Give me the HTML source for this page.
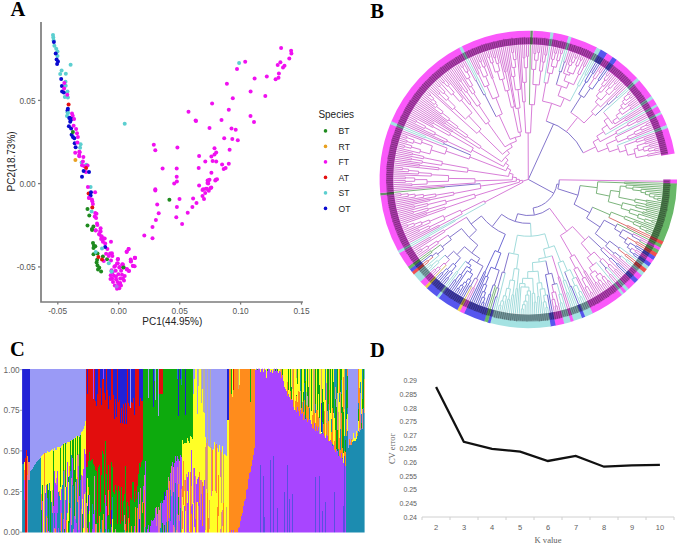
<!DOCTYPE html>
<html><head><meta charset="utf-8"><style>
html,body{margin:0;padding:0;background:#fff;width:685px;height:556px;overflow:hidden}
svg{display:block}
</style></head><body>
<svg width="685" height="556" viewBox="0 0 685 556">
<rect width="685" height="556" fill="#fff"/>
<g font-family="Liberation Sans, sans-serif">
<text x="10.5" y="15.8" font-family="Liberation Serif, serif" font-weight="bold" font-size="20.5">A</text>
<path d="M41 21.9V302H302.9" fill="none" stroke="#7c7c7c" stroke-width="1.7"/>
<line x1="57.8" y1="302" x2="57.8" y2="304.6" stroke="#7c7c7c" stroke-width="1.3"/>
<line x1="118.7" y1="302" x2="118.7" y2="304.6" stroke="#7c7c7c" stroke-width="1.3"/>
<line x1="179.7" y1="302" x2="179.7" y2="304.6" stroke="#7c7c7c" stroke-width="1.3"/>
<line x1="240.6" y1="302" x2="240.6" y2="304.6" stroke="#7c7c7c" stroke-width="1.3"/>
<line x1="301.5" y1="302" x2="301.5" y2="304.6" stroke="#7c7c7c" stroke-width="1.3"/>
<line x1="38" y1="100.4" x2="41" y2="100.4" stroke="#7c7c7c" stroke-width="1.3"/>
<line x1="38" y1="183.6" x2="41" y2="183.6" stroke="#7c7c7c" stroke-width="1.3"/>
<line x1="38" y1="266.9" x2="41" y2="266.9" stroke="#7c7c7c" stroke-width="1.3"/>
<text x="57.6" y="313.8" font-size="8.3" fill="#555" text-anchor="middle">-0.05</text>
<text x="118.7" y="313.8" font-size="8.3" fill="#555" text-anchor="middle">0.00</text>
<text x="179.7" y="313.8" font-size="8.3" fill="#555" text-anchor="middle">0.05</text>
<text x="240.6" y="313.8" font-size="8.3" fill="#555" text-anchor="middle">0.10</text>
<text x="301.5" y="313.8" font-size="8.3" fill="#555" text-anchor="middle">0.15</text>
<text x="35.6" y="103.80000000000001" font-size="8.3" fill="#555" text-anchor="end">0.05</text>
<text x="35.6" y="187.0" font-size="8.3" fill="#555" text-anchor="end">0.00</text>
<text x="35.6" y="270.29999999999995" font-size="8.3" fill="#555" text-anchor="end">-0.05</text>
<text x="172.3" y="325.4" font-size="10" fill="#222" text-anchor="middle">PC1(44.95%)</text>
<text transform="translate(14.6 161.4) rotate(-90)" font-size="10" fill="#222" text-anchor="middle">PC2(18.73%)</text>
<text x="318.4" y="117.7" font-size="10" fill="#222">Species</text>
<circle cx="325.5" cy="130.9" r="1.8" fill="#1f8b1f"/>
<text x="338.6" y="134.0" font-size="8.6" fill="#222">BT</text>
<circle cx="325.5" cy="146.4" r="1.8" fill="#e8a020"/>
<text x="338.6" y="149.5" font-size="8.6" fill="#222">RT</text>
<circle cx="325.5" cy="161.9" r="1.8" fill="#f010f0"/>
<text x="338.6" y="165.0" font-size="8.6" fill="#222">FT</text>
<circle cx="325.5" cy="177.4" r="1.8" fill="#e41010"/>
<text x="338.6" y="180.5" font-size="8.6" fill="#222">AT</text>
<circle cx="325.5" cy="192.9" r="1.8" fill="#5ccfd0"/>
<text x="338.6" y="196.0" font-size="8.6" fill="#222">ST</text>
<circle cx="325.5" cy="208.4" r="1.8" fill="#0a0ad0"/>
<text x="338.6" y="211.5" font-size="8.6" fill="#222">OT</text>
</g>
<g>
<circle cx="53.0" cy="34.9" r="2.0" fill="#5ccfd0"/>
<circle cx="53.3" cy="37.6" r="2.0" fill="#5ccfd0"/>
<circle cx="53.6" cy="40.5" r="2.0" fill="#5ccfd0"/>
<circle cx="54.4" cy="45.7" r="2.0" fill="#5ccfd0"/>
<circle cx="56.2" cy="48.8" r="2.0" fill="#5ccfd0"/>
<circle cx="57.5" cy="51.5" r="2.0" fill="#5ccfd0"/>
<circle cx="57.5" cy="56.0" r="2.0" fill="#5ccfd0"/>
<circle cx="53.9" cy="42.1" r="2.0" fill="#0a0ad0"/>
<circle cx="55.7" cy="53.6" r="2.0" fill="#0a0ad0"/>
<circle cx="56.6" cy="59.6" r="2.0" fill="#0a0ad0"/>
<circle cx="58.0" cy="61.4" r="2.0" fill="#0a0ad0"/>
<circle cx="57.1" cy="64.1" r="2.0" fill="#0a0ad0"/>
<circle cx="70.6" cy="64.8" r="2.0" fill="#5ccfd0"/>
<circle cx="61.6" cy="70.4" r="2.0" fill="#5ccfd0"/>
<circle cx="60.2" cy="74.0" r="2.0" fill="#5ccfd0"/>
<circle cx="65.8" cy="73.7" r="2.0" fill="#5ccfd0"/>
<circle cx="61.2" cy="79.0" r="2.0" fill="#0a0ad0"/>
<circle cx="61.9" cy="86.0" r="2.0" fill="#0a0ad0"/>
<circle cx="62.1" cy="91.6" r="2.0" fill="#0a0ad0"/>
<circle cx="63.9" cy="92.5" r="2.0" fill="#0a0ad0"/>
<circle cx="67.9" cy="108.7" r="2.0" fill="#0a0ad0"/>
<circle cx="69.7" cy="117.7" r="2.0" fill="#0a0ad0"/>
<circle cx="65.5" cy="81.7" r="2.0" fill="#5ccfd0"/>
<circle cx="65.7" cy="85.7" r="2.0" fill="#5ccfd0"/>
<circle cx="67.5" cy="91.4" r="2.0" fill="#5ccfd0"/>
<circle cx="64.8" cy="97.0" r="2.0" fill="#5ccfd0"/>
<circle cx="67.9" cy="97.4" r="2.0" fill="#5ccfd0"/>
<circle cx="67.5" cy="112.3" r="2.0" fill="#5ccfd0"/>
<circle cx="67.0" cy="115.9" r="2.0" fill="#5ccfd0"/>
<circle cx="64.3" cy="83.0" r="2.0" fill="#f010f0"/>
<circle cx="64.1" cy="88.4" r="2.0" fill="#f010f0"/>
<circle cx="67.3" cy="94.7" r="2.0" fill="#f010f0"/>
<circle cx="72.0" cy="113.4" r="2.0" fill="#f010f0"/>
<circle cx="72.7" cy="115.7" r="2.0" fill="#f010f0"/>
<circle cx="68.6" cy="104.6" r="2.0" fill="#e41010"/>
<circle cx="67.5" cy="110.4" r="2.0" fill="#0a0ad0"/>
<circle cx="69.3" cy="118.1" r="2.0" fill="#0a0ad0"/>
<circle cx="70.7" cy="119.9" r="2.0" fill="#0a0ad0"/>
<circle cx="70.2" cy="121.7" r="2.0" fill="#0a0ad0"/>
<circle cx="71.6" cy="119.0" r="2.0" fill="#0a0ad0"/>
<circle cx="68.9" cy="126.2" r="2.0" fill="#0a0ad0"/>
<circle cx="71.1" cy="128.4" r="2.0" fill="#0a0ad0"/>
<circle cx="71.6" cy="134.7" r="2.0" fill="#0a0ad0"/>
<circle cx="72.9" cy="137.0" r="2.0" fill="#0a0ad0"/>
<circle cx="74.3" cy="138.3" r="2.0" fill="#0a0ad0"/>
<circle cx="74.7" cy="143.3" r="2.0" fill="#0a0ad0"/>
<circle cx="75.6" cy="147.3" r="2.0" fill="#0a0ad0"/>
<circle cx="68.0" cy="113.1" r="2.0" fill="#5ccfd0"/>
<circle cx="80.6" cy="144.2" r="2.0" fill="#5ccfd0"/>
<circle cx="80.1" cy="147.8" r="2.0" fill="#5ccfd0"/>
<circle cx="74.1" cy="119.0" r="2.0" fill="#f010f0"/>
<circle cx="73.6" cy="125.7" r="2.0" fill="#f010f0"/>
<circle cx="76.1" cy="128.9" r="2.0" fill="#f010f0"/>
<circle cx="77.0" cy="133.2" r="2.0" fill="#f010f0"/>
<circle cx="77.9" cy="137.0" r="2.0" fill="#f010f0"/>
<circle cx="77.4" cy="142.4" r="2.0" fill="#f010f0"/>
<circle cx="75.2" cy="152.7" r="2.0" fill="#f010f0"/>
<circle cx="79.7" cy="152.3" r="2.0" fill="#f010f0"/>
<circle cx="79.2" cy="155.0" r="2.0" fill="#f010f0"/>
<circle cx="83.4" cy="156.9" r="2.0" fill="#f010f0"/>
<circle cx="79.3" cy="151.8" r="2.0" fill="#f010f0"/>
<circle cx="79.3" cy="156.3" r="2.0" fill="#f010f0"/>
<circle cx="72.9" cy="132.0" r="2.0" fill="#1f8b1f"/>
<circle cx="75.4" cy="160.0" r="2.0" fill="#e8a020"/>
<circle cx="81.6" cy="162.6" r="2.0" fill="#5ccfd0"/>
<circle cx="86.2" cy="164.8" r="2.0" fill="#5ccfd0"/>
<circle cx="90.6" cy="186.9" r="2.0" fill="#5ccfd0"/>
<circle cx="82.9" cy="161.5" r="2.0" fill="#f010f0"/>
<circle cx="82.0" cy="165.3" r="2.0" fill="#f010f0"/>
<circle cx="84.3" cy="166.2" r="2.0" fill="#f010f0"/>
<circle cx="87.6" cy="165.6" r="2.0" fill="#f010f0"/>
<circle cx="85.9" cy="172.0" r="2.0" fill="#f010f0"/>
<circle cx="87.9" cy="186.9" r="2.0" fill="#f010f0"/>
<circle cx="95.1" cy="192.3" r="2.0" fill="#f010f0"/>
<circle cx="89.2" cy="197.7" r="2.0" fill="#f010f0"/>
<circle cx="91.9" cy="199.5" r="2.0" fill="#f010f0"/>
<circle cx="86.1" cy="168.0" r="2.0" fill="#e41010"/>
<circle cx="88.6" cy="193.6" r="2.0" fill="#e41010"/>
<circle cx="83.6" cy="171.1" r="2.0" fill="#0a0ad0"/>
<circle cx="89.0" cy="172.0" r="2.0" fill="#0a0ad0"/>
<circle cx="82.0" cy="176.8" r="2.0" fill="#0a0ad0"/>
<circle cx="91.0" cy="192.3" r="2.0" fill="#0a0ad0"/>
<circle cx="90.6" cy="195.4" r="2.0" fill="#0a0ad0"/>
<circle cx="88.9" cy="198.1" r="2.0" fill="#f010f0"/>
<circle cx="92.3" cy="201.2" r="2.0" fill="#f010f0"/>
<circle cx="92.9" cy="203.9" r="2.0" fill="#f010f0"/>
<circle cx="95.2" cy="212.9" r="2.0" fill="#f010f0"/>
<circle cx="96.5" cy="213.8" r="2.0" fill="#f010f0"/>
<circle cx="94.7" cy="216.5" r="2.0" fill="#f010f0"/>
<circle cx="96.1" cy="217.9" r="2.0" fill="#f010f0"/>
<circle cx="97.0" cy="223.5" r="2.0" fill="#f010f0"/>
<circle cx="97.4" cy="225.1" r="2.0" fill="#f010f0"/>
<circle cx="95.6" cy="230.3" r="2.0" fill="#f010f0"/>
<circle cx="100.6" cy="228.2" r="2.0" fill="#f010f0"/>
<circle cx="100.6" cy="231.4" r="2.0" fill="#f010f0"/>
<circle cx="99.2" cy="234.1" r="2.0" fill="#f010f0"/>
<circle cx="101.5" cy="236.8" r="2.0" fill="#f010f0"/>
<circle cx="103.7" cy="238.6" r="2.0" fill="#f010f0"/>
<circle cx="92.3" cy="207.5" r="2.0" fill="#e41010"/>
<circle cx="87.5" cy="209.1" r="2.0" fill="#1f8b1f"/>
<circle cx="89.3" cy="215.4" r="2.0" fill="#1f8b1f"/>
<circle cx="87.5" cy="225.5" r="2.0" fill="#1f8b1f"/>
<circle cx="93.4" cy="226.4" r="2.0" fill="#1f8b1f"/>
<circle cx="92.0" cy="228.9" r="2.0" fill="#1f8b1f"/>
<circle cx="91.6" cy="211.6" r="2.0" fill="#5ccfd0"/>
<circle cx="92.1" cy="230.0" r="2.0" fill="#1f8b1f"/>
<circle cx="93.0" cy="243.0" r="2.0" fill="#1f8b1f"/>
<circle cx="93.9" cy="245.7" r="2.0" fill="#1f8b1f"/>
<circle cx="95.3" cy="246.2" r="2.0" fill="#1f8b1f"/>
<circle cx="93.5" cy="248.0" r="2.0" fill="#1f8b1f"/>
<circle cx="93.5" cy="254.3" r="2.0" fill="#1f8b1f"/>
<circle cx="97.5" cy="253.4" r="2.0" fill="#1f8b1f"/>
<circle cx="102.9" cy="256.5" r="2.0" fill="#1f8b1f"/>
<circle cx="107.0" cy="259.2" r="2.0" fill="#1f8b1f"/>
<circle cx="97.1" cy="259.7" r="2.0" fill="#1f8b1f"/>
<circle cx="96.6" cy="262.4" r="2.0" fill="#1f8b1f"/>
<circle cx="97.5" cy="265.5" r="2.0" fill="#1f8b1f"/>
<circle cx="99.3" cy="267.8" r="2.0" fill="#1f8b1f"/>
<circle cx="98.0" cy="269.6" r="2.0" fill="#1f8b1f"/>
<circle cx="101.1" cy="271.4" r="2.0" fill="#1f8b1f"/>
<circle cx="123.6" cy="267.3" r="2.0" fill="#1f8b1f"/>
<circle cx="95.7" cy="230.4" r="2.0" fill="#f010f0"/>
<circle cx="100.2" cy="230.9" r="2.0" fill="#f010f0"/>
<circle cx="99.3" cy="234.5" r="2.0" fill="#f010f0"/>
<circle cx="101.6" cy="236.3" r="2.0" fill="#f010f0"/>
<circle cx="101.1" cy="239.0" r="2.0" fill="#f010f0"/>
<circle cx="104.7" cy="238.5" r="2.0" fill="#f010f0"/>
<circle cx="102.9" cy="241.7" r="2.0" fill="#f010f0"/>
<circle cx="105.2" cy="243.5" r="2.0" fill="#f010f0"/>
<circle cx="111.0" cy="241.7" r="2.0" fill="#f010f0"/>
<circle cx="107.4" cy="248.9" r="2.0" fill="#f010f0"/>
<circle cx="106.1" cy="253.8" r="2.0" fill="#f010f0"/>
<circle cx="110.1" cy="253.4" r="2.0" fill="#f010f0"/>
<circle cx="111.9" cy="253.2" r="2.0" fill="#f010f0"/>
<circle cx="108.8" cy="256.1" r="2.0" fill="#f010f0"/>
<circle cx="112.4" cy="256.1" r="2.0" fill="#f010f0"/>
<circle cx="128.6" cy="248.9" r="2.0" fill="#f010f0"/>
<circle cx="126.8" cy="251.6" r="2.0" fill="#f010f0"/>
<circle cx="103.8" cy="261.0" r="2.0" fill="#f010f0"/>
<circle cx="111.0" cy="260.6" r="2.0" fill="#f010f0"/>
<circle cx="117.8" cy="259.2" r="2.0" fill="#f010f0"/>
<circle cx="134.9" cy="257.9" r="2.0" fill="#f010f0"/>
<circle cx="130.8" cy="261.5" r="2.0" fill="#f010f0"/>
<circle cx="133.1" cy="266.0" r="2.0" fill="#f010f0"/>
<circle cx="117.8" cy="263.3" r="2.0" fill="#f010f0"/>
<circle cx="115.1" cy="266.0" r="2.0" fill="#f010f0"/>
<circle cx="119.6" cy="266.9" r="2.0" fill="#f010f0"/>
<circle cx="122.3" cy="264.2" r="2.0" fill="#f010f0"/>
<circle cx="126.8" cy="269.6" r="2.0" fill="#f010f0"/>
<circle cx="129.0" cy="270.9" r="2.0" fill="#f010f0"/>
<circle cx="105.2" cy="246.9" r="2.0" fill="#0a0ad0"/>
<circle cx="102.0" cy="248.4" r="2.0" fill="#5ccfd0"/>
<circle cx="95.7" cy="252.0" r="2.0" fill="#5ccfd0"/>
<circle cx="108.8" cy="263.3" r="2.0" fill="#5ccfd0"/>
<circle cx="98.4" cy="257.0" r="2.0" fill="#e41010"/>
<circle cx="102.0" cy="259.5" r="2.0" fill="#e41010"/>
<circle cx="118.0" cy="259.0" r="2.0" fill="#f010f0"/>
<circle cx="117.0" cy="263.5" r="2.0" fill="#f010f0"/>
<circle cx="114.3" cy="266.7" r="2.0" fill="#f010f0"/>
<circle cx="119.3" cy="267.6" r="2.0" fill="#f010f0"/>
<circle cx="111.6" cy="270.3" r="2.0" fill="#f010f0"/>
<circle cx="115.7" cy="270.7" r="2.0" fill="#f010f0"/>
<circle cx="121.1" cy="270.7" r="2.0" fill="#f010f0"/>
<circle cx="110.7" cy="275.2" r="2.0" fill="#f010f0"/>
<circle cx="113.9" cy="275.7" r="2.0" fill="#f010f0"/>
<circle cx="118.4" cy="274.3" r="2.0" fill="#f010f0"/>
<circle cx="122.0" cy="274.8" r="2.0" fill="#f010f0"/>
<circle cx="124.7" cy="276.1" r="2.0" fill="#f010f0"/>
<circle cx="112.1" cy="278.8" r="2.0" fill="#f010f0"/>
<circle cx="116.1" cy="279.3" r="2.0" fill="#f010f0"/>
<circle cx="120.2" cy="278.4" r="2.0" fill="#f010f0"/>
<circle cx="122.9" cy="278.8" r="2.0" fill="#f010f0"/>
<circle cx="113.0" cy="282.0" r="2.0" fill="#f010f0"/>
<circle cx="117.5" cy="282.0" r="2.0" fill="#f010f0"/>
<circle cx="120.2" cy="282.9" r="2.0" fill="#f010f0"/>
<circle cx="114.8" cy="285.6" r="2.0" fill="#f010f0"/>
<circle cx="118.4" cy="285.1" r="2.0" fill="#f010f0"/>
<circle cx="117.0" cy="288.7" r="2.0" fill="#f010f0"/>
<circle cx="119.3" cy="288.3" r="2.0" fill="#f010f0"/>
<circle cx="112.5" cy="272.5" r="2.0" fill="#f010f0"/>
<circle cx="110.5" cy="279.0" r="2.0" fill="#f010f0"/>
<circle cx="124.0" cy="280.5" r="2.0" fill="#f010f0"/>
<circle cx="116.0" cy="276.5" r="2.0" fill="#f010f0"/>
<circle cx="121.0" cy="285.5" r="2.0" fill="#f010f0"/>
<circle cx="122.9" cy="264.4" r="2.0" fill="#f010f0"/>
<circle cx="126.9" cy="268.9" r="2.0" fill="#f010f0"/>
<circle cx="128.7" cy="270.7" r="2.0" fill="#f010f0"/>
<circle cx="131.0" cy="261.3" r="2.0" fill="#f010f0"/>
<circle cx="135.0" cy="257.7" r="2.0" fill="#f010f0"/>
<circle cx="132.8" cy="265.8" r="2.0" fill="#f010f0"/>
<circle cx="134.6" cy="266.2" r="2.0" fill="#f010f0"/>
<circle cx="123.3" cy="267.6" r="2.0" fill="#1f8b1f"/>
<circle cx="111.6" cy="271.6" r="2.0" fill="#5ccfd0"/>
<circle cx="111.5" cy="271.4" r="2.0" fill="#5ccfd0"/>
<circle cx="116.6" cy="286.5" r="2.0" fill="#b070e8"/>
<circle cx="155.3" cy="190.6" r="2.0" fill="#f010f0"/>
<circle cx="179.5" cy="199.1" r="2.0" fill="#f010f0"/>
<circle cx="193.1" cy="198.4" r="2.0" fill="#f010f0"/>
<circle cx="196.5" cy="203.0" r="2.0" fill="#f010f0"/>
<circle cx="157.2" cy="204.5" r="2.0" fill="#f010f0"/>
<circle cx="176.9" cy="207.0" r="2.0" fill="#f010f0"/>
<circle cx="192.4" cy="207.0" r="2.0" fill="#f010f0"/>
<circle cx="158.7" cy="213.3" r="2.0" fill="#f010f0"/>
<circle cx="187.7" cy="212.7" r="2.0" fill="#f010f0"/>
<circle cx="176.3" cy="217.2" r="2.0" fill="#f010f0"/>
<circle cx="155.9" cy="220.0" r="2.0" fill="#f010f0"/>
<circle cx="182.1" cy="224.0" r="2.0" fill="#f010f0"/>
<circle cx="152.5" cy="226.9" r="2.0" fill="#f010f0"/>
<circle cx="144.3" cy="235.6" r="2.0" fill="#f010f0"/>
<circle cx="152.5" cy="238.3" r="2.0" fill="#f010f0"/>
<circle cx="128.6" cy="249.0" r="2.0" fill="#f010f0"/>
<circle cx="126.6" cy="252.0" r="2.0" fill="#f010f0"/>
<circle cx="134.9" cy="257.8" r="2.0" fill="#f010f0"/>
<circle cx="130.7" cy="259.5" r="2.0" fill="#f010f0"/>
<circle cx="169.4" cy="199.7" r="2.0" fill="#1f8b1f"/>
<circle cx="124.7" cy="123.8" r="2.0" fill="#5ccfd0"/>
<circle cx="195.6" cy="120.6" r="2.0" fill="#f010f0"/>
<circle cx="153.8" cy="144.8" r="2.0" fill="#f010f0"/>
<circle cx="155.3" cy="150.2" r="2.0" fill="#f010f0"/>
<circle cx="177.4" cy="147.5" r="2.0" fill="#f010f0"/>
<circle cx="199.1" cy="155.9" r="2.0" fill="#f010f0"/>
<circle cx="162.6" cy="168.5" r="2.0" fill="#f010f0"/>
<circle cx="176.7" cy="168.5" r="2.0" fill="#f010f0"/>
<circle cx="198.7" cy="167.9" r="2.0" fill="#f010f0"/>
<circle cx="176.7" cy="176.7" r="2.0" fill="#f010f0"/>
<circle cx="176.9" cy="181.5" r="2.0" fill="#f010f0"/>
<circle cx="174.2" cy="183.6" r="2.0" fill="#f010f0"/>
<circle cx="199.1" cy="185.5" r="2.0" fill="#f010f0"/>
<circle cx="155.3" cy="189.3" r="2.0" fill="#f010f0"/>
<circle cx="221.5" cy="120.0" r="2.0" fill="#f010f0"/>
<circle cx="254.0" cy="121.9" r="2.0" fill="#f010f0"/>
<circle cx="209.5" cy="127.9" r="2.0" fill="#f010f0"/>
<circle cx="231.5" cy="128.6" r="2.0" fill="#f010f0"/>
<circle cx="235.7" cy="129.8" r="2.0" fill="#f010f0"/>
<circle cx="224.2" cy="138.3" r="2.0" fill="#f010f0"/>
<circle cx="232.3" cy="138.9" r="2.0" fill="#f010f0"/>
<circle cx="237.8" cy="140.2" r="2.0" fill="#f010f0"/>
<circle cx="214.5" cy="148.3" r="2.0" fill="#f010f0"/>
<circle cx="229.6" cy="149.7" r="2.0" fill="#f010f0"/>
<circle cx="216.2" cy="152.5" r="2.0" fill="#f010f0"/>
<circle cx="211.4" cy="156.5" r="2.0" fill="#f010f0"/>
<circle cx="214.5" cy="154.6" r="2.0" fill="#f010f0"/>
<circle cx="205.3" cy="161.6" r="2.0" fill="#f010f0"/>
<circle cx="212.6" cy="161.0" r="2.0" fill="#f010f0"/>
<circle cx="216.2" cy="161.6" r="2.0" fill="#f010f0"/>
<circle cx="222.1" cy="164.5" r="2.0" fill="#f010f0"/>
<circle cx="228.8" cy="163.8" r="2.0" fill="#f010f0"/>
<circle cx="223.7" cy="169.1" r="2.0" fill="#f010f0"/>
<circle cx="225.6" cy="167.9" r="2.0" fill="#f010f0"/>
<circle cx="211.4" cy="172.7" r="2.0" fill="#f010f0"/>
<circle cx="207.6" cy="180.5" r="2.0" fill="#f010f0"/>
<circle cx="209.5" cy="179.8" r="2.0" fill="#f010f0"/>
<circle cx="208.2" cy="183.6" r="2.0" fill="#f010f0"/>
<circle cx="215.8" cy="179.8" r="2.0" fill="#f010f0"/>
<circle cx="217.0" cy="179.2" r="2.0" fill="#f010f0"/>
<circle cx="203.2" cy="189.3" r="2.0" fill="#f010f0"/>
<circle cx="207.0" cy="188.7" r="2.0" fill="#f010f0"/>
<circle cx="210.7" cy="188.0" r="2.0" fill="#f010f0"/>
<circle cx="208.4" cy="180.6" r="2.0" fill="#f010f0"/>
<circle cx="207.5" cy="183.1" r="2.0" fill="#f010f0"/>
<circle cx="215.3" cy="180.6" r="2.0" fill="#f010f0"/>
<circle cx="202.5" cy="190.1" r="2.0" fill="#f010f0"/>
<circle cx="205.9" cy="188.8" r="2.0" fill="#f010f0"/>
<circle cx="208.8" cy="190.7" r="2.0" fill="#f010f0"/>
<circle cx="211.3" cy="187.6" r="2.0" fill="#f010f0"/>
<circle cx="205.2" cy="192.9" r="2.0" fill="#f010f0"/>
<circle cx="202.5" cy="196.1" r="2.0" fill="#f010f0"/>
<circle cx="204.0" cy="199.1" r="2.0" fill="#f010f0"/>
<circle cx="281.1" cy="47.9" r="2.0" fill="#f010f0"/>
<circle cx="291.1" cy="50.7" r="2.0" fill="#f010f0"/>
<circle cx="291.4" cy="53.5" r="2.0" fill="#f010f0"/>
<circle cx="289.3" cy="58.6" r="2.0" fill="#f010f0"/>
<circle cx="245.2" cy="61.7" r="2.0" fill="#f010f0"/>
<circle cx="237.0" cy="69.0" r="2.0" fill="#f010f0"/>
<circle cx="280.4" cy="62.3" r="2.0" fill="#f010f0"/>
<circle cx="277.7" cy="64.9" r="2.0" fill="#f010f0"/>
<circle cx="284.5" cy="65.8" r="2.0" fill="#f010f0"/>
<circle cx="283.0" cy="67.5" r="2.0" fill="#f010f0"/>
<circle cx="278.9" cy="73.6" r="2.0" fill="#f010f0"/>
<circle cx="254.6" cy="78.4" r="2.0" fill="#f010f0"/>
<circle cx="266.8" cy="76.5" r="2.0" fill="#f010f0"/>
<circle cx="278.5" cy="77.8" r="2.0" fill="#f010f0"/>
<circle cx="275.6" cy="79.3" r="2.0" fill="#f010f0"/>
<circle cx="226.9" cy="83.8" r="2.0" fill="#f010f0"/>
<circle cx="250.6" cy="91.4" r="2.0" fill="#f010f0"/>
<circle cx="265.3" cy="96.1" r="2.0" fill="#f010f0"/>
<circle cx="232.8" cy="98.2" r="2.0" fill="#f010f0"/>
<circle cx="228.8" cy="109.8" r="2.0" fill="#f010f0"/>
<circle cx="239.1" cy="62.9" r="2.0" fill="#5ccfd0"/>
<circle cx="212.1" cy="103.6" r="2.0" fill="#f010f0"/>
<circle cx="188.5" cy="111.7" r="2.0" fill="#f010f0"/>
<circle cx="250.5" cy="115.9" r="2.0" fill="#f010f0"/>
<circle cx="196.0" cy="121.0" r="2.0" fill="#f010f0"/>
</g>
<text x="370.2" y="18" font-family="Liberation Serif, serif" font-weight="bold" font-size="20.5">B</text>
<g fill="none" stroke-width="1.0">
<path stroke="#8476cc" d="M528.30 179.40L553.81 193.19M556.92 184.05A29.00 29.00 0 0 1 533.14 207.99M556.92 184.05L558.90 184.38M559.30 179.83A31.00 31.00 0 0 1 557.84 188.81M557.84 188.81L578.01 195.23M580.10 185.60A52.17 52.17 0 0 1 574.14 204.30M574.14 204.30L589.77 212.79M592.49 207.20A69.95 69.95 0 0 1 586.57 218.11M586.57 218.11L600.03 227.06M604.18 220.13A86.12 86.12 0 0 1 595.25 233.57M604.18 220.13L615.99 226.47M617.32 223.90A99.52 99.52 0 0 1 614.59 228.99M614.59 228.99L621.04 232.70M622.73 229.64A106.96 106.96 0 0 1 619.25 235.69M622.73 229.64L632.62 234.90M633.21 233.77A118.16 118.16 0 0 1 632.01 236.04M632.01 236.04L640.10 240.45M640.54 239.64A127.38 127.38 0 0 1 639.65 241.26M619.25 235.69L626.02 239.89M627.52 237.39A114.93 114.93 0 0 1 624.45 242.35M624.45 242.35L628.73 245.14M630.14 242.94A120.04 120.04 0 0 1 627.28 247.31M627.28 247.31L630.82 249.75M631.83 248.25A124.34 124.34 0 0 1 629.79 251.23M595.25 233.57L607.63 243.58M609.63 241.04A102.04 102.04 0 0 1 605.56 246.07M609.63 241.04L618.95 248.10M619.69 247.11A113.74 113.74 0 0 1 618.20 249.08M605.56 246.07L614.04 253.39M614.98 252.30A113.26 113.26 0 0 1 613.10 254.48M614.98 252.30L620.39 256.86M621.23 255.85A120.34 120.34 0 0 1 619.54 257.85M533.14 207.99L534.31 214.90M549.69 208.35A36.00 36.00 0 0 1 517.63 213.78M588.66 236.26L601.87 248.70M602.99 247.49A101.07 101.07 0 0 1 600.73 249.89M600.73 249.89L609.91 258.82M610.77 257.93A113.88 113.88 0 0 1 609.04 259.70M599.77 261.02L606.02 268.16M606.99 267.31A117.98 117.98 0 0 1 605.05 269.00M517.63 213.78L515.25 221.42M530.52 223.34A44.00 44.00 0 0 1 501.58 214.36M564.68 271.89L570.40 286.44M571.18 286.13A115.02 115.02 0 0 1 569.62 286.74M545.83 260.82L548.66 273.99M551.78 273.26A96.75 96.75 0 0 1 545.52 274.61M551.78 273.26L554.50 284.14M557.06 283.47A107.97 107.97 0 0 1 551.93 284.75M508.94 252.75L503.74 272.48M505.26 272.87A96.27 96.27 0 0 1 502.22 272.07M502.22 272.07L497.74 288.01M498.92 288.34A112.83 112.83 0 0 1 496.56 287.68M498.92 288.34L496.59 296.99M497.44 297.22A121.79 121.79 0 0 1 495.73 296.76M501.58 214.36L492.20 226.64M505.32 234.24A59.46 59.46 0 0 1 481.42 215.97M499.16 270.19L494.33 285.25M495.48 285.61A111.17 111.17 0 0 1 493.18 284.87M481.42 215.97L471.12 224.01M476.52 230.17A72.52 72.52 0 0 1 466.46 217.27M476.52 230.17L469.10 237.44M477.79 245.15A82.91 82.91 0 0 1 461.56 228.59M477.79 245.15L471.81 252.94M479.74 258.40A92.73 92.73 0 0 1 464.49 246.69M479.74 258.40L477.03 262.80M483.01 266.19A97.90 97.90 0 0 1 471.31 259.00M483.01 266.19L476.46 278.74M477.90 279.48A112.06 112.06 0 0 1 475.02 277.98M475.02 277.98L470.61 286.14M471.39 286.56A121.33 121.33 0 0 1 469.84 285.72M464.49 246.69L457.02 254.57M460.53 257.76A103.60 103.60 0 0 1 453.65 251.23M453.65 251.23L447.24 257.40M449.47 259.65A112.49 112.49 0 0 1 445.08 255.09M461.56 228.59L449.66 237.36M451.41 239.65A97.69 97.69 0 0 1 447.99 235.02M451.41 239.65L442.20 246.87M443.88 248.95A109.38 109.38 0 0 1 440.57 244.74M443.88 248.95L437.57 254.15M438.80 255.62A117.56 117.56 0 0 1 436.36 252.66M436.36 252.66L432.07 256.08M432.91 257.12A123.05 123.05 0 0 1 431.24 255.03M480.16 183.70L444.42 186.89M444.48 187.49A84.21 84.21 0 0 1 444.37 186.28M470.64 154.99L443.87 143.66M443.49 144.58A91.68 91.68 0 0 1 444.27 142.74M496.15 116.74L484.75 94.52M483.83 95.00A95.40 95.40 0 0 1 485.67 94.05M483.83 95.00L476.12 80.37M475.40 80.75A111.94 111.94 0 0 1 476.84 80.00M528.30 179.40L553.60 123.89M546.21 121.09A61.00 61.00 0 0 1 583.23 152.87M556.31 84.62L560.15 71.64M558.98 71.30A112.37 112.37 0 0 1 561.32 71.99M561.32 71.99L564.39 62.02M563.53 61.76A122.81 122.81 0 0 1 565.24 62.28M570.81 112.45L581.34 95.85M578.67 94.21A98.96 98.96 0 0 1 583.97 97.58M583.97 97.58L590.49 87.99M588.65 86.77A110.56 110.56 0 0 1 592.30 89.25M595.28 115.58L607.69 103.75M606.86 102.89A109.66 109.66 0 0 1 608.51 104.62M608.51 104.62L616.72 96.96M616.12 96.32A120.89 120.89 0 0 1 617.32 97.60"/>
<path stroke="#d87ed8" d="M559.30 179.83L663.09 181.28M633.21 233.77L647.99 241.42M640.54 239.64L647.07 243.15M631.83 248.25L635.54 250.72M636.05 249.94A128.78 128.78 0 0 1 635.02 251.49M636.05 249.94L641.08 253.23M635.02 251.49L640.00 254.86M619.54 257.85L630.51 267.28M613.10 254.48L629.23 268.76M549.69 208.35L566.72 231.39M572.53 226.55A64.65 64.65 0 0 1 560.39 235.52M572.53 226.55L585.03 239.88M588.66 236.26A82.92 82.92 0 0 1 581.18 243.27M602.99 247.49L627.92 270.21M609.04 259.70L623.88 274.46M581.18 243.27L590.81 254.90M594.20 251.96A98.02 98.02 0 0 1 587.29 257.68M594.20 251.96L601.24 259.71M602.68 258.37A108.49 108.49 0 0 1 599.77 261.02M602.68 258.37L608.99 265.07M609.92 264.19A117.69 117.69 0 0 1 608.06 265.94M609.92 264.19L615.16 269.63M615.81 269.00A125.24 125.24 0 0 1 614.50 270.26M615.81 269.00L622.49 275.83M614.50 270.26L621.08 277.19M608.06 265.94L619.65 278.53M605.05 269.00L610.09 274.87M610.78 274.28A125.71 125.71 0 0 1 609.39 275.46M610.78 274.28L616.74 281.13M609.39 275.46L615.25 282.41M587.29 257.68L592.90 265.12M596.34 262.42A107.34 107.34 0 0 1 589.35 267.69M589.35 267.69L592.63 272.44M595.14 270.65A113.11 113.11 0 0 1 590.08 274.15M595.14 270.65L598.00 274.55M600.05 273.01A117.95 117.95 0 0 1 595.91 276.05M600.05 273.01L603.07 276.95M604.13 276.13A122.91 122.91 0 0 1 602.00 277.76M604.13 276.13L608.12 281.23M608.86 280.65A129.39 129.39 0 0 1 607.38 281.81M608.86 280.65L612.23 284.88M607.38 281.81L610.69 286.09M602.00 277.76L609.13 287.27M595.91 276.05L599.08 280.58M600.18 279.80A123.48 123.48 0 0 1 597.98 281.34M600.18 279.80L603.16 283.97M603.92 283.43A128.61 128.61 0 0 1 602.40 284.51M603.92 283.43L607.56 288.44M602.40 284.51L605.97 289.57M597.98 281.34L604.36 290.69M590.08 274.15L595.81 282.94M596.56 282.45A123.60 123.60 0 0 1 595.06 283.42M596.56 282.45L602.74 291.78M595.06 283.42L601.11 292.85M560.39 235.52L572.09 256.00M574.33 254.67A88.23 88.23 0 0 1 569.81 257.25M574.33 254.67L584.43 271.20M585.10 270.79A107.60 107.60 0 0 1 583.77 271.61M585.10 270.79L599.45 293.89M583.77 271.61L597.78 294.91M569.81 257.25L575.68 268.26M577.53 267.26A100.71 100.71 0 0 1 573.82 269.23M577.53 267.26L583.59 278.08M585.19 277.16A113.11 113.11 0 0 1 581.97 278.96M585.19 277.16L596.10 295.91M581.97 278.96L586.30 287.00M587.47 286.36A122.24 122.24 0 0 1 585.13 287.62M587.47 286.36L590.92 292.60M591.74 292.14A129.37 129.37 0 0 1 590.10 293.05M591.74 292.14L594.40 296.88M590.10 293.05L592.69 297.83M585.13 287.62L590.97 298.75M573.82 269.23L589.23 299.64M576.10 277.22L587.48 300.51M552.12 255.79L558.77 277.13M559.48 276.90A102.37 102.37 0 0 1 558.06 277.34M559.48 276.90L569.35 307.80M558.06 277.34L567.49 308.38M551.93 284.75L553.61 292.24M555.45 291.81A115.64 115.64 0 0 1 551.76 292.64M555.45 291.81L559.94 310.43M551.76 292.64L553.19 299.53M554.50 299.25A122.68 122.68 0 0 1 551.88 299.79M554.50 299.25L555.98 306.05M556.90 305.85A129.64 129.64 0 0 1 555.07 306.25M556.90 305.85L558.04 310.88M555.07 306.25L556.13 311.30M551.88 299.79L554.21 311.69M477.90 279.48L473.59 288.05M474.38 288.45A121.65 121.65 0 0 1 472.80 287.65M474.38 288.45L468.55 300.23M472.80 287.65L466.80 299.35M449.47 259.65L445.11 264.08M446.19 265.13A118.70 118.70 0 0 1 444.05 263.01M444.05 263.01L439.22 267.80M440.19 268.77A125.50 125.50 0 0 1 438.26 266.83M440.19 268.77L433.66 275.39M438.26 266.83L435.29 269.71M435.95 270.39A129.64 129.64 0 0 1 434.64 269.04M435.95 270.39L432.28 274.01M434.64 269.04L430.91 272.60M447.99 235.02L437.73 242.13M438.53 243.27A110.17 110.17 0 0 1 436.94 240.97M438.53 243.27L418.47 257.55M436.94 240.97L428.02 246.99M428.76 248.07A120.93 120.93 0 0 1 427.29 245.89M428.76 248.07L417.34 255.95M427.29 245.89L421.61 249.63M422.12 250.40A127.73 127.73 0 0 1 421.10 248.85M422.12 250.40L416.24 254.33M421.10 248.85L415.17 252.70M466.46 217.27L444.30 230.84M444.87 231.75A98.50 98.50 0 0 1 443.75 229.93M444.87 231.75L414.12 251.05M443.75 229.93L430.35 237.94M430.77 238.64A114.11 114.11 0 0 1 429.92 237.22M430.77 238.64L413.09 249.39M429.92 237.22L412.09 247.71M528.30 179.40L522.59 181.25M522.98 182.18A6.00 6.00 0 0 1 522.37 180.28M522.98 182.18L484.88 202.07M485.54 203.30A48.99 48.99 0 0 1 484.25 200.83M484.25 200.83L461.31 211.99M462.24 213.84A74.50 74.50 0 0 1 460.43 210.11M462.24 213.84L438.93 226.00M439.27 226.65A100.79 100.79 0 0 1 438.59 225.35M439.27 226.65L409.23 242.59M438.59 225.35L408.32 240.85M460.43 210.11L444.11 217.49M445.01 219.43A92.41 92.41 0 0 1 443.25 215.53M445.01 219.43L429.44 226.91M429.97 227.98A109.68 109.68 0 0 1 428.93 225.83M429.97 227.98L407.44 239.11M428.93 225.83L419.09 230.43M419.46 231.22A120.54 120.54 0 0 1 418.72 229.64M419.46 231.22L406.59 237.35M418.72 229.64L405.76 235.58M443.25 215.53L429.68 221.30M430.26 222.64A107.15 107.15 0 0 1 429.12 219.95M430.26 222.64L404.96 233.79M429.12 219.95L421.61 223.03M422.17 224.38A115.26 115.26 0 0 1 421.07 221.67M422.17 224.38L404.19 232.00M421.07 221.67L414.19 224.38M414.68 225.62A122.66 122.66 0 0 1 413.71 223.14M414.68 225.62L403.44 230.19M413.71 223.14L407.62 225.46M407.96 226.33A129.17 129.17 0 0 1 407.29 224.58M407.96 226.33L402.71 228.38M407.29 224.58L402.02 226.55M522.37 180.28L519.40 180.72M519.70 182.05A9.00 9.00 0 0 1 519.30 179.36M519.70 182.05L474.96 195.86M475.52 197.59A55.82 55.82 0 0 1 474.45 194.11M475.52 197.59L445.21 208.04M445.53 208.94A87.88 87.88 0 0 1 444.91 207.14M445.53 208.94L401.34 224.71M444.91 207.14L426.63 213.21M426.88 213.95A107.15 107.15 0 0 1 426.38 212.48M426.88 213.95L400.70 222.87M426.38 212.48L400.08 221.01M474.45 194.11L445.92 201.90M446.43 203.69A85.39 85.39 0 0 1 445.45 200.11M446.43 203.69L427.96 209.17M428.29 210.26A104.66 104.66 0 0 1 427.64 208.08M428.29 210.26L399.49 219.15M427.64 208.08L413.43 212.13M413.68 212.96A119.44 119.44 0 0 1 413.20 211.29M413.68 212.96L398.93 217.28M413.20 211.29L398.39 215.40M445.45 200.11L427.69 204.55M427.97 205.64A103.71 103.71 0 0 1 427.42 203.45M427.97 205.64L397.89 213.51M427.42 203.45L414.46 206.54M414.66 207.37A117.04 117.04 0 0 1 414.26 205.72M414.66 207.37L397.41 211.61M414.26 205.72L396.95 209.71M519.30 179.36L516.30 179.34M516.41 181.05A12.00 12.00 0 0 1 516.43 177.64M516.41 181.05L480.43 186.05M480.81 188.39A48.33 48.33 0 0 1 480.16 183.70M480.81 188.39L453.69 193.53M453.96 194.86A75.94 75.94 0 0 1 453.45 192.19M453.96 194.86L429.80 199.88M429.96 200.60A100.60 100.60 0 0 1 429.66 199.17M429.96 200.60L396.53 207.80M429.66 199.17L396.13 205.89M453.45 192.19L435.81 195.20M436.04 196.50A93.83 93.83 0 0 1 435.60 193.90M436.04 196.50L395.76 203.97M435.60 193.90L423.48 195.80M423.71 197.22A106.10 106.10 0 0 1 423.27 194.37M423.71 197.22L395.42 202.04M423.27 194.37L415.07 195.54M415.28 196.98A114.38 114.38 0 0 1 414.87 194.10M415.28 196.98L395.10 200.11M414.87 194.10L408.22 194.96M408.40 196.27A121.08 121.08 0 0 1 408.06 193.66M408.40 196.27L394.81 198.18M408.06 193.66L401.01 194.49M401.12 195.42A128.18 128.18 0 0 1 400.91 193.57M401.12 195.42L394.56 196.24M400.91 193.57L394.33 194.30M444.37 186.28L393.95 190.41M516.43 177.64L512.47 177.05M512.31 179.84A16.00 16.00 0 0 1 513.12 174.33M512.31 179.84L474.98 180.87M475.08 182.98A53.34 53.34 0 0 1 474.96 178.76M475.08 182.98L393.80 188.46M474.96 178.76L448.48 178.44M448.50 181.30A79.82 79.82 0 0 1 448.57 175.58M448.50 181.30L427.04 181.80M427.12 184.01A101.29 101.29 0 0 1 427.01 179.60M427.12 184.01L411.98 184.70M412.02 185.54A116.44 116.44 0 0 1 411.94 183.85M412.02 185.54L393.69 186.51M411.94 183.85L393.60 184.55M427.01 179.60L414.69 179.63M414.70 181.27A113.61 113.61 0 0 1 414.70 177.98M414.70 181.27L405.41 181.43M405.43 182.32A122.91 122.91 0 0 1 405.40 180.54M405.43 182.32L393.54 182.60M405.40 180.54L393.51 180.65M414.70 177.98L405.44 177.86M405.43 178.75A122.87 122.87 0 0 1 405.46 176.97M405.43 178.75L393.50 178.69M405.46 176.97L393.53 176.74M448.57 175.58L431.33 174.75M431.27 176.07A97.08 97.08 0 0 1 431.40 173.44M431.27 176.07L393.58 174.78M431.40 173.44L418.51 172.64M418.44 174.04A109.99 109.99 0 0 1 418.61 171.25M418.44 174.04L393.66 172.83M418.61 171.25L408.53 170.50M408.44 171.81A120.10 120.10 0 0 1 408.64 169.20M408.44 171.81L393.77 170.88M408.64 169.20L402.61 168.69M402.53 169.60A126.15 126.15 0 0 1 402.69 167.77M402.53 169.60L393.91 168.93M402.69 167.77L394.07 166.98M513.12 174.33L509.33 173.07M508.53 176.41A20.00 20.00 0 0 1 510.69 169.92M508.53 176.41L467.73 170.23M467.47 172.21A61.26 61.26 0 0 1 468.07 168.26M467.47 172.21L438.82 168.82M438.71 169.80A90.10 90.10 0 0 1 438.94 167.85M438.71 169.80L394.27 165.03M438.94 167.85L419.53 165.34M419.43 166.13A109.68 109.68 0 0 1 419.63 164.55M419.43 166.13L394.49 163.09M419.63 164.55L394.74 161.15M468.07 168.26L442.01 163.44M441.68 165.32A87.76 87.76 0 0 1 442.38 161.56M441.68 165.32L422.28 162.16M422.10 163.32A107.41 107.41 0 0 1 422.47 161.01M422.10 163.32L395.02 159.21M422.47 161.01L411.39 159.08M411.25 159.93A118.66 118.66 0 0 1 411.54 158.24M411.25 159.93L395.33 157.28M411.54 158.24L395.66 155.36M442.38 161.56L423.52 157.65M423.29 158.79A107.02 107.02 0 0 1 423.76 156.51M423.29 158.79L396.02 153.44M423.76 156.51L412.42 154.02M412.24 154.87A118.63 118.63 0 0 1 412.60 153.18M412.24 154.87L396.41 151.52M412.60 153.18L396.83 149.61M510.69 169.92L507.17 168.02M505.89 170.81A24.00 24.00 0 0 1 508.80 165.42M505.89 170.81L469.83 157.00M469.09 159.04A62.61 62.61 0 0 1 470.64 154.99M469.09 159.04L445.99 151.10M445.00 154.14A87.04 87.04 0 0 1 447.08 148.10M445.00 154.14L431.08 149.92M429.96 153.91A101.59 101.59 0 0 1 432.36 145.98M429.96 153.91L420.09 151.35M419.65 153.12A111.79 111.79 0 0 1 420.56 149.59M419.65 153.12L397.28 147.71M420.56 149.59L411.41 147.05M411.06 148.33A121.29 121.29 0 0 1 411.77 145.78M411.06 148.33L404.47 146.58M404.23 147.48A128.11 128.11 0 0 1 404.71 145.68M404.23 147.48L397.75 145.81M404.71 145.68L398.25 143.92M411.77 145.78L398.78 142.04M432.36 145.98L421.59 142.22M420.93 144.16A113.00 113.00 0 0 1 422.28 140.29M420.93 144.16L413.55 141.74M413.02 143.41A120.77 120.77 0 0 1 414.11 140.08M413.02 143.41L406.92 141.51M406.65 142.39A127.15 127.15 0 0 1 407.20 140.63M406.65 142.39L399.34 140.16M407.20 140.63L399.92 138.30M414.11 140.08L406.73 137.54M406.43 138.42A128.57 128.57 0 0 1 407.04 136.66M406.43 138.42L400.53 136.44M407.04 136.66L401.17 134.59M422.28 140.29L401.83 132.75M447.08 148.10L402.52 130.92M444.27 142.74L404.75 125.50M508.80 165.42L505.54 163.08M503.46 166.47A28.00 28.00 0 0 1 508.09 160.02M503.46 166.47L472.12 150.16M470.98 152.45A63.33 63.33 0 0 1 473.34 147.92M470.98 152.45L446.85 141.11M446.34 142.22A90.00 90.00 0 0 1 447.38 140.00M446.34 142.22L405.54 123.71M447.38 140.00L434.85 133.90M434.28 135.09A103.94 103.94 0 0 1 435.43 132.72M434.28 135.09L406.36 121.94M435.43 132.72L424.99 127.47M424.43 128.60A115.63 115.63 0 0 1 425.56 126.35M424.43 128.60L407.21 120.17M425.56 126.35L416.33 121.58M415.91 122.39A126.02 126.02 0 0 1 416.75 120.77M415.91 122.39L408.08 118.42M416.75 120.77L408.98 116.69M473.34 147.92L449.88 134.48M449.24 135.62A90.37 90.37 0 0 1 450.54 133.35M449.24 135.62L433.15 126.72M432.77 127.41A108.76 108.76 0 0 1 433.54 126.03M432.77 127.41L409.90 114.96M433.54 126.03L410.85 113.25M450.54 133.35L433.28 123.13M432.87 123.82A110.44 110.44 0 0 1 433.69 122.44M432.87 123.82L411.82 111.56M433.69 122.44L412.81 109.87M508.09 160.02L505.20 157.26M501.66 161.67A32.00 32.00 0 0 1 509.46 153.53M501.66 161.67L480.26 147.43M479.52 148.57A57.70 57.70 0 0 1 481.03 146.31M479.52 148.57L452.41 131.43M452.07 131.98A89.78 89.78 0 0 1 452.76 130.88M452.07 131.98L413.83 108.21M452.76 130.88L414.88 106.55M481.03 146.31L466.99 136.48M466.23 137.60A74.84 74.84 0 0 1 467.78 135.38M466.23 137.60L445.04 123.33M444.64 123.93A100.38 100.38 0 0 1 445.45 122.73M444.64 123.93L415.95 104.92M445.45 122.73L417.04 103.29M467.78 135.38L457.20 127.69M456.47 128.72A87.91 87.91 0 0 1 457.95 126.67M456.47 128.72L418.16 101.69M457.95 126.67L448.82 119.83M447.98 120.97A99.33 99.33 0 0 1 449.68 118.70M447.98 120.97L419.29 100.10M449.68 118.70L442.15 112.88M441.23 114.10A108.84 108.84 0 0 1 443.09 111.68M441.23 114.10L420.46 98.53M443.09 111.68L436.51 106.45M435.53 107.70A117.25 117.25 0 0 1 437.51 105.21M435.53 107.70L421.64 96.97M437.51 105.21L435.26 103.37M434.30 104.56A120.15 120.15 0 0 1 436.23 102.19M434.30 104.56L422.85 95.43M436.23 102.19L432.95 99.44M432.09 100.48A124.44 124.44 0 0 1 433.83 98.41M432.09 100.48L424.08 93.91M433.83 98.41L429.88 95.03M429.27 95.74A129.63 129.63 0 0 1 430.50 94.32M429.27 95.74L425.33 92.41M430.50 94.32L426.60 90.92M509.46 153.53L507.11 150.30M502.54 154.25A36.00 36.00 0 0 1 512.26 147.17M502.54 154.25L478.97 131.23M476.94 133.39A68.95 68.95 0 0 1 481.09 129.15M476.94 133.39L427.89 89.46M481.09 129.15L468.64 115.90M465.38 119.12A87.13 87.13 0 0 1 472.06 112.85M465.38 119.12L454.04 108.25M452.70 109.67A102.85 102.85 0 0 1 455.41 106.85M452.70 109.67L429.21 88.01M455.41 106.85L447.66 99.14M446.37 100.47A113.77 113.77 0 0 1 448.98 97.84M446.37 100.47L439.40 93.75M438.78 94.40A123.45 123.45 0 0 1 440.02 93.11M438.78 94.40L430.54 86.58M440.02 93.11L431.90 85.18M448.98 97.84L444.11 92.83M443.18 93.75A120.76 120.76 0 0 1 445.06 91.92M443.18 93.75L433.28 83.79M445.06 91.92L439.62 86.20M438.95 86.85A128.65 128.65 0 0 1 440.30 85.56M438.95 86.85L434.67 82.42M440.30 85.56L436.09 81.07M472.06 112.85L461.28 100.10M459.64 101.51A103.83 103.83 0 0 1 462.95 98.72M459.64 101.51L452.83 93.78M451.45 95.03A114.13 114.13 0 0 1 454.24 92.56M451.45 95.03L437.53 79.74M454.24 92.56L448.25 85.55M447.24 86.42A123.35 123.35 0 0 1 449.28 84.68M447.24 86.42L443.82 82.50M443.12 83.11A128.56 128.56 0 0 1 444.52 81.89M443.12 83.11L438.98 78.44M444.52 81.89L440.45 77.15M449.28 84.68L441.95 75.89M462.95 98.72L443.46 74.65M512.26 147.17L510.48 143.59M505.00 146.89A40.00 40.00 0 0 1 516.42 141.21M505.00 146.89L487.71 122.76M485.83 124.15A69.68 69.68 0 0 1 489.64 121.42M485.83 124.15L470.12 103.73M469.31 104.36A95.45 95.45 0 0 1 470.95 103.10M469.31 104.36L444.99 73.43M470.95 103.10L461.31 90.27M460.67 90.76A111.49 111.49 0 0 1 461.96 89.79M460.67 90.76L446.53 72.23M461.96 89.79L448.09 71.06M489.64 121.42L478.75 105.09M477.00 106.29A89.31 89.31 0 0 1 480.53 103.94M477.00 106.29L466.75 91.69M465.80 92.37A107.15 107.15 0 0 1 467.71 91.03M465.80 92.37L449.67 69.91M467.71 91.03L460.76 80.89M460.05 81.38A119.44 119.44 0 0 1 461.48 80.40M460.05 81.38L451.27 68.78M461.48 80.40L452.88 67.67M480.53 103.94L473.74 93.20M472.45 94.02A102.02 102.02 0 0 1 475.03 92.39M472.45 94.02L454.51 66.59M475.03 92.39L471.26 86.23M469.83 87.12A109.24 109.24 0 0 1 472.70 85.36M469.83 87.12L456.15 65.53M472.70 85.36L468.42 78.11M466.77 79.10A117.67 117.67 0 0 1 470.08 77.15M466.77 79.10L457.81 64.50M470.08 77.15L467.04 71.81M465.87 72.48A123.81 123.81 0 0 1 468.21 71.15M465.87 72.48L462.71 67.07M461.90 67.54A130.08 130.08 0 0 1 463.53 66.59M461.90 67.54L459.49 63.49M463.53 66.59L461.18 62.50M468.21 71.15L462.88 61.54M516.42 141.21L515.23 137.39M510.11 139.34A44.00 44.00 0 0 1 520.56 136.09M510.11 139.34L499.18 115.27M496.15 116.74A70.43 70.43 0 0 1 502.28 113.95M475.40 80.75L464.60 60.60M502.28 113.95L495.81 97.68M492.68 98.99A87.94 87.94 0 0 1 498.98 96.49M492.68 98.99L486.89 85.91M484.61 86.95A102.25 102.25 0 0 1 489.19 84.93M484.61 86.95L478.40 73.80M477.63 74.16A116.80 116.80 0 0 1 479.16 73.44M477.63 74.16L469.82 57.94M479.16 73.44L471.59 57.11M489.19 84.93L485.60 76.27M483.56 77.14A111.62 111.62 0 0 1 487.67 75.43M483.56 77.14L479.64 68.19M478.84 68.55A121.39 121.39 0 0 1 480.45 67.84M478.84 68.55L473.37 56.30M480.45 67.84L475.16 55.52M487.67 75.43L484.26 66.72M483.04 67.20A120.98 120.98 0 0 1 485.49 66.24M483.04 67.20L480.79 61.62M479.94 61.97A127.00 127.00 0 0 1 481.64 61.28M479.94 61.97L476.96 54.76M481.64 61.28L478.78 54.03M485.49 66.24L480.60 53.32M498.98 96.49L492.53 78.25M491.80 78.52A107.29 107.29 0 0 1 493.26 78.00M491.80 78.52L482.43 52.64M493.26 78.00L484.28 51.99M520.56 136.09L519.85 132.15M518.30 132.45A48.00 48.00 0 0 1 521.42 131.90M518.30 132.45L512.89 107.02M511.28 107.38A74.00 74.00 0 0 1 514.50 106.70M511.28 107.38L507.31 90.56M505.30 91.06A91.29 91.29 0 0 1 509.32 90.11M505.30 91.06L502.24 79.31M499.89 79.95A103.43 103.43 0 0 1 504.60 78.72M499.89 79.95L497.46 71.46M495.12 72.15A112.26 112.26 0 0 1 499.82 70.81M495.12 72.15L492.19 62.70M490.93 63.10A122.16 122.16 0 0 1 493.47 62.31M490.93 63.10L489.11 57.43M488.22 57.72A128.11 128.11 0 0 1 489.99 57.15M488.22 57.72L486.13 51.37M489.99 57.15L487.99 50.77M493.47 62.31L489.86 50.20M499.82 70.81L497.87 63.38M496.61 63.72A119.94 119.94 0 0 1 499.13 63.06M496.61 63.72L494.93 57.61M494.05 57.85A126.28 126.28 0 0 1 495.82 57.37M494.05 57.85L491.74 49.65M495.82 57.37L493.62 49.14M499.13 63.06L495.52 48.65M504.60 78.72L497.42 48.19M509.32 90.11L505.44 71.81M504.66 71.98A109.99 109.99 0 0 1 506.22 71.65M504.66 71.98L499.32 47.75M506.22 71.65L501.24 47.34M514.50 106.70L503.15 46.97M521.42 131.90L517.98 108.19M515.90 108.52A71.95 71.95 0 0 1 520.07 107.92M515.90 108.52L505.08 46.62M520.07 107.92L517.95 89.57M515.39 89.90A90.42 90.42 0 0 1 520.52 89.31M515.39 89.90L513.46 76.50M511.88 76.74A103.96 103.96 0 0 1 515.05 76.29M511.88 76.74L507.01 46.29M515.05 76.29L513.91 67.44M512.09 67.69A112.88 112.88 0 0 1 515.74 67.22M512.09 67.69L508.94 46.00M515.74 67.22L514.88 59.57M513.58 59.72A120.58 120.58 0 0 1 516.19 59.43M513.58 59.72L512.69 52.47M511.77 52.59A127.88 127.88 0 0 1 513.61 52.36M511.77 52.59L510.88 45.73M513.61 52.36L512.82 45.49M516.19 59.43L514.76 45.28M520.52 89.31L516.71 45.10M528.30 179.40L528.14 132.87M525.73 132.94A46.53 46.53 0 0 1 530.56 132.93M525.73 132.94L524.01 101.87M522.74 101.95A77.65 77.65 0 0 1 525.27 101.81M522.74 101.95L518.66 44.95M525.27 101.81L524.52 82.34M522.76 82.43A97.13 97.13 0 0 1 526.28 82.29M522.76 82.43L520.61 44.82M526.28 82.29L525.97 67.74M524.35 67.78A111.69 111.69 0 0 1 527.59 67.72M524.35 67.78L524.00 57.89M523.12 57.93A121.58 121.58 0 0 1 524.88 57.86M523.12 57.93L522.56 44.72M524.88 57.86L524.51 44.65M527.59 67.72L527.52 56.36M526.63 56.37A123.05 123.05 0 0 1 528.41 56.35M526.63 56.37L526.47 44.61M528.41 56.35L528.42 44.60M530.56 132.93L531.93 104.64M529.45 104.56A74.85 74.85 0 0 1 534.40 104.80M534.40 104.80L536.04 84.70M532.86 84.49A95.02 95.02 0 0 1 539.22 85.01M532.86 84.49L533.59 69.38M531.60 69.30A110.14 110.14 0 0 1 535.58 69.50M531.60 69.30L532.33 44.66M535.58 69.50L536.20 60.21M534.47 60.11A119.45 119.45 0 0 1 537.93 60.34M534.47 60.11L534.81 53.58M533.90 53.54A125.99 125.99 0 0 1 535.72 53.63M533.90 53.54L534.29 44.73M535.72 53.63L536.24 44.83M537.93 60.34L538.56 52.50M537.64 52.42A127.32 127.32 0 0 1 539.48 52.57M537.64 52.42L538.19 44.96M539.48 52.57L540.14 45.12M539.22 85.01L540.83 71.06M539.45 70.91A109.06 109.06 0 0 1 542.20 71.23M539.45 70.91L542.09 45.31M542.20 71.23L543.39 62.03M542.11 61.87A118.34 118.34 0 0 1 544.66 62.20M542.11 61.87L544.03 45.52M544.66 62.20L545.66 55.04M544.76 54.91A125.57 125.57 0 0 1 546.56 55.16M544.76 54.91L545.97 45.76M546.56 55.16L547.91 46.03M546.21 121.09L551.66 103.33M542.51 101.10A79.58 79.58 0 0 1 560.49 106.62M542.51 101.10L545.82 82.87M543.97 82.55A98.11 98.11 0 0 1 547.65 83.22M547.65 83.22L549.67 73.17M547.16 72.70A108.36 108.36 0 0 1 552.17 73.71M547.16 72.70L551.77 46.66M552.17 73.71L553.74 66.76M551.28 66.23A115.48 115.48 0 0 1 556.18 67.34M551.28 66.23L552.67 59.38M551.37 59.12A122.47 122.47 0 0 1 553.98 59.65M551.37 59.12L553.69 47.01M553.98 59.65L555.35 53.24M554.44 53.04A129.03 129.03 0 0 1 556.27 53.44M554.44 53.04L555.61 47.39M556.27 53.44L557.52 47.80M556.18 67.34L557.87 60.56M556.57 60.24A122.46 122.46 0 0 1 559.16 60.89M556.57 60.24L559.42 48.24M559.16 60.89L561.08 53.50M560.17 53.26A130.10 130.10 0 0 1 562.00 53.74M560.17 53.26L561.32 48.71M562.00 53.74L563.21 49.20M560.49 106.62L564.23 98.16M558.12 95.72A88.83 88.83 0 0 1 570.14 101.04M558.12 95.72L561.48 86.30M556.31 84.62A98.83 98.83 0 0 1 566.54 88.26M565.24 62.28L568.84 50.84M566.54 88.26L568.91 82.62M564.06 80.72A104.96 104.96 0 0 1 573.66 84.75M564.06 80.72L566.41 74.24M563.49 73.22A111.86 111.86 0 0 1 569.30 75.33M563.49 73.22L570.70 51.44M569.30 75.33L570.26 72.91M567.25 71.77A114.46 114.46 0 0 1 573.23 74.13M567.25 71.77L569.64 65.16M568.19 64.64A121.49 121.49 0 0 1 571.09 65.69M568.19 64.64L572.56 52.07M571.09 65.69L572.37 62.27M571.10 61.80A125.15 125.15 0 0 1 573.65 62.75M571.10 61.80L574.40 52.73M573.65 62.75L575.53 57.91M574.65 57.57A130.35 130.35 0 0 1 576.41 58.25M574.65 57.57L576.23 53.41M576.41 58.25L578.05 54.12M573.23 74.13L576.85 65.64M575.61 65.12A123.69 123.69 0 0 1 578.09 66.18M575.61 65.12L579.86 54.85M578.09 66.18L580.83 59.95M579.96 59.57A130.49 130.49 0 0 1 581.69 60.34M579.96 59.57L581.67 55.61M581.69 60.34L583.46 56.40M573.66 84.75L578.78 74.08M577.63 73.54A116.79 116.79 0 0 1 579.92 74.63M577.63 73.54L585.23 57.21M579.92 74.63L584.06 66.24M583.23 65.84A126.15 126.15 0 0 1 584.88 66.64M583.23 65.84L587.00 58.05M584.88 66.64L588.75 58.92M566.29 131.68L577.69 117.36M570.81 112.45A79.30 79.30 0 0 1 584.02 122.97M588.65 86.77L594.20 78.26M593.09 77.55A120.71 120.71 0 0 1 595.29 78.98M593.09 77.55L600.65 65.66M595.29 78.98L599.69 72.40M598.91 71.88A128.63 128.63 0 0 1 600.46 72.92M598.91 71.88L602.30 66.72M600.46 72.92L603.92 67.81M584.02 122.97L593.30 113.56M591.27 111.61A92.52 92.52 0 0 1 595.28 115.58M591.27 111.61L597.97 104.40M595.26 101.97A102.37 102.37 0 0 1 600.59 106.92M595.26 101.97L598.67 98.02M596.24 95.98A107.59 107.59 0 0 1 601.04 100.13M596.24 95.98L599.88 91.51M598.68 90.55A113.35 113.35 0 0 1 601.07 92.49M598.68 90.55L602.70 85.48M601.50 84.54A119.82 119.82 0 0 1 603.88 86.43M601.50 84.54L605.03 79.97M603.94 79.14A125.59 125.59 0 0 1 606.10 80.81M603.94 79.14L606.80 75.35M606.05 74.78A130.35 130.35 0 0 1 607.56 75.92M606.05 74.78L608.70 71.20M607.56 75.92L610.27 72.38M606.10 80.81L611.81 73.58M603.88 86.43L613.33 74.80M601.07 92.49L614.84 76.05M601.04 100.13L607.37 93.23M605.64 91.67A116.95 116.95 0 0 1 609.07 94.82M605.64 91.67L609.28 87.53M608.28 86.66A122.47 122.47 0 0 1 610.28 88.42M608.28 86.66L616.33 77.32M610.28 88.42L614.83 83.37M614.13 82.74A129.26 129.26 0 0 1 615.52 84.00M614.13 82.74L617.80 78.60M615.52 84.00L619.26 79.91M609.07 94.82L614.58 89.05M613.93 88.43A124.93 124.93 0 0 1 615.24 89.68M613.93 88.43L620.69 81.24M615.24 89.68L622.10 82.59M600.59 106.92L623.50 83.96M606.86 102.89L624.87 85.35M616.12 96.32L626.23 86.76M583.23 152.87L595.71 146.85M593.12 141.94A74.86 74.86 0 0 1 597.94 151.93M593.12 141.94L598.44 138.86M596.75 136.08A81.01 81.01 0 0 1 600.01 141.71M596.75 136.08L603.72 131.68M601.82 128.80A89.25 89.25 0 0 1 605.50 134.62M601.82 128.80L607.17 125.12M604.04 120.83A95.75 95.75 0 0 1 610.06 129.57M604.04 120.83L608.06 117.72M603.53 112.26A100.83 100.83 0 0 1 612.20 123.48M612.20 123.48L613.87 122.37M612.78 120.77A102.83 102.83 0 0 1 614.92 123.99M612.78 120.77L617.61 117.42M616.15 115.37A108.71 108.71 0 0 1 619.02 119.50M616.15 115.37L620.45 112.24M618.78 110.00A114.03 114.03 0 0 1 622.07 114.51M618.78 110.00L622.07 107.48M620.61 105.62A118.17 118.17 0 0 1 623.48 109.36M620.61 105.62L623.67 103.18M622.27 101.46A122.09 122.09 0 0 1 625.04 104.92M622.27 101.46L624.97 99.23M623.80 97.83A125.59 125.59 0 0 1 626.12 100.64M623.80 97.83L628.22 94.06M627.59 93.34A131.40 131.40 0 0 1 628.83 94.79M627.59 93.34L630.16 91.11M628.83 94.79L631.43 92.60M626.12 100.64L629.83 97.65M629.23 96.92A130.35 130.35 0 0 1 630.42 98.39M629.23 96.92L632.68 94.10M630.42 98.39L633.91 95.63M625.04 104.92L635.11 97.17M623.48 109.36L629.04 105.27M628.50 104.54A125.07 125.07 0 0 1 629.58 106.01M628.50 104.54L636.29 98.72M629.58 106.01L637.45 100.30M622.07 114.51L630.50 108.68M629.98 107.94A124.28 124.28 0 0 1 631.01 109.42M629.98 107.94L638.59 101.89M631.01 109.42L639.70 103.50M614.92 123.99L641.85 106.76M610.06 129.57L625.49 120.17M625.06 119.46A113.82 113.82 0 0 1 625.92 120.87M625.06 119.46L642.90 108.42M625.92 120.87L643.91 110.08M600.01 141.71L616.52 133.03M615.75 131.60A99.67 99.67 0 0 1 617.27 134.48M615.75 131.60L628.01 124.90M627.41 123.82A113.63 113.63 0 0 1 628.60 125.99M627.41 123.82L645.87 113.47M628.60 125.99L637.01 121.51M636.58 120.73A123.16 123.16 0 0 1 637.42 122.30M636.58 120.73L646.82 115.18M637.42 122.30L647.74 116.90M597.94 151.93L607.98 147.97M606.39 144.19A85.66 85.66 0 0 1 609.40 151.82M606.39 144.19L616.58 139.60M615.37 137.01A96.84 96.84 0 0 1 617.71 142.21M615.37 137.01L649.50 120.40M617.71 142.21L627.92 137.97M627.34 136.62A107.89 107.89 0 0 1 628.47 139.33M627.34 136.62L634.71 133.44M634.12 132.09A115.92 115.92 0 0 1 635.29 134.79M634.12 132.09L641.06 128.99M640.50 127.76A123.52 123.52 0 0 1 641.60 130.22M640.50 127.76L646.48 125.01M646.09 124.16A130.10 130.10 0 0 1 646.87 125.87M646.09 124.16L650.34 122.16M646.87 125.87L651.16 123.94M641.60 130.22L651.95 125.72M635.29 134.79L652.72 127.52M628.47 139.33L653.46 129.33M609.40 151.82L618.56 148.70M617.32 145.28A95.34 95.34 0 0 1 619.67 152.17M619.67 152.17L626.34 150.18M624.72 145.22A102.30 102.30 0 0 1 627.70 155.21M624.72 145.22L636.40 141.08M635.98 139.91A114.69 114.69 0 0 1 636.81 142.26M635.98 139.91L654.86 132.98M636.81 142.26L644.48 139.64M644.19 138.79A122.79 122.79 0 0 1 644.76 140.48M644.19 138.79L655.52 134.82M644.76 140.48L656.15 136.67M627.70 155.21L635.10 153.41M633.99 149.22A109.91 109.91 0 0 1 636.04 157.65M633.99 149.22L637.80 148.14M637.06 145.67A113.87 113.87 0 0 1 638.48 150.63M637.06 145.67L645.22 143.13M644.95 142.29A122.41 122.41 0 0 1 645.48 143.98M644.95 142.29L656.76 138.53M645.48 143.98L657.33 140.40M638.48 150.63L643.58 149.30M643.07 147.42A119.14 119.14 0 0 1 644.05 151.18M643.07 147.42L649.55 145.61M649.30 144.74A125.87 125.87 0 0 1 649.79 146.49M649.30 144.74L657.89 142.28M649.79 146.49L658.41 144.16M644.05 151.18L648.64 150.06M648.31 148.76A123.86 123.86 0 0 1 648.95 151.37M648.31 148.76L658.91 146.05M648.95 151.37L654.65 150.05M654.43 149.13A129.71 129.71 0 0 1 654.86 150.97M654.43 149.13L659.38 147.95M654.86 150.97L659.82 149.85M636.04 157.65L647.65 155.30M647.48 154.44A121.76 121.76 0 0 1 647.82 156.17M647.48 154.44L660.24 151.76M647.82 156.17L660.62 153.68"/>
<path stroke="#7cb47c" d="M580.10 185.60L597.26 187.66M597.71 181.88A69.45 69.45 0 0 1 596.33 193.38M597.71 181.88L624.47 182.84M624.49 182.14A96.23 96.23 0 0 1 624.44 183.53M624.49 182.14L663.05 183.24M624.44 183.53L662.98 185.19M596.33 193.38L609.62 196.11M610.58 190.46A83.02 83.02 0 0 1 608.27 201.69M610.58 190.46L619.72 191.68M620.31 186.02A92.25 92.25 0 0 1 618.79 197.30M620.31 186.02L626.11 186.44M626.20 185.03A98.06 98.06 0 0 1 626.00 187.85M626.20 185.03L662.88 187.14M626.00 187.85L632.90 188.44M633.01 186.95A104.99 104.99 0 0 1 632.76 189.94M633.01 186.95L662.75 189.09M632.76 189.94L641.07 190.78M641.22 189.19A113.35 113.35 0 0 1 640.90 192.36M641.22 189.19L662.60 191.04M640.90 192.36L645.51 192.89M645.68 191.29A117.99 117.99 0 0 1 645.32 194.48M645.68 191.29L662.41 192.99M645.32 194.48L649.65 195.04M649.84 193.50A122.35 122.35 0 0 1 649.44 196.58M649.84 193.50L662.20 194.93M649.44 196.58L654.05 197.23M654.24 195.86A127.01 127.01 0 0 1 653.85 198.60M654.24 195.86L661.96 196.87M653.85 198.60L657.64 199.18M657.78 198.24A130.85 130.85 0 0 1 657.49 200.12M657.78 198.24L661.70 198.81M657.49 200.12L661.40 200.74M618.79 197.30L634.94 200.49M635.24 198.94A108.71 108.71 0 0 1 634.63 202.04M635.24 198.94L646.30 200.97M646.46 200.11A119.96 119.96 0 0 1 646.14 201.82M646.46 200.11L661.08 202.67M646.14 201.82L660.72 204.60M634.63 202.04L646.14 204.49M646.32 203.63A120.48 120.48 0 0 1 645.95 205.34M646.32 203.63L660.35 206.51M645.95 205.34L659.94 208.43M608.27 201.69L621.91 205.50M622.64 202.73A97.18 97.18 0 0 1 621.11 208.24M622.64 202.73L636.03 206.04M636.31 204.86A110.97 110.97 0 0 1 635.73 207.21M636.31 204.86L659.50 210.33M635.73 207.21L646.35 209.96M646.56 209.10A121.94 121.94 0 0 1 646.12 210.81M646.56 209.10L659.04 212.23M646.12 210.81L658.55 214.12M621.11 208.24L629.69 210.91M630.27 208.97A106.17 106.17 0 0 1 629.07 212.83M630.27 208.97L642.73 212.59M642.97 211.76A119.15 119.15 0 0 1 642.49 213.42M642.97 211.76L658.03 216.01M642.49 213.42L657.49 217.89M629.07 212.83L638.09 215.83M638.67 214.03A115.67 115.67 0 0 1 637.48 217.61M638.67 214.03L656.92 219.76M637.48 217.61L644.77 220.16M645.20 218.89A123.39 123.39 0 0 1 644.32 221.43M645.20 218.89L651.98 221.18M652.28 220.29A130.54 130.54 0 0 1 651.67 222.08M652.28 220.29L656.32 221.62M651.67 222.08L655.69 223.47M644.32 221.43L655.04 225.31M592.49 207.20L610.05 214.81M611.18 212.09A89.09 89.09 0 0 1 608.83 217.49M611.18 212.09L624.64 217.39M625.14 216.08A103.56 103.56 0 0 1 624.11 218.70M625.14 216.08L654.36 227.15M624.11 218.70L633.74 222.65M634.28 221.31A113.96 113.96 0 0 1 633.18 223.98M634.28 221.31L653.65 228.97M633.18 223.98L640.28 227.00M640.79 225.78A121.68 121.68 0 0 1 639.76 228.22M640.79 225.78L652.92 230.78M639.76 228.22L646.16 231.02M646.53 230.17A128.67 128.67 0 0 1 645.78 231.88M646.53 230.17L652.16 232.58M645.78 231.88L651.38 234.38M617.32 223.90L648.87 239.68M639.65 241.26L646.14 244.87M496.56 287.68L490.38 308.76M495.48 285.61L488.50 308.19M440.57 244.74L431.59 251.43M432.11 252.13A120.59 120.59 0 0 1 431.07 250.73M432.11 252.13L420.78 260.70M431.07 250.73L419.61 259.13M444.48 187.49L394.12 192.36M529.45 104.56L530.38 44.62"/>
<path stroke="#e07070" d="M608.83 217.49L627.31 226.23M627.64 225.51A109.53 109.53 0 0 1 626.97 226.95M627.64 225.51L650.57 236.16M626.97 226.95L649.73 237.92M627.52 237.39L636.21 242.46M636.67 241.68A124.99 124.99 0 0 1 635.75 243.24M636.67 241.68L645.17 246.57M635.75 243.24L644.19 248.26M618.20 249.08L625.63 254.85M626.18 254.14A123.15 123.15 0 0 1 625.08 255.55M626.18 254.14L635.44 261.21M625.08 255.55L634.24 262.75M432.91 257.12L427.94 261.17M428.53 261.90A129.46 129.46 0 0 1 427.35 260.44M428.53 261.90L424.42 265.30M427.35 260.44L423.18 263.79"/>
<path stroke="#6e6ad4" d="M630.14 242.94L635.91 246.55M636.40 245.77A126.85 126.85 0 0 1 635.42 247.33M636.40 245.77L643.18 249.93M635.42 247.33L642.14 251.59M629.79 251.23L634.01 254.21M634.55 253.44A129.50 129.50 0 0 1 633.46 254.97M634.55 253.44L638.89 256.47M633.46 254.97L637.76 258.07M610.77 257.93L617.19 264.05M617.80 263.40A122.75 122.75 0 0 1 616.58 264.69M617.80 263.40L626.59 271.65M616.58 264.69L625.25 273.06M571.18 286.13L578.55 304.48M545.52 274.61L552.29 312.05M547.46 294.84L550.37 312.38M495.73 296.76L492.26 309.29M505.32 234.24L497.93 251.87M500.91 253.04A78.57 78.57 0 0 1 495.01 250.57M500.91 253.04L495.06 268.77M499.16 270.19A95.35 95.35 0 0 1 491.02 267.16M493.18 284.87L490.00 294.41M490.84 294.69A121.22 121.22 0 0 1 489.17 294.13M490.84 294.69L486.64 307.60M489.17 294.13L484.78 306.98M491.02 267.16L486.98 276.67M488.35 277.24A105.68 105.68 0 0 1 485.62 276.08M488.35 277.24L485.33 284.64M486.77 285.21A113.67 113.67 0 0 1 483.91 284.04M486.77 285.21L484.14 291.92M485.57 292.47A120.87 120.87 0 0 1 482.71 291.35M485.57 292.47L483.66 297.50M484.95 297.98A126.26 126.26 0 0 1 482.38 297.01M484.95 297.98L483.31 302.49M484.20 302.81A131.05 131.05 0 0 1 482.41 302.16M484.20 302.81L482.94 306.34M482.41 302.16L481.10 305.67M482.38 297.01L479.28 304.97M482.71 291.35L477.46 304.25M483.91 284.04L475.65 303.49M485.62 276.08L473.86 302.72M495.01 250.57L484.99 272.01M485.66 272.32A102.23 102.23 0 0 1 484.32 271.69M485.66 272.32L472.08 301.92M484.32 271.69L470.31 301.09M469.84 285.72L463.35 297.52M471.31 259.00L468.18 263.36M471.04 265.34A103.27 103.27 0 0 1 465.39 261.29M471.04 265.34L469.25 268.02M471.70 269.61A106.49 106.49 0 0 1 466.84 266.37M471.70 269.61L469.92 272.45M472.69 274.13A109.85 109.85 0 0 1 467.20 270.69M472.69 274.13L469.52 279.52M470.89 280.31A116.09 116.09 0 0 1 468.17 278.71M470.89 280.31L461.64 296.57M468.17 278.71L465.78 282.66M467.09 283.45A120.71 120.71 0 0 1 464.47 281.86M467.09 283.45L459.95 295.59M464.47 281.86L462.17 285.54M463.33 286.26A125.06 125.06 0 0 1 461.02 284.82M463.33 286.26L458.27 294.58M461.02 284.82L458.71 288.44M459.50 288.94A129.35 129.35 0 0 1 457.92 287.93M459.50 288.94L456.61 293.55M457.92 287.93L454.96 292.50M467.20 270.69L453.33 291.43M466.84 266.37L460.89 274.80M461.93 275.53A116.82 116.82 0 0 1 459.85 274.06M461.93 275.53L451.71 290.33M459.85 274.06L455.37 280.26M456.11 280.79A124.46 124.46 0 0 1 454.64 279.73M456.11 280.79L450.11 289.21M454.64 279.73L448.53 288.06M460.53 257.76L454.56 264.67M456.11 265.99A112.73 112.73 0 0 1 453.02 263.32M456.11 265.99L451.32 271.74M452.33 272.57A120.22 120.22 0 0 1 450.32 270.90M452.33 272.57L447.84 278.07M448.56 278.65A127.32 127.32 0 0 1 447.13 277.49M448.56 278.65L443.87 284.49M447.13 277.49L442.36 283.25M450.32 270.90L440.86 281.99M453.02 263.32L447.44 269.53M448.43 270.41A121.09 121.09 0 0 1 446.47 268.65M448.43 270.41L439.38 280.72M446.47 268.65L442.35 273.14M443.03 273.76A127.18 127.18 0 0 1 441.67 272.51M443.03 273.76L437.92 279.41M441.67 272.51L436.48 278.09M431.24 255.03L421.97 262.25M578.67 94.21L585.94 81.90M584.88 81.28A113.26 113.26 0 0 1 587.00 82.53M584.88 81.28L595.64 62.62M587.00 82.53L592.64 73.22M591.87 72.76A124.15 124.15 0 0 1 593.41 73.69M591.87 72.76L597.32 63.61M593.41 73.69L599.00 64.63M592.30 89.25L598.88 79.98M598.15 79.47A121.92 121.92 0 0 1 599.60 80.50M598.15 79.47L605.53 68.92M599.60 80.50L607.13 70.05"/>
<path stroke="#a2dcdc" d="M619.69 247.11L636.61 259.65M621.23 255.85L626.57 260.24M627.15 259.53A127.25 127.25 0 0 1 625.98 260.95M627.15 259.53L633.02 264.28M625.98 260.95L631.78 265.79M606.99 267.31L618.20 279.84M596.34 262.42L613.75 283.66M530.52 223.34L531.17 236.20M544.83 233.81A56.87 56.87 0 0 1 517.34 235.20M544.83 233.81L549.00 247.55M554.26 245.72A71.22 71.22 0 0 1 543.61 248.96M554.26 245.72L560.59 261.87M563.13 260.83A88.57 88.57 0 0 1 558.01 262.83M563.13 260.83L567.39 270.78M570.06 269.59A99.39 99.39 0 0 1 564.68 271.89M570.06 269.59L574.05 278.20M576.10 277.22A108.87 108.87 0 0 1 571.98 279.13M571.98 279.13L574.91 285.81M576.64 285.03A116.17 116.17 0 0 1 573.16 286.55M576.64 285.03L579.73 291.79M580.95 291.22A123.59 123.59 0 0 1 578.50 292.34M580.95 291.22L585.72 301.36M578.50 292.34L580.57 296.99M581.42 296.61A128.68 128.68 0 0 1 579.71 297.36M581.42 296.61L583.94 302.18M579.71 297.36L582.16 302.97M573.16 286.55L580.36 303.74M569.62 286.74L576.73 305.20M558.01 262.83L564.28 280.44M565.38 280.04A107.25 107.25 0 0 1 563.18 280.82M565.38 280.04L574.90 305.89M563.18 280.82L567.28 292.76M568.11 292.47A119.88 119.88 0 0 1 566.46 293.04M568.11 292.47L573.06 306.55M566.46 293.04L571.21 307.19M543.61 248.96L545.50 257.55M552.12 255.79A80.02 80.02 0 0 1 538.75 258.73M538.75 258.73L539.18 261.97M545.83 260.82A83.28 83.28 0 0 1 532.46 262.58M557.06 283.47L560.03 294.24M561.28 293.89A119.14 119.14 0 0 1 558.78 294.58M561.28 293.89L565.61 308.93M558.78 294.58L560.99 302.91M561.88 302.67A127.76 127.76 0 0 1 560.09 303.14M561.88 302.67L563.73 309.46M560.09 303.14L561.84 309.96M532.46 262.58L532.91 271.56M538.06 271.16A92.27 92.27 0 0 1 527.75 271.67M538.06 271.16L539.31 282.91M541.51 282.65A104.10 104.10 0 0 1 537.10 283.12M541.51 282.65L542.32 288.95M544.60 288.64A110.45 110.45 0 0 1 540.03 289.22M544.60 288.64L545.57 295.14M547.46 294.84A117.02 117.02 0 0 1 543.68 295.41M543.68 295.41L544.54 301.92M545.87 301.73A123.59 123.59 0 0 1 543.21 302.09M545.87 301.73L546.70 307.49M547.63 307.35A129.41 129.41 0 0 1 545.77 307.62M547.63 307.35L548.44 312.69M545.77 307.62L546.50 312.97M543.21 302.09L544.56 313.22M540.03 289.22L542.62 313.44M537.10 283.12L538.24 296.54M539.09 296.47A117.56 117.56 0 0 1 537.39 296.61M539.09 296.47L540.67 313.63M537.39 296.61L538.72 313.80M527.75 271.67L527.71 278.42M532.73 278.32A99.02 99.02 0 0 1 522.69 278.26M532.73 278.32L533.41 293.37M534.65 293.30A114.08 114.08 0 0 1 532.17 293.42M534.65 293.30L535.14 302.14M536.03 302.09A122.93 122.93 0 0 1 534.25 302.19M536.03 302.09L536.77 313.93M534.25 302.19L534.82 314.04M532.17 293.42L532.87 314.12M522.69 278.26L522.39 283.58M525.05 283.69A104.35 104.35 0 0 1 519.74 283.39M525.05 283.69L524.95 287.06M528.88 287.11A107.71 107.71 0 0 1 521.02 286.87M528.88 287.11L528.90 290.95M530.46 290.93A111.55 111.55 0 0 1 527.33 290.95M530.46 290.93L530.91 314.17M527.33 290.95L527.29 295.05M528.87 295.06A115.66 115.66 0 0 1 525.72 295.03M528.87 295.06L528.96 314.20M525.72 295.03L525.58 301.21M527.13 301.24A121.84 121.84 0 0 1 524.04 301.17M527.13 301.24L527.00 314.19M524.04 301.17L523.91 304.69M525.28 304.73A125.36 125.36 0 0 1 522.55 304.63M525.28 304.73L525.05 314.16M522.55 304.63L522.35 308.96M523.29 309.00A129.69 129.69 0 0 1 521.41 308.91M523.29 309.00L523.10 314.10M521.41 308.91L521.14 314.01M521.02 286.87L519.19 313.89M519.74 283.39L517.24 313.75M517.34 235.20L513.68 253.84M518.47 254.62A75.86 75.86 0 0 1 508.94 252.75M518.47 254.62L516.61 268.85M518.94 269.12A90.21 90.21 0 0 1 514.28 268.51M518.94 269.12L516.91 288.68M517.70 288.76A109.88 109.88 0 0 1 516.11 288.60M517.70 288.76L515.29 313.57M516.11 288.60L513.35 313.37M514.28 268.51L512.42 280.36M514.76 280.70A102.21 102.21 0 0 1 510.09 279.97M514.76 280.70L512.86 294.87M513.70 294.98A116.50 116.50 0 0 1 512.03 294.75M513.70 294.98L511.41 313.14M512.03 294.75L509.47 312.88M510.09 279.97L508.53 288.61M510.41 288.93A110.98 110.98 0 0 1 506.65 288.25M510.41 288.93L508.71 299.33M509.58 299.46A121.51 121.51 0 0 1 507.84 299.18M509.58 299.46L507.54 312.59M507.84 299.18L505.61 312.28M506.65 288.25L505.12 295.91M506.60 296.19A118.79 118.79 0 0 1 503.65 295.61M506.60 296.19L503.68 311.93M503.65 295.61L502.50 301.02M503.82 301.29A124.33 124.33 0 0 1 501.18 300.73M503.82 301.29L501.76 311.56M501.18 300.73L500.17 305.26M501.08 305.46A128.96 128.96 0 0 1 499.25 305.05M501.08 305.46L499.85 311.16M499.25 305.05L497.94 310.74M505.26 272.87L496.04 310.28M497.44 297.22L494.14 309.80M465.39 261.29L457.21 271.94M457.88 272.45A116.69 116.69 0 0 1 456.54 271.42M457.88 272.45L446.96 286.89M456.54 271.42L445.41 285.70M445.08 255.09L438.10 261.44M439.00 262.41A121.92 121.92 0 0 1 437.22 260.45M439.00 262.41L429.57 271.18M437.22 260.45L431.68 265.38M432.31 266.08A129.34 129.34 0 0 1 431.06 264.68M432.31 266.08L428.25 269.74M431.06 264.68L426.95 268.28M438.80 255.62L425.67 266.80M485.54 203.30L455.21 220.25M455.51 220.78A83.73 83.73 0 0 1 454.92 219.72M455.51 220.78L411.11 246.01M454.92 219.72L410.16 244.31M443.49 144.58L425.32 137.12M425.02 137.86A111.32 111.32 0 0 1 425.63 136.37M425.02 137.86L403.24 129.10M425.63 136.37L403.98 127.29M476.84 80.00L466.32 59.69M485.67 94.05L468.07 58.81M543.97 82.55L549.84 46.33M558.98 71.30L565.10 49.72M563.53 61.76L566.98 50.27M570.14 101.04L578.38 85.61M577.36 85.07A106.32 106.32 0 0 1 579.40 86.16M577.36 85.07L590.49 59.81M579.40 86.16L585.65 74.74M584.89 74.33A119.35 119.35 0 0 1 586.41 75.16M584.89 74.33L592.22 60.72M586.41 75.16L593.94 61.66M617.32 97.60L627.56 88.19M603.53 112.26L628.87 89.64M619.02 119.50L640.79 105.12M605.50 134.62L644.91 111.77M617.27 134.48L648.63 118.64M617.32 145.28L654.17 131.15"/>
<path stroke="#d8c060" d="M471.39 286.56L465.07 298.45M446.19 265.13L435.06 276.75"/>
</g>
<path d="M670.15 179.40A141.85 141.85 0 0 1 670.08 183.73" fill="none" stroke="#fa58fa" stroke-width="13.70"/>
<path d="M670.09 183.36A141.85 141.85 0 0 1 657.02 239.01" fill="none" stroke="#68b868" stroke-width="13.70"/>
<path d="M657.17 238.67A141.85 141.85 0 0 1 655.63 241.92" fill="none" stroke="#f05050" stroke-width="13.70"/>
<path d="M655.79 241.58A141.85 141.85 0 0 1 654.18 244.79" fill="none" stroke="#68b868" stroke-width="13.70"/>
<path d="M654.35 244.46A141.85 141.85 0 0 1 652.78 247.41" fill="none" stroke="#fa58fa" stroke-width="13.70"/>
<path d="M652.96 247.08A141.85 141.85 0 0 1 651.21 250.22" fill="none" stroke="#68b868" stroke-width="13.70"/>
<path d="M651.39 249.90A141.85 141.85 0 0 1 649.31 253.41" fill="none" stroke="#f05050" stroke-width="13.70"/>
<path d="M649.50 253.09A141.85 141.85 0 0 1 647.33 256.55" fill="none" stroke="#5656ee" stroke-width="13.70"/>
<path d="M647.53 256.24A141.85 141.85 0 0 1 645.27 259.64" fill="none" stroke="#fa58fa" stroke-width="13.70"/>
<path d="M645.48 259.34A141.85 141.85 0 0 1 643.13 262.68" fill="none" stroke="#5656ee" stroke-width="13.70"/>
<path d="M643.35 262.38A141.85 141.85 0 0 1 641.06 265.46" fill="none" stroke="#a4e2e2" stroke-width="13.70"/>
<path d="M641.29 265.16A141.85 141.85 0 0 1 638.62 268.57" fill="none" stroke="#f05050" stroke-width="13.70"/>
<path d="M638.85 268.28A141.85 141.85 0 0 1 636.40 271.24" fill="none" stroke="#a4e2e2" stroke-width="13.70"/>
<path d="M636.64 270.96A141.85 141.85 0 0 1 632.80 275.32" fill="none" stroke="#fa58fa" stroke-width="13.70"/>
<path d="M633.05 275.05A141.85 141.85 0 0 1 629.73 278.56" fill="none" stroke="#5656ee" stroke-width="13.70"/>
<path d="M629.99 278.29A141.85 141.85 0 0 1 623.86 284.23" fill="none" stroke="#fa58fa" stroke-width="13.70"/>
<path d="M624.13 283.98A141.85 141.85 0 0 1 621.46 286.37" fill="none" stroke="#a4e2e2" stroke-width="13.70"/>
<path d="M621.74 286.13A141.85 141.85 0 0 1 619.19 288.30" fill="none" stroke="#fa58fa" stroke-width="13.70"/>
<path d="M619.48 288.06A141.85 141.85 0 0 1 617.28 289.87" fill="none" stroke="#a4e2e2" stroke-width="13.70"/>
<path d="M617.57 289.64A141.85 141.85 0 0 1 589.48 307.38" fill="none" stroke="#fa58fa" stroke-width="13.70"/>
<path d="M589.81 307.22A141.85 141.85 0 0 1 582.24 310.59" fill="none" stroke="#a4e2e2" stroke-width="13.70"/>
<path d="M582.58 310.45A141.85 141.85 0 0 1 579.25 311.78" fill="none" stroke="#5656ee" stroke-width="13.70"/>
<path d="M579.60 311.65A141.85 141.85 0 0 1 571.31 314.57" fill="none" stroke="#a4e2e2" stroke-width="13.70"/>
<path d="M571.66 314.46A141.85 141.85 0 0 1 568.47 315.44" fill="none" stroke="#fa58fa" stroke-width="13.70"/>
<path d="M568.82 315.34A141.85 141.85 0 0 1 562.26 317.13" fill="none" stroke="#a4e2e2" stroke-width="13.70"/>
<path d="M562.62 317.04A141.85 141.85 0 0 1 554.03 318.90" fill="none" stroke="#fa58fa" stroke-width="13.70"/>
<path d="M554.39 318.83A141.85 141.85 0 0 1 549.39 319.67" fill="none" stroke="#5656ee" stroke-width="13.70"/>
<path d="M549.76 319.62A141.85 141.85 0 0 1 491.71 316.45" fill="none" stroke="#a4e2e2" stroke-width="13.70"/>
<path d="M492.07 316.54A141.85 141.85 0 0 1 489.32 315.79" fill="none" stroke="#5656ee" stroke-width="13.70"/>
<path d="M489.68 315.89A141.85 141.85 0 0 1 486.00 314.80" fill="none" stroke="#68b868" stroke-width="13.70"/>
<path d="M486.35 314.91A141.85 141.85 0 0 1 466.67 307.16" fill="none" stroke="#5656ee" stroke-width="13.70"/>
<path d="M467.01 307.32A141.85 141.85 0 0 1 462.69 305.17" fill="none" stroke="#fa58fa" stroke-width="13.70"/>
<path d="M463.02 305.34A141.85 141.85 0 0 1 460.29 303.88" fill="none" stroke="#e8d050" stroke-width="13.70"/>
<path d="M460.62 304.06A141.85 141.85 0 0 1 442.64 292.46" fill="none" stroke="#5656ee" stroke-width="13.70"/>
<path d="M442.93 292.69A141.85 141.85 0 0 1 440.68 290.95" fill="none" stroke="#a4e2e2" stroke-width="13.70"/>
<path d="M440.97 291.18A141.85 141.85 0 0 1 431.29 282.89" fill="none" stroke="#5656ee" stroke-width="13.70"/>
<path d="M431.56 283.14A141.85 141.85 0 0 1 429.50 281.18" fill="none" stroke="#e8d050" stroke-width="13.70"/>
<path d="M429.76 281.44A141.85 141.85 0 0 1 425.15 276.77" fill="none" stroke="#fa58fa" stroke-width="13.70"/>
<path d="M425.41 277.04A141.85 141.85 0 0 1 418.92 269.72" fill="none" stroke="#a4e2e2" stroke-width="13.70"/>
<path d="M419.16 270.01A141.85 141.85 0 0 1 417.06 267.41" fill="none" stroke="#f05050" stroke-width="13.70"/>
<path d="M417.29 267.70A141.85 141.85 0 0 1 415.09 264.87" fill="none" stroke="#5656ee" stroke-width="13.70"/>
<path d="M415.31 265.16A141.85 141.85 0 0 1 413.32 262.48" fill="none" stroke="#68b868" stroke-width="13.70"/>
<path d="M413.54 262.78A141.85 141.85 0 0 1 405.02 249.57" fill="none" stroke="#fa58fa" stroke-width="13.70"/>
<path d="M405.21 249.90A141.85 141.85 0 0 1 403.70 247.19" fill="none" stroke="#a4e2e2" stroke-width="13.70"/>
<path d="M403.88 247.52A141.85 141.85 0 0 1 387.29 194.84" fill="none" stroke="#fa58fa" stroke-width="13.70"/>
<path d="M387.28 194.72A141.85 141.85 0 0 1 387.05 192.38" fill="none" stroke="#6a8a6a" stroke-width="13.70"/>
<path d="M387.03 192.26A141.85 141.85 0 0 1 396.73 126.38" fill="none" stroke="#fa58fa" stroke-width="13.70"/>
<path d="M396.59 126.72A141.85 141.85 0 0 1 397.87 123.63" fill="none" stroke="#a4e2e2" stroke-width="13.70"/>
<path d="M397.73 123.97A141.85 141.85 0 0 1 462.69 53.63" fill="none" stroke="#fa58fa" stroke-width="13.70"/>
<path d="M462.36 53.81A141.85 141.85 0 0 1 465.34 52.29" fill="none" stroke="#a4e2e2" stroke-width="13.70"/>
<path d="M465.01 52.45A141.85 141.85 0 0 1 530.16 37.56" fill="none" stroke="#fa58fa" stroke-width="13.70"/>
<path d="M530.28 37.56A141.85 141.85 0 0 1 532.63 37.62" fill="none" stroke="#6a8a6a" stroke-width="13.70"/>
<path d="M533.00 37.63A141.85 141.85 0 0 1 549.88 39.20" fill="none" stroke="#fa58fa" stroke-width="13.70"/>
<path d="M549.51 39.14A141.85 141.85 0 0 1 552.81 39.68" fill="none" stroke="#a4e2e2" stroke-width="13.70"/>
<path d="M552.44 39.62A141.85 141.85 0 0 1 567.04 42.94" fill="none" stroke="#fa58fa" stroke-width="13.70"/>
<path d="M566.68 42.84A141.85 141.85 0 0 1 569.89 43.78" fill="none" stroke="#a4e2e2" stroke-width="13.70"/>
<path d="M569.54 43.68A141.85 141.85 0 0 1 593.91 53.63" fill="none" stroke="#fa58fa" stroke-width="13.70"/>
<path d="M593.58 53.46A141.85 141.85 0 0 1 597.83 55.76" fill="none" stroke="#a4e2e2" stroke-width="13.70"/>
<path d="M597.50 55.58A141.85 141.85 0 0 1 603.78 59.30" fill="none" stroke="#5656ee" stroke-width="13.70"/>
<path d="M603.47 59.10A141.85 141.85 0 0 1 609.15 62.85" fill="none" stroke="#fa58fa" stroke-width="13.70"/>
<path d="M608.85 62.64A141.85 141.85 0 0 1 612.97 65.59" fill="none" stroke="#5656ee" stroke-width="13.70"/>
<path d="M612.68 65.37A141.85 141.85 0 0 1 632.30 82.93" fill="none" stroke="#fa58fa" stroke-width="13.70"/>
<path d="M632.04 82.66A141.85 141.85 0 0 1 634.46 85.31" fill="none" stroke="#a4e2e2" stroke-width="13.70"/>
<path d="M634.21 85.04A141.85 141.85 0 0 1 645.97 100.18" fill="none" stroke="#fa58fa" stroke-width="13.70"/>
<path d="M645.76 99.87A141.85 141.85 0 0 1 647.60 102.66" fill="none" stroke="#a4e2e2" stroke-width="13.70"/>
<path d="M647.40 102.35A141.85 141.85 0 0 1 650.84 107.94" fill="none" stroke="#fa58fa" stroke-width="13.70"/>
<path d="M650.65 107.62A141.85 141.85 0 0 1 651.94 109.87" fill="none" stroke="#a4e2e2" stroke-width="13.70"/>
<path d="M651.76 109.55A141.85 141.85 0 0 1 654.86 115.33" fill="none" stroke="#fa58fa" stroke-width="13.70"/>
<path d="M654.69 115.00A141.85 141.85 0 0 1 655.85 117.33" fill="none" stroke="#a4e2e2" stroke-width="13.70"/>
<path d="M655.69 116.99A141.85 141.85 0 0 1 660.42 127.76" fill="none" stroke="#fa58fa" stroke-width="13.70"/>
<path d="M660.28 127.41A141.85 141.85 0 0 1 661.55 130.77" fill="none" stroke="#a4e2e2" stroke-width="13.70"/>
<path d="M661.43 130.42A141.85 141.85 0 0 1 667.97 154.65" fill="none" stroke="#fa58fa" stroke-width="13.70"/>
<path d="M666.90 179.40A138.60 138.60 0 1 1 664.71 154.86" fill="none" stroke="#100810" stroke-opacity="0.31" stroke-width="7.2"/>
<path d="M663.49 181.29L669.33 181.37M663.45 183.25L669.72 183.43M663.38 185.21L670.56 185.52M663.28 187.17L669.25 187.51M663.15 189.12L669.52 189.58M662.99 191.08L668.87 191.59M662.81 193.03L668.63 193.62M662.60 194.98L669.31 195.76M662.36 196.93L669.15 197.81M662.09 198.87L668.37 199.78M661.79 200.81L668.35 201.86M661.47 202.74L667.28 203.76M661.12 204.67L667.01 205.79M660.74 206.59L666.80 207.84M660.33 208.51L667.74 210.14M659.89 210.42L665.65 211.78M659.43 212.33L665.22 213.78M658.94 214.23L665.77 216.05M658.42 216.12L664.09 217.72M657.87 218.00L664.74 220.05M657.30 219.88L663.74 221.90M656.70 221.74L662.70 223.72M656.07 223.60L663.14 226.05M655.42 225.45L661.49 227.65M654.73 227.29L660.89 229.62M654.03 229.12L660.09 231.51M653.29 230.94L659.22 233.38M652.53 232.74L659.45 235.71M651.75 234.54L657.53 237.12M650.93 236.32L657.60 239.42M650.09 238.10L656.71 241.28M649.23 239.86L655.27 242.88M648.34 241.60L653.83 244.45M647.43 243.34L654.00 246.86M646.49 245.06L652.80 248.57M645.52 246.77L651.98 250.48M644.53 248.46L649.64 251.50M643.52 250.14L649.12 253.58M642.48 251.80L648.10 255.37M641.42 253.45L646.90 257.04M640.33 255.08L646.08 258.96M639.22 256.70L645.17 260.85M638.09 258.30L644.15 262.66M636.93 259.88L642.32 263.87M635.75 261.45L641.72 266.01M634.55 263.00L639.94 267.24M633.33 264.53L638.42 268.66M632.08 266.05L636.55 269.78M630.82 267.54L635.33 271.43M629.53 269.02L634.11 273.08M628.22 270.48L633.82 275.58M626.89 271.92L631.92 276.65M625.53 273.34L629.94 277.60M624.16 274.74L629.51 280.06M622.77 276.12L627.81 281.28M621.35 277.48L626.07 282.45M619.92 278.82L624.99 284.32M618.47 280.14L622.66 284.82M617.00 281.44L621.75 286.90M615.51 282.71L619.30 287.20M614.00 283.97L617.75 288.53M612.48 285.20L616.16 289.82M610.93 286.41L615.55 292.39M609.37 287.59L613.88 293.61M607.80 288.76L611.41 293.73M606.20 289.90L609.81 295.01M604.59 291.02L608.78 297.15M602.96 292.11L606.71 297.77M601.32 293.18L604.46 298.07M599.66 294.23L603.17 299.87M597.99 295.25L601.55 301.17M596.30 296.25L600.01 302.62M594.60 297.23L598.32 303.84M592.88 298.18L596.08 304.06M591.16 299.10L594.51 305.49M589.41 300.00L592.23 305.57M587.66 300.87L590.85 307.40M585.89 301.72L588.54 307.36M584.11 302.54L587.14 309.24M582.32 303.34L584.93 309.33M580.51 304.11L582.81 309.61M578.70 304.86L581.24 311.18M576.87 305.57L579.12 311.40M575.04 306.26L577.40 312.67M573.19 306.93L575.36 313.08M571.34 307.57L573.41 313.72M569.48 308.18L571.65 314.98M567.60 308.76L569.67 315.57M565.72 309.32L567.64 315.96M563.84 309.85L565.46 315.80M561.94 310.35L563.49 316.39M560.04 310.82L561.71 317.76M558.13 311.27L559.80 318.66M556.21 311.69L557.73 318.90M554.29 312.08L555.73 319.41M552.36 312.44L553.60 319.28M550.43 312.78L551.48 319.09M548.49 313.08L549.37 318.86M546.55 313.36L547.54 320.60M544.61 313.61L545.47 320.66M542.66 313.84L543.39 320.64M540.71 314.03L541.36 321.13M538.76 314.20L539.33 321.54M536.80 314.33L537.19 320.47M534.84 314.44L535.13 320.30M532.88 314.52L533.08 320.49M530.92 314.57L531.04 320.86M528.96 314.60L528.99 320.77M527.00 314.59L526.93 321.59M525.04 314.56L524.89 320.73M523.08 314.50L522.83 321.08M521.12 314.41L520.79 320.58M519.16 314.29L518.77 320.12M517.21 314.14L516.60 321.49M515.25 313.97L514.59 320.86M513.30 313.77L512.64 319.69M511.36 313.53L510.46 320.60M509.41 313.27L508.45 320.13M507.47 312.99L506.43 319.70M505.54 312.67L504.36 319.56M503.61 312.33L502.33 319.23M501.68 311.95L500.36 318.53M499.76 311.55L498.23 318.63M497.85 311.13L496.17 318.41M495.94 310.67L494.17 317.85M494.04 310.19L492.54 315.93M492.15 309.68L490.49 315.66M490.26 309.14L488.51 315.10M488.38 308.57L486.35 315.15M486.52 307.98L484.39 314.52M484.66 307.36L482.20 314.55M482.80 306.72L480.58 312.95M480.96 306.04L478.80 311.83M479.13 305.34L476.83 311.25M477.31 304.62L474.71 310.99M475.50 303.86L473.17 309.34M473.70 303.08L470.93 309.36M471.91 302.28L468.95 308.74M470.13 301.45L467.20 307.60M468.37 300.59L465.49 306.42M466.62 299.71L463.28 306.22M464.88 298.80L461.87 304.47M463.16 297.87L459.99 303.63M461.44 296.91L458.50 302.10M459.75 295.93L456.46 301.52M458.06 294.92L454.24 301.21M456.40 293.89L453.02 299.26M454.74 292.84L450.65 299.15M453.10 291.76L449.13 297.70M451.48 290.66L447.74 296.07M449.88 289.53L445.99 294.99M448.29 288.38L444.80 293.13M446.72 287.21L442.98 292.14M445.16 286.02L440.87 291.52M443.62 284.80L439.92 289.41M442.10 283.56L437.28 289.38M440.60 282.30L436.01 287.69M439.12 281.02L434.89 285.83M437.65 279.71L433.33 284.50M436.21 278.39L431.67 283.26M434.78 277.04L430.45 281.56M433.38 275.67L428.44 280.68M431.99 274.29L427.34 278.87M430.62 272.88L426.23 277.09M429.28 271.45L425.00 275.43M427.95 270.01L422.64 274.80M426.65 268.54L421.50 273.06M425.37 267.06L419.84 271.76M424.11 265.56L418.93 269.84M422.87 264.04L418.32 267.69M421.65 262.50L416.00 266.90M420.46 260.94L415.34 264.81M419.29 259.37L413.23 263.82M418.14 257.78L412.93 261.49M417.01 256.18L410.87 260.41M415.91 254.55L409.90 258.57M414.83 252.92L409.22 256.55M413.78 251.26L408.12 254.81M412.75 249.59L406.40 253.45M411.74 247.91L405.24 251.73M410.76 246.21L404.66 249.68M409.81 244.50L404.57 247.38M408.87 242.78L403.67 245.53M407.97 241.04L402.06 244.06M407.09 239.28L400.99 242.30M406.23 237.52L400.28 240.35M405.40 235.74L400.09 238.18M404.60 233.96L398.81 236.51M403.82 232.16L397.76 234.72M403.07 230.34L397.61 232.56M402.34 228.52L396.92 230.64M401.64 226.69L395.29 229.06M400.97 224.85L395.22 226.90M400.32 223.00L394.21 225.08M399.70 221.14L393.82 223.05M399.11 219.27L392.36 221.35M398.55 217.39L392.73 219.09M398.01 215.50L391.42 217.33M397.50 213.61L390.99 215.31M397.02 211.71L390.44 213.33M396.56 209.80L390.21 211.27M396.14 207.89L389.75 209.26M395.74 205.97L388.66 207.39M395.36 204.04L388.55 205.30M395.02 202.11L387.82 203.34M394.71 200.18L387.89 201.24M394.42 198.24L388.31 199.10M394.16 196.29L388.36 197.02M393.93 194.35L386.54 195.17M393.73 192.39L386.81 193.06M393.55 190.44L387.72 190.92M393.41 188.49L387.28 188.90M393.29 186.53L387.46 186.84M393.20 184.57L387.30 184.80M393.14 182.61L386.29 182.77M393.11 180.65L386.11 180.71M393.10 178.69L386.78 178.65M393.13 176.73L386.73 176.60M393.18 174.77L386.26 174.53M393.26 172.81L386.82 172.49M393.37 170.85L387.00 170.45M393.51 168.89L386.27 168.33M393.68 166.94L386.28 166.26M393.87 164.99L386.59 164.21M394.09 163.04L387.08 162.19M394.34 161.10L388.55 160.30M394.62 159.15L387.26 158.04M394.93 157.22L387.81 156.03M395.27 155.29L389.06 154.16M395.63 153.36L389.05 152.07M396.02 151.44L389.72 150.10M396.44 149.52L389.82 148.02M396.89 147.61L390.20 145.99M397.36 145.71L391.19 144.12M397.87 143.82L391.15 141.98M398.40 141.93L391.23 139.86M398.95 140.05L392.05 137.95M399.54 138.18L392.49 135.92M400.15 136.31L394.35 134.36M400.79 134.46L395.01 132.42M401.45 132.61L395.01 130.24M402.15 130.78L395.45 128.20M402.86 128.95L396.69 126.47M403.61 127.14L397.26 124.48M404.38 125.34L398.49 122.77M405.18 123.55L398.63 120.58M406.00 121.77L400.23 119.05M406.85 120.00L400.26 116.77M407.72 118.24L401.78 115.23M408.62 116.50L403.39 113.75M409.55 114.77L403.67 111.57M410.50 113.06L404.39 109.62M411.47 111.35L405.14 107.66M412.47 109.67L406.35 105.98M413.49 107.99L407.40 104.20M414.54 106.34L408.63 102.54M415.61 104.69L409.37 100.55M416.71 103.07L411.89 99.77M417.83 101.46L412.61 97.78M418.97 99.86L413.42 95.82M420.14 98.29L414.40 93.98M421.32 96.73L416.03 92.64M422.53 95.18L417.25 90.97M423.77 93.66L418.74 89.54M425.02 92.15L419.50 87.49M426.30 90.66L421.35 86.36M427.60 89.19L422.06 84.23M428.91 87.74L423.84 83.06M430.25 86.31L425.32 81.63M431.61 84.90L427.41 80.79M433.00 83.50L428.71 79.20M434.40 82.13L429.52 77.08M435.82 80.78L431.78 76.48M437.26 79.45L432.41 74.12M438.72 78.14L434.61 73.50M440.19 76.85L436.39 72.42M441.69 75.58L437.69 70.78M443.21 74.34L439.55 69.83M444.74 73.12L440.13 67.25M446.29 71.91L442.44 66.87M447.86 70.74L444.39 66.05M449.44 69.58L445.67 64.34M451.04 68.45L447.30 63.07M452.66 67.34L449.24 62.28M454.29 66.25L450.95 61.14M455.94 65.19L452.68 60.05M457.60 64.16L454.48 59.06M459.28 63.14L455.70 57.11M460.98 62.15L457.92 56.83M462.68 61.19L459.39 55.26M464.41 60.25L460.92 53.74M466.14 59.34L462.75 52.79M467.89 58.45L464.65 51.97M469.65 57.58L466.79 51.64M471.42 56.75L468.44 50.31M473.21 55.93L470.66 50.24M475.00 55.15L472.14 48.47M476.81 54.39L474.35 48.42M478.63 53.65L476.32 47.82M480.46 52.95L478.12 46.78M482.30 52.27L479.97 45.84M484.15 51.61L481.67 44.43M486.00 50.99L483.74 44.10M487.87 50.39L485.68 43.40M489.75 49.81L487.95 43.76M491.63 49.27L489.91 43.17M493.52 48.75L491.85 42.46M495.42 48.26L493.73 41.50M497.33 47.80L495.98 42.08M499.24 47.36L497.81 40.89M501.16 46.95L499.80 40.35M503.08 46.57L501.87 40.23M505.01 46.22L503.72 38.87M506.94 45.90L505.87 39.18M508.88 45.60L507.93 39.04M510.82 45.33L509.99 38.92M512.77 45.09L511.91 37.65M514.72 44.88L514.12 38.95M516.67 44.70L516.10 38.02M518.63 44.55L518.18 38.35M520.58 44.42L520.19 37.59M522.54 44.32L522.25 37.35M524.50 44.25L524.30 36.89M526.46 44.21L526.38 38.06M528.42 44.20L528.43 38.20M530.38 44.22L530.49 37.46M532.35 44.26L532.54 37.86M534.30 44.33L534.60 37.77M536.26 44.43L536.66 37.65M538.22 44.56L538.65 38.71M540.17 44.72L540.73 38.43M542.13 44.91L542.79 38.50M544.08 45.12L544.95 37.66M546.02 45.37L546.91 38.67M547.96 45.64L548.84 39.70M549.90 45.94L551.08 38.67M551.83 46.26L553.09 39.14M553.76 46.62L555.10 39.66M555.69 47.00L557.14 40.00M557.60 47.41L559.04 40.97M559.52 47.85L561.27 40.48M561.42 48.32L563.24 41.13M563.32 48.81L565.10 42.18M565.21 49.34L567.06 42.81M567.09 49.88L568.78 44.23M568.96 50.46L571.09 43.71M570.83 51.06L572.69 45.44M572.69 51.69L575.03 44.95M574.53 52.35L576.67 46.49M576.37 53.04L578.75 46.77M578.20 53.75L580.96 46.79M580.02 54.48L582.69 48.04M581.82 55.25L584.70 48.58M583.62 56.04L586.72 49.12M585.40 56.85L588.55 50.09M587.17 57.69L590.18 51.47M588.93 58.56L591.54 53.35M590.68 59.45L593.95 53.15M592.41 60.37L595.95 53.80M594.13 61.31L597.49 55.29M595.84 62.28L598.95 56.87M597.53 63.27L600.79 57.81M599.21 64.29L602.42 59.08M600.87 65.33L604.84 59.08M602.52 66.39L606.22 60.76M604.15 67.48L608.39 61.22M605.76 68.59L609.27 63.57M607.36 69.73L610.95 64.75M608.94 70.88L613.26 65.08M610.51 72.06L614.28 67.14M612.06 73.27L615.83 68.48M613.59 74.49L617.64 69.51M615.10 75.74L619.66 70.29M616.59 77.01L621.22 71.64M618.07 78.30L622.87 72.90M619.53 79.62L624.21 74.49M620.96 80.95L625.85 75.76M622.38 82.30L627.53 76.99M623.78 83.68L628.70 78.75M625.16 85.07L630.58 79.79M626.52 86.49L631.78 81.51M627.85 87.92L633.32 82.90M629.17 89.38L634.49 84.63M630.47 90.85L635.28 86.67M631.74 92.34L636.33 88.47M632.99 93.85L637.49 90.17M634.22 95.38L639.73 91.01M635.43 96.92L641.26 92.43M636.61 98.48L641.70 94.69M637.78 100.06L643.75 95.73M638.91 101.66L644.63 97.65M640.03 103.27L645.40 99.61M641.12 104.90L646.94 101.06M642.19 106.54L647.71 103.02M643.24 108.20L649.17 104.53M644.26 109.88L649.29 106.86M645.25 111.57L651.19 108.12M646.22 113.27L651.71 110.20M647.17 114.99L652.59 112.05M648.09 116.72L653.36 113.96M648.99 118.46L654.57 115.65M649.86 120.22L656.20 117.13M650.71 121.99L656.58 119.24M651.53 123.77L658.35 120.69M652.32 125.56L658.74 122.78M653.09 127.37L658.64 125.05M653.83 129.18L660.27 126.61M654.54 131.01L661.05 128.51M655.23 132.85L661.85 130.42M655.89 134.69L662.96 132.22M656.53 136.55L662.58 134.53M657.14 138.41L662.68 136.65M657.72 140.28L663.98 138.39M658.27 142.17L664.87 140.28M658.80 144.05L664.61 142.48M659.30 145.95L665.36 144.40M659.77 147.85L665.61 146.45M660.21 149.76L666.50 148.35M660.63 151.68L667.38 150.27M661.02 153.60L667.69 152.30" stroke="#100810" stroke-opacity="0.3" stroke-width="1.0" fill="none"/>
<text x="10" y="355.5" font-family="Liberation Serif, serif" font-weight="bold" font-size="20.5">C</text>
<defs><filter id="bc" x="0" y="0" width="1" height="1"><feGaussianBlur stdDeviation="0.55"/></filter><clipPath id="cc"><rect x="22.1" y="368.8" width="342.5" height="163.8"/></clipPath></defs>
<g clip-path="url(#cc)"><g filter="url(#bc)" shape-rendering="crispEdges">
<rect x="22.1" y="368.8" width="1.15" height="95.4" fill="#2424d6"/>
<rect x="22.1" y="464.0" width="1.15" height="68.8" fill="#1a8cb0"/>
<rect x="23.1" y="368.8" width="1.15" height="95.4" fill="#2424d6"/>
<rect x="23.1" y="464.0" width="1.15" height="68.8" fill="#1a8cb0"/>
<rect x="24.1" y="368.8" width="1.15" height="93.4" fill="#2424d6"/>
<rect x="24.1" y="462.0" width="1.15" height="8.2" fill="#ffff26"/>
<rect x="24.1" y="470.0" width="1.15" height="10.2" fill="#ff8c1e"/>
<rect x="24.1" y="480.0" width="1.15" height="20.2" fill="#a844ff"/>
<rect x="24.1" y="500.0" width="1.15" height="32.8" fill="#1a8cb0"/>
<rect x="25.1" y="368.8" width="1.15" height="89.4" fill="#2424d6"/>
<rect x="25.1" y="458.0" width="1.15" height="74.8" fill="#e20a0a"/>
<rect x="26.1" y="368.8" width="1.15" height="81.4" fill="#2424d6"/>
<rect x="26.1" y="450.0" width="1.15" height="82.8" fill="#e20a0a"/>
<rect x="27.1" y="368.8" width="1.15" height="87.4" fill="#2424d6"/>
<rect x="27.1" y="456.0" width="1.15" height="19.2" fill="#ff8c1e"/>
<rect x="27.1" y="475.0" width="1.15" height="57.8" fill="#e0809a"/>
<rect x="28.1" y="368.8" width="1.15" height="93.4" fill="#2424d6"/>
<rect x="28.1" y="462.0" width="1.15" height="18.2" fill="#e0809a"/>
<rect x="28.1" y="480.0" width="1.15" height="52.8" fill="#1a8cb0"/>
<rect x="29.1" y="368.8" width="1.15" height="93.4" fill="#2424d6"/>
<rect x="29.1" y="462.0" width="1.15" height="18.2" fill="#e0809a"/>
<rect x="29.1" y="480.0" width="1.15" height="52.8" fill="#1a8cb0"/>
<rect x="30.1" y="368.8" width="1.15" height="102.6" fill="#9a9af6"/>
<rect x="30.1" y="471.2" width="1.15" height="61.6" fill="#1a8cb0"/>
<rect x="31.1" y="368.8" width="1.15" height="101.3" fill="#9a9af6"/>
<rect x="31.1" y="469.9" width="1.15" height="62.9" fill="#1a8cb0"/>
<rect x="32.1" y="368.8" width="1.15" height="99.9" fill="#9a9af6"/>
<rect x="32.1" y="468.5" width="1.15" height="64.3" fill="#1a8cb0"/>
<rect x="33.1" y="368.8" width="1.15" height="98.4" fill="#9a9af6"/>
<rect x="33.1" y="467.0" width="1.15" height="65.8" fill="#1a8cb0"/>
<rect x="34.1" y="368.8" width="1.15" height="96.7" fill="#9a9af6"/>
<rect x="34.1" y="465.3" width="1.15" height="67.5" fill="#1a8cb0"/>
<rect x="35.1" y="368.8" width="1.15" height="95.1" fill="#9a9af6"/>
<rect x="35.1" y="463.7" width="1.15" height="69.1" fill="#1a8cb0"/>
<rect x="36.1" y="368.8" width="1.15" height="93.8" fill="#9a9af6"/>
<rect x="36.1" y="462.4" width="1.15" height="70.4" fill="#1a8cb0"/>
<rect x="37.1" y="368.8" width="1.15" height="92.8" fill="#9a9af6"/>
<rect x="37.1" y="461.4" width="1.15" height="71.4" fill="#1a8cb0"/>
<rect x="38.1" y="368.8" width="1.15" height="91.8" fill="#9a9af6"/>
<rect x="38.1" y="460.4" width="1.15" height="72.4" fill="#1a8cb0"/>
<rect x="39.1" y="368.8" width="1.15" height="90.8" fill="#9a9af6"/>
<rect x="39.1" y="459.4" width="1.15" height="73.4" fill="#1a8cb0"/>
<rect x="40.1" y="368.8" width="1.15" height="89.8" fill="#9a9af6"/>
<rect x="40.1" y="458.4" width="1.15" height="74.4" fill="#1a8cb0"/>
<rect x="41.1" y="368.8" width="1.15" height="87.5" fill="#9a9af6"/>
<rect x="41.1" y="456.1" width="1.15" height="38.0" fill="#ffff26"/>
<rect x="41.1" y="493.9" width="1.15" height="15.9" fill="#ff8c1e"/>
<rect x="41.1" y="509.6" width="1.15" height="23.2" fill="#10aa10"/>
<rect x="42.1" y="368.8" width="1.15" height="86.5" fill="#9a9af6"/>
<rect x="42.1" y="455.1" width="1.15" height="29.8" fill="#ffff26"/>
<rect x="42.1" y="484.7" width="1.15" height="16.2" fill="#10aa10"/>
<rect x="42.1" y="500.7" width="1.15" height="32.1" fill="#a844ff"/>
<rect x="43.1" y="368.8" width="1.15" height="85.8" fill="#9a9af6"/>
<rect x="43.1" y="454.4" width="1.15" height="48.4" fill="#ffff26"/>
<rect x="43.1" y="502.6" width="1.15" height="30.2" fill="#ffff26"/>
<rect x="44.1" y="368.8" width="1.15" height="84.6" fill="#9a9af6"/>
<rect x="44.1" y="453.2" width="1.15" height="25.3" fill="#ff8c1e"/>
<rect x="44.1" y="478.4" width="1.15" height="7.6" fill="#ff8c1e"/>
<rect x="44.1" y="485.7" width="1.15" height="40.4" fill="#e0809a"/>
<rect x="44.1" y="525.9" width="1.15" height="6.9" fill="#e0809a"/>
<rect x="45.1" y="368.8" width="1.15" height="84.4" fill="#9a9af6"/>
<rect x="45.1" y="453.0" width="1.15" height="40.1" fill="#ffff26"/>
<rect x="45.1" y="492.9" width="1.15" height="39.9" fill="#1a8cb0"/>
<rect x="46.1" y="368.8" width="1.15" height="84.8" fill="#9a9af6"/>
<rect x="46.1" y="453.4" width="1.15" height="31.5" fill="#ffff26"/>
<rect x="46.1" y="484.7" width="1.15" height="31.5" fill="#a844ff"/>
<rect x="46.1" y="515.9" width="1.15" height="16.9" fill="#ff8c1e"/>
<rect x="47.1" y="368.8" width="1.15" height="82.7" fill="#9a9af6"/>
<rect x="47.1" y="451.3" width="1.15" height="32.5" fill="#ffff26"/>
<rect x="47.1" y="483.7" width="1.15" height="14.2" fill="#10aa10"/>
<rect x="47.1" y="497.7" width="1.15" height="20.5" fill="#1a8cb0"/>
<rect x="47.1" y="518.0" width="1.15" height="14.8" fill="#a844ff"/>
<rect x="48.1" y="368.8" width="1.15" height="83.3" fill="#9a9af6"/>
<rect x="48.1" y="451.9" width="1.15" height="38.6" fill="#ffff26"/>
<rect x="48.1" y="490.3" width="1.15" height="41.0" fill="#10aa10"/>
<rect x="48.1" y="531.1" width="1.15" height="1.7" fill="#e0809a"/>
<rect x="49.1" y="368.8" width="1.15" height="82.9" fill="#9a9af6"/>
<rect x="49.1" y="451.5" width="1.15" height="31.2" fill="#ffff26"/>
<rect x="49.1" y="482.5" width="1.15" height="50.3" fill="#1a8cb0"/>
<rect x="50.1" y="368.8" width="1.15" height="82.7" fill="#9a9af6"/>
<rect x="50.1" y="451.3" width="1.15" height="39.8" fill="#ffff26"/>
<rect x="50.1" y="490.8" width="1.15" height="42.0" fill="#10aa10"/>
<rect x="51.1" y="368.8" width="1.15" height="81.1" fill="#9a9af6"/>
<rect x="51.1" y="449.7" width="1.15" height="38.6" fill="#ffff26"/>
<rect x="51.1" y="488.1" width="1.15" height="14.4" fill="#ffff26"/>
<rect x="51.1" y="502.4" width="1.15" height="30.4" fill="#1a8cb0"/>
<rect x="52.1" y="368.8" width="1.15" height="80.5" fill="#9a9af6"/>
<rect x="52.1" y="449.1" width="1.15" height="41.0" fill="#ffff26"/>
<rect x="52.1" y="490.0" width="1.15" height="23.5" fill="#e0809a"/>
<rect x="52.1" y="513.3" width="1.15" height="18.8" fill="#1a8cb0"/>
<rect x="52.1" y="531.9" width="1.15" height="0.9" fill="#10aa10"/>
<rect x="53.1" y="368.8" width="1.15" height="81.9" fill="#9a9af6"/>
<rect x="53.1" y="450.5" width="1.15" height="24.9" fill="#10aa10"/>
<rect x="53.1" y="475.3" width="1.15" height="31.3" fill="#10aa10"/>
<rect x="53.1" y="506.4" width="1.15" height="26.4" fill="#a844ff"/>
<rect x="54.1" y="368.8" width="1.15" height="79.6" fill="#9a9af6"/>
<rect x="54.1" y="448.2" width="1.15" height="23.4" fill="#ffff26"/>
<rect x="54.1" y="471.4" width="1.15" height="41.7" fill="#a844ff"/>
<rect x="54.1" y="512.9" width="1.15" height="15.4" fill="#1a8cb0"/>
<rect x="54.1" y="528.1" width="1.15" height="4.7" fill="#e0809a"/>
<rect x="55.1" y="368.8" width="1.15" height="81.5" fill="#9a9af6"/>
<rect x="55.1" y="450.1" width="1.15" height="33.2" fill="#ffff26"/>
<rect x="55.1" y="483.2" width="1.15" height="45.6" fill="#a844ff"/>
<rect x="55.1" y="528.6" width="1.15" height="4.2" fill="#ff8c1e"/>
<rect x="56.1" y="368.8" width="1.15" height="80.9" fill="#9a9af6"/>
<rect x="56.1" y="449.5" width="1.15" height="28.9" fill="#ffff26"/>
<rect x="56.1" y="478.2" width="1.15" height="7.3" fill="#e0809a"/>
<rect x="56.1" y="485.3" width="1.15" height="18.0" fill="#a844ff"/>
<rect x="56.1" y="503.1" width="1.15" height="24.6" fill="#a844ff"/>
<rect x="56.1" y="527.5" width="1.15" height="5.3" fill="#a844ff"/>
<rect x="57.1" y="368.8" width="1.15" height="77.9" fill="#9a9af6"/>
<rect x="57.1" y="446.5" width="1.15" height="18.8" fill="#ffff26"/>
<rect x="57.1" y="465.0" width="1.15" height="5.7" fill="#ffff26"/>
<rect x="57.1" y="470.5" width="1.15" height="42.8" fill="#a844ff"/>
<rect x="57.1" y="513.2" width="1.15" height="19.6" fill="#1a8cb0"/>
<rect x="58.1" y="368.8" width="1.15" height="78.6" fill="#9a9af6"/>
<rect x="58.1" y="447.2" width="1.15" height="44.9" fill="#ffff26"/>
<rect x="58.1" y="491.9" width="1.15" height="36.2" fill="#1a8cb0"/>
<rect x="58.1" y="527.8" width="1.15" height="5.0" fill="#a844ff"/>
<rect x="59.1" y="368.8" width="1.15" height="78.1" fill="#9a9af6"/>
<rect x="59.1" y="446.7" width="1.15" height="44.2" fill="#ffff26"/>
<rect x="59.1" y="490.7" width="1.15" height="5.7" fill="#ff8c1e"/>
<rect x="59.1" y="496.2" width="1.15" height="21.8" fill="#1a8cb0"/>
<rect x="59.1" y="517.8" width="1.15" height="15.0" fill="#1a8cb0"/>
<rect x="60.1" y="368.8" width="1.15" height="79.5" fill="#9a9af6"/>
<rect x="60.1" y="448.1" width="1.15" height="39.6" fill="#10aa10"/>
<rect x="60.1" y="487.4" width="1.15" height="12.5" fill="#ffff26"/>
<rect x="60.1" y="499.8" width="1.15" height="31.2" fill="#a844ff"/>
<rect x="60.1" y="530.8" width="1.15" height="2.0" fill="#1a8cb0"/>
<rect x="61.1" y="368.8" width="1.15" height="77.8" fill="#9a9af6"/>
<rect x="61.1" y="446.4" width="1.15" height="42.8" fill="#ffff26"/>
<rect x="61.1" y="489.0" width="1.15" height="24.0" fill="#a844ff"/>
<rect x="61.1" y="512.8" width="1.15" height="20.0" fill="#ff8c1e"/>
<rect x="62.1" y="368.8" width="1.15" height="75.9" fill="#9a9af6"/>
<rect x="62.1" y="444.5" width="1.15" height="40.8" fill="#ffff26"/>
<rect x="62.1" y="485.1" width="1.15" height="47.7" fill="#1a8cb0"/>
<rect x="63.1" y="368.8" width="1.15" height="75.3" fill="#9a9af6"/>
<rect x="63.1" y="443.9" width="1.15" height="27.2" fill="#10aa10"/>
<rect x="63.1" y="471.0" width="1.15" height="47.7" fill="#1a8cb0"/>
<rect x="63.1" y="518.5" width="1.15" height="14.3" fill="#a844ff"/>
<rect x="64.1" y="368.8" width="1.15" height="74.4" fill="#9a9af6"/>
<rect x="64.1" y="443.0" width="1.15" height="27.0" fill="#ffff26"/>
<rect x="64.1" y="469.9" width="1.15" height="59.5" fill="#e0809a"/>
<rect x="64.1" y="529.2" width="1.15" height="3.6" fill="#10aa10"/>
<rect x="65.1" y="368.8" width="1.15" height="74.6" fill="#9a9af6"/>
<rect x="65.1" y="443.2" width="1.15" height="44.4" fill="#10aa10"/>
<rect x="65.1" y="487.4" width="1.15" height="13.0" fill="#ffff26"/>
<rect x="65.1" y="500.2" width="1.15" height="32.6" fill="#a844ff"/>
<rect x="66.1" y="368.8" width="1.15" height="75.3" fill="#9a9af6"/>
<rect x="66.1" y="443.9" width="1.15" height="43.2" fill="#ffff26"/>
<rect x="66.1" y="486.9" width="1.15" height="33.0" fill="#1a8cb0"/>
<rect x="66.1" y="519.7" width="1.15" height="13.1" fill="#ff8c1e"/>
<rect x="67.1" y="368.8" width="1.15" height="72.9" fill="#9a9af6"/>
<rect x="67.1" y="441.5" width="1.15" height="20.5" fill="#ffff26"/>
<rect x="67.1" y="461.7" width="1.15" height="51.5" fill="#a844ff"/>
<rect x="67.1" y="513.0" width="1.15" height="19.8" fill="#ffff26"/>
<rect x="68.1" y="368.8" width="1.15" height="73.7" fill="#9a9af6"/>
<rect x="68.1" y="442.3" width="1.15" height="34.4" fill="#ffff26"/>
<rect x="68.1" y="476.5" width="1.15" height="5.5" fill="#10aa10"/>
<rect x="68.1" y="481.8" width="1.15" height="38.9" fill="#ffff26"/>
<rect x="68.1" y="520.5" width="1.15" height="12.3" fill="#10aa10"/>
<rect x="69.1" y="368.8" width="1.15" height="73.6" fill="#9a9af6"/>
<rect x="69.1" y="442.2" width="1.15" height="24.0" fill="#ffff26"/>
<rect x="69.1" y="466.0" width="1.15" height="10.0" fill="#ff8c1e"/>
<rect x="69.1" y="475.8" width="1.15" height="26.9" fill="#1a8cb0"/>
<rect x="69.1" y="502.5" width="1.15" height="21.1" fill="#10aa10"/>
<rect x="69.1" y="523.4" width="1.15" height="9.4" fill="#1a8cb0"/>
<rect x="70.1" y="368.8" width="1.15" height="72.3" fill="#9a9af6"/>
<rect x="70.1" y="440.9" width="1.15" height="29.9" fill="#10aa10"/>
<rect x="70.1" y="470.6" width="1.15" height="37.8" fill="#1a8cb0"/>
<rect x="70.1" y="508.2" width="1.15" height="24.6" fill="#a844ff"/>
<rect x="71.1" y="368.8" width="1.15" height="71.3" fill="#9a9af6"/>
<rect x="71.1" y="439.9" width="1.15" height="15.3" fill="#ffff26"/>
<rect x="71.1" y="455.0" width="1.15" height="23.0" fill="#1a8cb0"/>
<rect x="71.1" y="477.8" width="1.15" height="47.8" fill="#e0809a"/>
<rect x="71.1" y="525.4" width="1.15" height="7.4" fill="#1a8cb0"/>
<rect x="72.1" y="368.8" width="1.15" height="71.0" fill="#9a9af6"/>
<rect x="72.1" y="439.6" width="1.15" height="18.9" fill="#10aa10"/>
<rect x="72.1" y="458.3" width="1.15" height="26.4" fill="#a844ff"/>
<rect x="72.1" y="484.5" width="1.15" height="48.3" fill="#1a8cb0"/>
<rect x="73.1" y="368.8" width="1.15" height="70.4" fill="#9a9af6"/>
<rect x="73.1" y="439.0" width="1.15" height="47.1" fill="#10aa10"/>
<rect x="73.1" y="486.0" width="1.15" height="42.8" fill="#1a8cb0"/>
<rect x="73.1" y="528.5" width="1.15" height="4.3" fill="#e0809a"/>
<rect x="74.1" y="368.8" width="1.15" height="69.5" fill="#9a9af6"/>
<rect x="74.1" y="438.1" width="1.15" height="31.9" fill="#ffff26"/>
<rect x="74.1" y="469.8" width="1.15" height="46.7" fill="#10aa10"/>
<rect x="74.1" y="516.3" width="1.15" height="16.5" fill="#a844ff"/>
<rect x="75.1" y="368.8" width="1.15" height="69.2" fill="#9a9af6"/>
<rect x="75.1" y="437.8" width="1.15" height="44.6" fill="#10aa10"/>
<rect x="75.1" y="482.2" width="1.15" height="7.6" fill="#e0809a"/>
<rect x="75.1" y="489.7" width="1.15" height="29.4" fill="#e0809a"/>
<rect x="75.1" y="518.9" width="1.15" height="13.9" fill="#a844ff"/>
<rect x="76.1" y="368.8" width="1.15" height="67.8" fill="#9a9af6"/>
<rect x="76.1" y="436.4" width="1.15" height="42.4" fill="#ffff26"/>
<rect x="76.1" y="478.6" width="1.15" height="44.2" fill="#1a8cb0"/>
<rect x="76.1" y="522.6" width="1.15" height="10.2" fill="#a844ff"/>
<rect x="77.1" y="368.8" width="1.15" height="67.7" fill="#9a9af6"/>
<rect x="77.1" y="436.3" width="1.15" height="18.5" fill="#10aa10"/>
<rect x="77.1" y="454.6" width="1.15" height="22.5" fill="#e0809a"/>
<rect x="77.1" y="477.0" width="1.15" height="25.3" fill="#ff8c1e"/>
<rect x="77.1" y="502.0" width="1.15" height="30.8" fill="#1a8cb0"/>
<rect x="78.1" y="368.8" width="1.15" height="67.0" fill="#9a9af6"/>
<rect x="78.1" y="435.6" width="1.15" height="18.4" fill="#ffff26"/>
<rect x="78.1" y="453.8" width="1.15" height="12.0" fill="#e0809a"/>
<rect x="78.1" y="465.6" width="1.15" height="35.0" fill="#a844ff"/>
<rect x="78.1" y="500.4" width="1.15" height="30.1" fill="#e0809a"/>
<rect x="78.1" y="530.3" width="1.15" height="2.5" fill="#a844ff"/>
<rect x="79.1" y="368.8" width="1.15" height="68.1" fill="#9a9af6"/>
<rect x="79.1" y="436.7" width="1.15" height="49.2" fill="#10aa10"/>
<rect x="79.1" y="485.7" width="1.15" height="10.5" fill="#10aa10"/>
<rect x="79.1" y="496.0" width="1.15" height="36.8" fill="#a844ff"/>
<rect x="80.1" y="368.8" width="1.15" height="66.1" fill="#9a9af6"/>
<rect x="80.1" y="434.7" width="1.15" height="44.9" fill="#10aa10"/>
<rect x="80.1" y="479.5" width="1.15" height="53.3" fill="#1a8cb0"/>
<rect x="81.1" y="368.8" width="1.15" height="63.7" fill="#9a9af6"/>
<rect x="81.1" y="432.3" width="1.15" height="32.5" fill="#ffff26"/>
<rect x="81.1" y="464.6" width="1.15" height="10.8" fill="#ffff26"/>
<rect x="81.1" y="475.2" width="1.15" height="34.3" fill="#a844ff"/>
<rect x="81.1" y="509.3" width="1.15" height="23.5" fill="#e0809a"/>
<rect x="82.1" y="368.8" width="1.15" height="62.8" fill="#9a9af6"/>
<rect x="82.1" y="431.4" width="1.15" height="45.2" fill="#ffff26"/>
<rect x="82.1" y="476.3" width="1.15" height="22.5" fill="#e0809a"/>
<rect x="82.1" y="498.6" width="1.15" height="15.7" fill="#ffff26"/>
<rect x="82.1" y="514.1" width="1.15" height="18.7" fill="#10aa10"/>
<rect x="83.1" y="368.8" width="1.15" height="60.5" fill="#9a9af6"/>
<rect x="83.1" y="429.1" width="1.15" height="40.0" fill="#ffff26"/>
<rect x="83.1" y="468.9" width="1.15" height="58.8" fill="#a844ff"/>
<rect x="83.1" y="527.5" width="1.15" height="5.3" fill="#ffff26"/>
<rect x="84.1" y="368.8" width="1.15" height="57.7" fill="#9a9af6"/>
<rect x="84.1" y="426.3" width="1.15" height="22.4" fill="#ffff26"/>
<rect x="84.1" y="448.5" width="1.15" height="45.4" fill="#a844ff"/>
<rect x="84.1" y="493.7" width="1.15" height="39.1" fill="#ffff26"/>
<rect x="85.1" y="368.8" width="1.15" height="52.4" fill="#9a9af6"/>
<rect x="85.1" y="421.0" width="1.15" height="32.9" fill="#ffff26"/>
<rect x="85.1" y="453.7" width="1.15" height="38.3" fill="#a844ff"/>
<rect x="85.1" y="491.8" width="1.15" height="35.3" fill="#e0809a"/>
<rect x="85.1" y="527.0" width="1.15" height="5.8" fill="#e0809a"/>
<rect x="86.1" y="368.8" width="1.15" height="98.7" fill="#e20a0a"/>
<rect x="86.1" y="467.3" width="1.15" height="21.0" fill="#10aa10"/>
<rect x="86.1" y="488.1" width="1.15" height="15.5" fill="#10aa10"/>
<rect x="86.1" y="503.4" width="1.15" height="29.4" fill="#e0809a"/>
<rect x="87.1" y="368.8" width="1.15" height="25.8" fill="#2424d6"/>
<rect x="87.1" y="394.4" width="1.15" height="72.9" fill="#e20a0a"/>
<rect x="87.1" y="467.2" width="1.15" height="10.9" fill="#10aa10"/>
<rect x="87.1" y="477.9" width="1.15" height="28.2" fill="#ffff26"/>
<rect x="87.1" y="505.9" width="1.15" height="22.0" fill="#10aa10"/>
<rect x="87.1" y="527.7" width="1.15" height="5.1" fill="#ff8c1e"/>
<rect x="88.1" y="368.8" width="1.15" height="92.1" fill="#e20a0a"/>
<rect x="88.1" y="460.7" width="1.15" height="12.5" fill="#10aa10"/>
<rect x="88.1" y="473.0" width="1.15" height="14.1" fill="#10aa10"/>
<rect x="88.1" y="486.9" width="1.15" height="8.3" fill="#ff8c1e"/>
<rect x="88.1" y="495.0" width="1.15" height="18.7" fill="#2424d6"/>
<rect x="88.1" y="513.5" width="1.15" height="18.6" fill="#10aa10"/>
<rect x="88.1" y="531.9" width="1.15" height="0.9" fill="#10aa10"/>
<rect x="89.1" y="368.8" width="1.15" height="83.5" fill="#e20a0a"/>
<rect x="89.1" y="452.1" width="1.15" height="43.0" fill="#10aa10"/>
<rect x="89.1" y="494.9" width="1.15" height="16.1" fill="#e0809a"/>
<rect x="89.1" y="510.9" width="1.15" height="11.1" fill="#ffff26"/>
<rect x="89.1" y="521.8" width="1.15" height="11.0" fill="#a844ff"/>
<rect x="90.1" y="368.8" width="1.15" height="91.9" fill="#e20a0a"/>
<rect x="90.1" y="460.5" width="1.15" height="58.1" fill="#10aa10"/>
<rect x="90.1" y="518.4" width="1.15" height="14.4" fill="#10aa10"/>
<rect x="91.1" y="368.8" width="1.15" height="91.1" fill="#e20a0a"/>
<rect x="91.1" y="459.7" width="1.15" height="46.2" fill="#10aa10"/>
<rect x="91.1" y="505.7" width="1.15" height="24.0" fill="#10aa10"/>
<rect x="91.1" y="529.5" width="1.15" height="3.3" fill="#10aa10"/>
<rect x="92.1" y="368.8" width="1.15" height="90.7" fill="#e20a0a"/>
<rect x="92.1" y="459.3" width="1.15" height="45.3" fill="#10aa10"/>
<rect x="92.1" y="504.4" width="1.15" height="24.4" fill="#1a8cb0"/>
<rect x="92.1" y="528.6" width="1.15" height="4.2" fill="#a844ff"/>
<rect x="93.1" y="368.8" width="1.15" height="30.8" fill="#a844ff"/>
<rect x="93.1" y="399.4" width="1.15" height="64.7" fill="#e20a0a"/>
<rect x="93.1" y="463.9" width="1.15" height="21.7" fill="#10aa10"/>
<rect x="93.1" y="485.4" width="1.15" height="9.2" fill="#10aa10"/>
<rect x="93.1" y="494.4" width="1.15" height="19.7" fill="#10aa10"/>
<rect x="93.1" y="514.0" width="1.15" height="18.8" fill="#a844ff"/>
<rect x="94.1" y="368.8" width="1.15" height="97.2" fill="#e20a0a"/>
<rect x="94.1" y="465.8" width="1.15" height="10.4" fill="#10aa10"/>
<rect x="94.1" y="475.9" width="1.15" height="33.7" fill="#e0809a"/>
<rect x="94.1" y="509.5" width="1.15" height="23.3" fill="#a844ff"/>
<rect x="95.1" y="368.8" width="1.15" height="32.3" fill="#2424d6"/>
<rect x="95.1" y="400.9" width="1.15" height="69.0" fill="#e20a0a"/>
<rect x="95.1" y="469.7" width="1.15" height="21.9" fill="#10aa10"/>
<rect x="95.1" y="491.4" width="1.15" height="32.4" fill="#10aa10"/>
<rect x="95.1" y="523.6" width="1.15" height="9.2" fill="#ff8c1e"/>
<rect x="96.1" y="368.8" width="1.15" height="37.5" fill="#2424d6"/>
<rect x="96.1" y="406.1" width="1.15" height="65.0" fill="#e20a0a"/>
<rect x="96.1" y="470.9" width="1.15" height="42.3" fill="#10aa10"/>
<rect x="96.1" y="513.0" width="1.15" height="10.7" fill="#10aa10"/>
<rect x="96.1" y="523.5" width="1.15" height="9.3" fill="#e0809a"/>
<rect x="97.1" y="368.8" width="1.15" height="25.6" fill="#2424d6"/>
<rect x="97.1" y="394.2" width="1.15" height="129.2" fill="#e20a0a"/>
<rect x="97.1" y="523.2" width="1.15" height="9.6" fill="#10aa10"/>
<rect x="98.1" y="368.8" width="1.15" height="98.4" fill="#e20a0a"/>
<rect x="98.1" y="467.0" width="1.15" height="33.4" fill="#10aa10"/>
<rect x="98.1" y="500.3" width="1.15" height="23.1" fill="#10aa10"/>
<rect x="98.1" y="523.2" width="1.15" height="9.6" fill="#10aa10"/>
<rect x="99.1" y="368.8" width="1.15" height="95.9" fill="#e20a0a"/>
<rect x="99.1" y="464.5" width="1.15" height="51.2" fill="#10aa10"/>
<rect x="99.1" y="515.5" width="1.15" height="17.3" fill="#ff8c1e"/>
<rect x="100.1" y="368.8" width="1.15" height="19.4" fill="#2424d6"/>
<rect x="100.1" y="388.0" width="1.15" height="124.5" fill="#e20a0a"/>
<rect x="100.1" y="512.2" width="1.15" height="17.3" fill="#10aa10"/>
<rect x="100.1" y="529.3" width="1.15" height="3.5" fill="#1a8cb0"/>
<rect x="101.1" y="368.8" width="1.15" height="36.2" fill="#2424d6"/>
<rect x="101.1" y="404.8" width="1.15" height="70.5" fill="#e20a0a"/>
<rect x="101.1" y="475.1" width="1.15" height="45.4" fill="#10aa10"/>
<rect x="101.1" y="520.2" width="1.15" height="12.6" fill="#1a8cb0"/>
<rect x="102.1" y="368.8" width="1.15" height="10.3" fill="#2424d6"/>
<rect x="102.1" y="378.9" width="1.15" height="72.1" fill="#e20a0a"/>
<rect x="102.1" y="450.8" width="1.15" height="31.0" fill="#10aa10"/>
<rect x="102.1" y="481.7" width="1.15" height="20.2" fill="#10aa10"/>
<rect x="102.1" y="501.7" width="1.15" height="18.8" fill="#10aa10"/>
<rect x="102.1" y="520.3" width="1.15" height="12.5" fill="#ff8c1e"/>
<rect x="103.1" y="368.8" width="1.15" height="10.6" fill="#a844ff"/>
<rect x="103.1" y="379.2" width="1.15" height="75.2" fill="#e20a0a"/>
<rect x="103.1" y="454.1" width="1.15" height="60.1" fill="#10aa10"/>
<rect x="103.1" y="514.1" width="1.15" height="18.7" fill="#ff8c1e"/>
<rect x="104.1" y="368.8" width="1.15" height="24.7" fill="#2424d6"/>
<rect x="104.1" y="393.3" width="1.15" height="110.3" fill="#e20a0a"/>
<rect x="104.1" y="503.4" width="1.15" height="24.5" fill="#10aa10"/>
<rect x="104.1" y="527.7" width="1.15" height="5.1" fill="#10aa10"/>
<rect x="105.1" y="368.8" width="1.15" height="31.7" fill="#2424d6"/>
<rect x="105.1" y="400.3" width="1.15" height="40.7" fill="#e20a0a"/>
<rect x="105.1" y="440.9" width="1.15" height="54.4" fill="#10aa10"/>
<rect x="105.1" y="495.1" width="1.15" height="34.2" fill="#a844ff"/>
<rect x="105.1" y="529.0" width="1.15" height="3.8" fill="#1a8cb0"/>
<rect x="106.1" y="368.8" width="1.15" height="105.1" fill="#e20a0a"/>
<rect x="106.1" y="473.7" width="1.15" height="32.7" fill="#10aa10"/>
<rect x="106.1" y="506.3" width="1.15" height="26.5" fill="#a844ff"/>
<rect x="107.1" y="368.8" width="1.15" height="21.5" fill="#2424d6"/>
<rect x="107.1" y="390.1" width="1.15" height="126.2" fill="#e20a0a"/>
<rect x="107.1" y="516.1" width="1.15" height="16.7" fill="#10aa10"/>
<rect x="108.1" y="368.8" width="1.15" height="40.4" fill="#2424d6"/>
<rect x="108.1" y="409.0" width="1.15" height="55.8" fill="#e20a0a"/>
<rect x="108.1" y="464.5" width="1.15" height="25.2" fill="#10aa10"/>
<rect x="108.1" y="489.6" width="1.15" height="26.0" fill="#ff8c1e"/>
<rect x="108.1" y="515.4" width="1.15" height="13.6" fill="#10aa10"/>
<rect x="108.1" y="528.8" width="1.15" height="4.0" fill="#1a8cb0"/>
<rect x="109.1" y="368.8" width="1.15" height="27.8" fill="#2424d6"/>
<rect x="109.1" y="396.4" width="1.15" height="94.9" fill="#e20a0a"/>
<rect x="109.1" y="491.0" width="1.15" height="32.7" fill="#10aa10"/>
<rect x="109.1" y="523.5" width="1.15" height="9.3" fill="#10aa10"/>
<rect x="110.1" y="368.8" width="1.15" height="31.8" fill="#2424d6"/>
<rect x="110.1" y="400.4" width="1.15" height="123.3" fill="#e20a0a"/>
<rect x="110.1" y="523.6" width="1.15" height="9.2" fill="#10aa10"/>
<rect x="111.1" y="368.8" width="1.15" height="93.3" fill="#e20a0a"/>
<rect x="111.1" y="461.9" width="1.15" height="29.0" fill="#10aa10"/>
<rect x="111.1" y="490.8" width="1.15" height="19.0" fill="#10aa10"/>
<rect x="111.1" y="509.6" width="1.15" height="17.1" fill="#2424d6"/>
<rect x="111.1" y="526.5" width="1.15" height="6.3" fill="#a844ff"/>
<rect x="112.1" y="368.8" width="1.15" height="98.0" fill="#e20a0a"/>
<rect x="112.1" y="466.6" width="1.15" height="30.2" fill="#10aa10"/>
<rect x="112.1" y="496.6" width="1.15" height="22.5" fill="#1a8cb0"/>
<rect x="112.1" y="518.8" width="1.15" height="14.0" fill="#ffff26"/>
<rect x="113.1" y="368.8" width="1.15" height="26.5" fill="#2424d6"/>
<rect x="113.1" y="395.1" width="1.15" height="96.7" fill="#e20a0a"/>
<rect x="113.1" y="491.6" width="1.15" height="33.9" fill="#10aa10"/>
<rect x="113.1" y="525.3" width="1.15" height="7.5" fill="#10aa10"/>
<rect x="114.1" y="368.8" width="1.15" height="50.6" fill="#2424d6"/>
<rect x="114.1" y="419.2" width="1.15" height="75.3" fill="#e20a0a"/>
<rect x="114.1" y="494.3" width="1.15" height="38.5" fill="#10aa10"/>
<rect x="115.1" y="368.8" width="1.15" height="30.3" fill="#2424d6"/>
<rect x="115.1" y="398.9" width="1.15" height="85.8" fill="#e20a0a"/>
<rect x="115.1" y="484.5" width="1.15" height="44.3" fill="#10aa10"/>
<rect x="115.1" y="528.6" width="1.15" height="4.2" fill="#e0809a"/>
<rect x="116.1" y="368.8" width="1.15" height="48.2" fill="#2424d6"/>
<rect x="116.1" y="416.8" width="1.15" height="73.6" fill="#e20a0a"/>
<rect x="116.1" y="490.3" width="1.15" height="12.2" fill="#10aa10"/>
<rect x="116.1" y="502.2" width="1.15" height="30.6" fill="#10aa10"/>
<rect x="117.1" y="368.8" width="1.15" height="155.2" fill="#e20a0a"/>
<rect x="117.1" y="523.8" width="1.15" height="9.0" fill="#10aa10"/>
<rect x="118.1" y="368.8" width="1.15" height="33.1" fill="#2424d6"/>
<rect x="118.1" y="401.7" width="1.15" height="84.4" fill="#e20a0a"/>
<rect x="118.1" y="485.9" width="1.15" height="39.3" fill="#10aa10"/>
<rect x="118.1" y="525.0" width="1.15" height="7.8" fill="#10aa10"/>
<rect x="119.1" y="368.8" width="1.15" height="31.3" fill="#2424d6"/>
<rect x="119.1" y="399.9" width="1.15" height="90.8" fill="#e20a0a"/>
<rect x="119.1" y="490.5" width="1.15" height="42.3" fill="#10aa10"/>
<rect x="120.1" y="368.8" width="1.15" height="54.2" fill="#2424d6"/>
<rect x="120.1" y="422.8" width="1.15" height="101.3" fill="#e20a0a"/>
<rect x="120.1" y="524.0" width="1.15" height="8.8" fill="#10aa10"/>
<rect x="121.1" y="368.8" width="1.15" height="39.0" fill="#2424d6"/>
<rect x="121.1" y="407.6" width="1.15" height="80.0" fill="#e20a0a"/>
<rect x="121.1" y="487.3" width="1.15" height="43.9" fill="#10aa10"/>
<rect x="121.1" y="531.0" width="1.15" height="1.8" fill="#10aa10"/>
<rect x="122.1" y="368.8" width="1.15" height="54.7" fill="#2424d6"/>
<rect x="122.1" y="423.3" width="1.15" height="97.6" fill="#e20a0a"/>
<rect x="122.1" y="520.8" width="1.15" height="12.0" fill="#10aa10"/>
<rect x="123.1" y="368.8" width="1.15" height="35.6" fill="#2424d6"/>
<rect x="123.1" y="404.2" width="1.15" height="96.9" fill="#e20a0a"/>
<rect x="123.1" y="500.9" width="1.15" height="31.9" fill="#10aa10"/>
<rect x="124.1" y="368.8" width="1.15" height="55.4" fill="#2424d6"/>
<rect x="124.1" y="424.0" width="1.15" height="70.0" fill="#e20a0a"/>
<rect x="124.1" y="493.7" width="1.15" height="21.7" fill="#10aa10"/>
<rect x="124.1" y="515.3" width="1.15" height="15.3" fill="#e0809a"/>
<rect x="124.1" y="530.4" width="1.15" height="2.4" fill="#1a8cb0"/>
<rect x="125.1" y="368.8" width="1.15" height="34.7" fill="#2424d6"/>
<rect x="125.1" y="403.3" width="1.15" height="63.2" fill="#e20a0a"/>
<rect x="125.1" y="466.3" width="1.15" height="57.6" fill="#10aa10"/>
<rect x="125.1" y="523.7" width="1.15" height="9.1" fill="#ff8c1e"/>
<rect x="126.1" y="368.8" width="1.15" height="54.9" fill="#2424d6"/>
<rect x="126.1" y="423.5" width="1.15" height="107.2" fill="#e20a0a"/>
<rect x="126.1" y="530.5" width="1.15" height="2.3" fill="#10aa10"/>
<rect x="127.1" y="368.8" width="1.15" height="133.7" fill="#e20a0a"/>
<rect x="127.1" y="502.3" width="1.15" height="30.5" fill="#10aa10"/>
<rect x="128.1" y="368.8" width="1.15" height="33.9" fill="#2424d6"/>
<rect x="128.1" y="402.5" width="1.15" height="103.9" fill="#e20a0a"/>
<rect x="128.1" y="506.1" width="1.15" height="11.8" fill="#10aa10"/>
<rect x="128.1" y="517.7" width="1.15" height="15.1" fill="#ff8c1e"/>
<rect x="129.1" y="368.8" width="1.15" height="37.4" fill="#2424d6"/>
<rect x="129.1" y="406.0" width="1.15" height="117.0" fill="#e20a0a"/>
<rect x="129.1" y="522.8" width="1.15" height="10.0" fill="#10aa10"/>
<rect x="130.1" y="368.8" width="1.15" height="39.1" fill="#9a9af6"/>
<rect x="130.1" y="407.7" width="1.15" height="90.4" fill="#e20a0a"/>
<rect x="130.1" y="497.9" width="1.15" height="25.6" fill="#10aa10"/>
<rect x="130.1" y="523.3" width="1.15" height="9.5" fill="#10aa10"/>
<rect x="131.1" y="368.8" width="1.15" height="33.3" fill="#2424d6"/>
<rect x="131.1" y="401.9" width="1.15" height="98.4" fill="#e20a0a"/>
<rect x="131.1" y="500.1" width="1.15" height="26.4" fill="#10aa10"/>
<rect x="131.1" y="526.3" width="1.15" height="6.5" fill="#ff8c1e"/>
<rect x="132.1" y="368.8" width="1.15" height="34.4" fill="#2424d6"/>
<rect x="132.1" y="403.0" width="1.15" height="78.9" fill="#e20a0a"/>
<rect x="132.1" y="481.8" width="1.15" height="33.4" fill="#10aa10"/>
<rect x="132.1" y="515.0" width="1.15" height="17.8" fill="#10aa10"/>
<rect x="133.1" y="368.8" width="1.15" height="29.3" fill="#2424d6"/>
<rect x="133.1" y="397.9" width="1.15" height="84.4" fill="#e20a0a"/>
<rect x="133.1" y="482.1" width="1.15" height="50.7" fill="#10aa10"/>
<rect x="134.1" y="368.8" width="1.15" height="46.8" fill="#2424d6"/>
<rect x="134.1" y="415.4" width="1.15" height="86.3" fill="#e20a0a"/>
<rect x="134.1" y="501.5" width="1.15" height="25.1" fill="#10aa10"/>
<rect x="134.1" y="526.4" width="1.15" height="6.4" fill="#a844ff"/>
<rect x="135.1" y="368.8" width="1.15" height="122.6" fill="#e20a0a"/>
<rect x="135.1" y="491.2" width="1.15" height="15.6" fill="#10aa10"/>
<rect x="135.1" y="506.5" width="1.15" height="26.3" fill="#ff8c1e"/>
<rect x="136.1" y="368.8" width="1.15" height="130.4" fill="#e20a0a"/>
<rect x="136.1" y="499.0" width="1.15" height="16.8" fill="#10aa10"/>
<rect x="136.1" y="515.7" width="1.15" height="17.1" fill="#10aa10"/>
<rect x="137.1" y="368.8" width="1.15" height="117.5" fill="#e20a0a"/>
<rect x="137.1" y="486.1" width="1.15" height="22.0" fill="#10aa10"/>
<rect x="137.1" y="507.9" width="1.15" height="24.9" fill="#ff8c1e"/>
<rect x="138.1" y="368.8" width="1.15" height="105.3" fill="#e20a0a"/>
<rect x="138.1" y="473.9" width="1.15" height="18.2" fill="#10aa10"/>
<rect x="138.1" y="491.9" width="1.15" height="21.2" fill="#a844ff"/>
<rect x="138.1" y="513.0" width="1.15" height="19.8" fill="#a844ff"/>
<rect x="139.1" y="368.8" width="1.15" height="37.1" fill="#2424d6"/>
<rect x="139.1" y="405.7" width="1.15" height="57.1" fill="#e20a0a"/>
<rect x="139.1" y="462.6" width="1.15" height="41.4" fill="#10aa10"/>
<rect x="139.1" y="503.9" width="1.15" height="14.9" fill="#ff8c1e"/>
<rect x="139.1" y="518.5" width="1.15" height="14.3" fill="#2424d6"/>
<rect x="140.1" y="368.8" width="1.15" height="29.2" fill="#2424d6"/>
<rect x="140.1" y="397.8" width="1.15" height="68.9" fill="#e20a0a"/>
<rect x="140.1" y="466.6" width="1.15" height="21.9" fill="#10aa10"/>
<rect x="140.1" y="488.3" width="1.15" height="25.4" fill="#e0809a"/>
<rect x="140.1" y="513.6" width="1.15" height="19.2" fill="#e0809a"/>
<rect x="141.1" y="368.8" width="1.15" height="32.8" fill="#2424d6"/>
<rect x="141.1" y="401.4" width="1.15" height="60.6" fill="#e20a0a"/>
<rect x="141.1" y="461.7" width="1.15" height="23.2" fill="#10aa10"/>
<rect x="141.1" y="484.7" width="1.15" height="22.3" fill="#10aa10"/>
<rect x="141.1" y="506.8" width="1.15" height="15.7" fill="#10aa10"/>
<rect x="141.1" y="522.3" width="1.15" height="10.5" fill="#10aa10"/>
<rect x="142.1" y="368.8" width="1.15" height="31.9" fill="#2424d6"/>
<rect x="142.1" y="400.5" width="1.15" height="59.3" fill="#e20a0a"/>
<rect x="142.1" y="459.6" width="1.15" height="42.7" fill="#10aa10"/>
<rect x="142.1" y="502.1" width="1.15" height="11.4" fill="#ff8c1e"/>
<rect x="142.1" y="513.3" width="1.15" height="9.4" fill="#10aa10"/>
<rect x="142.1" y="522.5" width="1.15" height="10.3" fill="#10aa10"/>
<rect x="143.1" y="368.8" width="1.15" height="117.7" fill="#10aa10"/>
<rect x="143.1" y="486.3" width="1.15" height="16.8" fill="#a844ff"/>
<rect x="143.1" y="502.9" width="1.15" height="29.9" fill="#10aa10"/>
<rect x="144.1" y="368.8" width="1.15" height="106.8" fill="#10aa10"/>
<rect x="144.1" y="475.4" width="1.15" height="14.8" fill="#e0809a"/>
<rect x="144.1" y="490.0" width="1.15" height="36.9" fill="#ff8c1e"/>
<rect x="144.1" y="526.6" width="1.15" height="6.2" fill="#e0809a"/>
<rect x="145.1" y="368.8" width="1.15" height="92.5" fill="#10aa10"/>
<rect x="145.1" y="461.1" width="1.15" height="20.8" fill="#a844ff"/>
<rect x="145.1" y="481.7" width="1.15" height="45.2" fill="#a844ff"/>
<rect x="145.1" y="526.7" width="1.15" height="6.1" fill="#1a8cb0"/>
<rect x="146.1" y="368.8" width="1.15" height="164.0" fill="#10aa10"/>
<rect x="147.1" y="368.8" width="1.15" height="160.5" fill="#10aa10"/>
<rect x="147.1" y="529.1" width="1.15" height="3.7" fill="#a844ff"/>
<rect x="148.1" y="368.8" width="1.15" height="29.0" fill="#9a9af6"/>
<rect x="148.1" y="397.6" width="1.15" height="127.7" fill="#10aa10"/>
<rect x="148.1" y="525.2" width="1.15" height="7.6" fill="#a844ff"/>
<rect x="149.1" y="368.8" width="1.15" height="163.2" fill="#10aa10"/>
<rect x="149.1" y="531.8" width="1.15" height="1.0" fill="#a844ff"/>
<rect x="150.1" y="368.8" width="1.15" height="157.3" fill="#10aa10"/>
<rect x="150.1" y="525.9" width="1.15" height="6.9" fill="#a844ff"/>
<rect x="151.1" y="368.8" width="1.15" height="151.1" fill="#10aa10"/>
<rect x="151.1" y="519.7" width="1.15" height="13.1" fill="#a844ff"/>
<rect x="152.1" y="368.8" width="1.15" height="152.8" fill="#10aa10"/>
<rect x="152.1" y="521.4" width="1.15" height="11.4" fill="#a844ff"/>
<rect x="153.1" y="368.8" width="1.15" height="38.8" fill="#2424d6"/>
<rect x="153.1" y="407.4" width="1.15" height="112.5" fill="#10aa10"/>
<rect x="153.1" y="519.7" width="1.15" height="13.1" fill="#a844ff"/>
<rect x="154.1" y="368.8" width="1.15" height="12.0" fill="#1a8cb0"/>
<rect x="154.1" y="380.6" width="1.15" height="137.6" fill="#10aa10"/>
<rect x="154.1" y="518.0" width="1.15" height="14.8" fill="#a844ff"/>
<rect x="155.1" y="368.8" width="1.15" height="31.4" fill="#9a9af6"/>
<rect x="155.1" y="400.0" width="1.15" height="107.7" fill="#10aa10"/>
<rect x="155.1" y="507.5" width="1.15" height="25.3" fill="#a844ff"/>
<rect x="156.1" y="368.8" width="1.15" height="138.6" fill="#10aa10"/>
<rect x="156.1" y="507.2" width="1.15" height="18.7" fill="#e0809a"/>
<rect x="156.1" y="525.6" width="1.15" height="7.2" fill="#a844ff"/>
<rect x="157.1" y="368.8" width="1.15" height="145.5" fill="#10aa10"/>
<rect x="157.1" y="514.1" width="1.15" height="18.7" fill="#a844ff"/>
<rect x="158.1" y="368.8" width="1.15" height="47.8" fill="#9a9af6"/>
<rect x="158.1" y="416.4" width="1.15" height="91.0" fill="#10aa10"/>
<rect x="158.1" y="507.2" width="1.15" height="25.6" fill="#e0809a"/>
<rect x="159.1" y="368.8" width="1.15" height="25.4" fill="#e20a0a"/>
<rect x="159.1" y="394.0" width="1.15" height="116.3" fill="#10aa10"/>
<rect x="159.1" y="510.1" width="1.15" height="22.7" fill="#e0809a"/>
<rect x="160.1" y="368.8" width="1.15" height="25.4" fill="#e20a0a"/>
<rect x="160.1" y="394.0" width="1.15" height="108.9" fill="#10aa10"/>
<rect x="160.1" y="502.7" width="1.15" height="25.7" fill="#e0809a"/>
<rect x="160.1" y="528.2" width="1.15" height="4.6" fill="#1a8cb0"/>
<rect x="161.1" y="368.8" width="1.15" height="25.4" fill="#e20a0a"/>
<rect x="161.1" y="394.0" width="1.15" height="106.8" fill="#10aa10"/>
<rect x="161.1" y="500.6" width="1.15" height="32.2" fill="#1a8cb0"/>
<rect x="162.1" y="368.8" width="1.15" height="25.4" fill="#e20a0a"/>
<rect x="162.1" y="394.0" width="1.15" height="109.1" fill="#10aa10"/>
<rect x="162.1" y="502.9" width="1.15" height="20.2" fill="#a844ff"/>
<rect x="162.1" y="522.9" width="1.15" height="9.9" fill="#10aa10"/>
<rect x="163.1" y="368.8" width="1.15" height="131.3" fill="#10aa10"/>
<rect x="163.1" y="499.9" width="1.15" height="19.6" fill="#a844ff"/>
<rect x="163.1" y="519.3" width="1.15" height="13.5" fill="#a844ff"/>
<rect x="164.1" y="368.8" width="1.15" height="122.9" fill="#10aa10"/>
<rect x="164.1" y="491.5" width="1.15" height="8.3" fill="#2424d6"/>
<rect x="164.1" y="499.6" width="1.15" height="25.4" fill="#a844ff"/>
<rect x="164.1" y="524.8" width="1.15" height="8.0" fill="#10aa10"/>
<rect x="165.1" y="368.8" width="1.15" height="127.7" fill="#10aa10"/>
<rect x="165.1" y="496.3" width="1.15" height="23.0" fill="#a844ff"/>
<rect x="165.1" y="519.1" width="1.15" height="13.7" fill="#a844ff"/>
<rect x="166.1" y="368.8" width="1.15" height="121.3" fill="#10aa10"/>
<rect x="166.1" y="489.9" width="1.15" height="32.5" fill="#a844ff"/>
<rect x="166.1" y="522.2" width="1.15" height="10.6" fill="#1a8cb0"/>
<rect x="167.1" y="368.8" width="1.15" height="121.1" fill="#10aa10"/>
<rect x="167.1" y="489.7" width="1.15" height="11.2" fill="#ff8c1e"/>
<rect x="167.1" y="500.7" width="1.15" height="32.1" fill="#ff8c1e"/>
<rect x="168.1" y="368.8" width="1.15" height="108.4" fill="#10aa10"/>
<rect x="168.1" y="477.0" width="1.15" height="10.7" fill="#e0809a"/>
<rect x="168.1" y="487.5" width="1.15" height="33.8" fill="#a844ff"/>
<rect x="168.1" y="521.1" width="1.15" height="11.7" fill="#1a8cb0"/>
<rect x="169.1" y="368.8" width="1.15" height="112.3" fill="#10aa10"/>
<rect x="169.1" y="480.9" width="1.15" height="37.6" fill="#ff8c1e"/>
<rect x="169.1" y="518.3" width="1.15" height="14.5" fill="#a844ff"/>
<rect x="170.1" y="368.8" width="1.15" height="104.4" fill="#10aa10"/>
<rect x="170.1" y="473.0" width="1.15" height="17.5" fill="#a844ff"/>
<rect x="170.1" y="490.4" width="1.15" height="30.9" fill="#1a8cb0"/>
<rect x="170.1" y="521.1" width="1.15" height="11.7" fill="#a844ff"/>
<rect x="171.1" y="368.8" width="1.15" height="97.4" fill="#10aa10"/>
<rect x="171.1" y="466.0" width="1.15" height="30.1" fill="#e0809a"/>
<rect x="171.1" y="495.9" width="1.15" height="17.0" fill="#a844ff"/>
<rect x="171.1" y="512.6" width="1.15" height="15.6" fill="#a844ff"/>
<rect x="171.1" y="528.0" width="1.15" height="4.8" fill="#a844ff"/>
<rect x="172.1" y="368.8" width="1.15" height="93.0" fill="#10aa10"/>
<rect x="172.1" y="461.6" width="1.15" height="37.5" fill="#a844ff"/>
<rect x="172.1" y="498.9" width="1.15" height="33.9" fill="#a844ff"/>
<rect x="173.1" y="368.8" width="1.15" height="98.6" fill="#10aa10"/>
<rect x="173.1" y="467.2" width="1.15" height="25.0" fill="#e0809a"/>
<rect x="173.1" y="492.0" width="1.15" height="33.7" fill="#1a8cb0"/>
<rect x="173.1" y="525.4" width="1.15" height="7.4" fill="#e0809a"/>
<rect x="174.1" y="368.8" width="1.15" height="94.4" fill="#10aa10"/>
<rect x="174.1" y="463.0" width="1.15" height="21.9" fill="#a844ff"/>
<rect x="174.1" y="484.7" width="1.15" height="21.9" fill="#a844ff"/>
<rect x="174.1" y="506.4" width="1.15" height="20.4" fill="#a844ff"/>
<rect x="174.1" y="526.6" width="1.15" height="6.2" fill="#e0809a"/>
<rect x="175.1" y="368.8" width="1.15" height="87.6" fill="#10aa10"/>
<rect x="175.1" y="456.2" width="1.15" height="27.3" fill="#a844ff"/>
<rect x="175.1" y="483.3" width="1.15" height="43.9" fill="#1a8cb0"/>
<rect x="175.1" y="527.0" width="1.15" height="5.8" fill="#1a8cb0"/>
<rect x="176.1" y="368.8" width="1.15" height="92.1" fill="#10aa10"/>
<rect x="176.1" y="460.7" width="1.15" height="16.4" fill="#a844ff"/>
<rect x="176.1" y="476.9" width="1.15" height="31.3" fill="#a844ff"/>
<rect x="176.1" y="508.0" width="1.15" height="21.7" fill="#a844ff"/>
<rect x="176.1" y="529.5" width="1.15" height="3.3" fill="#e0809a"/>
<rect x="177.1" y="368.8" width="1.15" height="10.5" fill="#1a8cb0"/>
<rect x="177.1" y="379.1" width="1.15" height="76.6" fill="#10aa10"/>
<rect x="177.1" y="455.5" width="1.15" height="12.1" fill="#a844ff"/>
<rect x="177.1" y="467.4" width="1.15" height="16.5" fill="#e0809a"/>
<rect x="177.1" y="483.7" width="1.15" height="30.0" fill="#a844ff"/>
<rect x="177.1" y="513.5" width="1.15" height="19.3" fill="#e0809a"/>
<rect x="178.1" y="368.8" width="1.15" height="47.5" fill="#2424d6"/>
<rect x="178.1" y="416.1" width="1.15" height="43.3" fill="#10aa10"/>
<rect x="178.1" y="459.2" width="1.15" height="24.9" fill="#a844ff"/>
<rect x="178.1" y="483.9" width="1.15" height="13.6" fill="#ff8c1e"/>
<rect x="178.1" y="497.2" width="1.15" height="18.2" fill="#10aa10"/>
<rect x="178.1" y="515.2" width="1.15" height="17.6" fill="#a844ff"/>
<rect x="179.1" y="368.8" width="1.15" height="92.3" fill="#10aa10"/>
<rect x="179.1" y="460.9" width="1.15" height="30.2" fill="#e0809a"/>
<rect x="179.1" y="490.9" width="1.15" height="30.5" fill="#e0809a"/>
<rect x="179.1" y="521.2" width="1.15" height="11.6" fill="#a844ff"/>
<rect x="180.1" y="368.8" width="1.15" height="10.8" fill="#2424d6"/>
<rect x="180.1" y="379.4" width="1.15" height="75.4" fill="#10aa10"/>
<rect x="180.1" y="454.6" width="1.15" height="17.0" fill="#a844ff"/>
<rect x="180.1" y="471.4" width="1.15" height="37.0" fill="#a844ff"/>
<rect x="180.1" y="508.2" width="1.15" height="24.6" fill="#1a8cb0"/>
<rect x="181.1" y="368.8" width="1.15" height="16.6" fill="#1a8cb0"/>
<rect x="181.1" y="385.2" width="1.15" height="71.9" fill="#10aa10"/>
<rect x="181.1" y="456.9" width="1.15" height="32.2" fill="#a844ff"/>
<rect x="181.1" y="488.9" width="1.15" height="30.9" fill="#e0809a"/>
<rect x="181.1" y="519.6" width="1.15" height="10.6" fill="#e0809a"/>
<rect x="181.1" y="529.9" width="1.15" height="2.9" fill="#ff8c1e"/>
<rect x="182.1" y="368.8" width="1.15" height="71.7" fill="#10aa10"/>
<rect x="182.1" y="440.3" width="1.15" height="21.5" fill="#ffff26"/>
<rect x="182.1" y="461.6" width="1.15" height="24.4" fill="#ffff26"/>
<rect x="182.1" y="485.7" width="1.15" height="11.2" fill="#ff8c1e"/>
<rect x="182.1" y="496.7" width="1.15" height="14.7" fill="#ffff26"/>
<rect x="182.1" y="511.2" width="1.15" height="17.9" fill="#ff8c1e"/>
<rect x="182.1" y="528.9" width="1.15" height="3.9" fill="#ffff26"/>
<rect x="183.1" y="368.8" width="1.15" height="74.9" fill="#10aa10"/>
<rect x="183.1" y="443.5" width="1.15" height="18.1" fill="#ffff26"/>
<rect x="183.1" y="461.4" width="1.15" height="10.1" fill="#ff8c1e"/>
<rect x="183.1" y="471.4" width="1.15" height="33.3" fill="#ff8c1e"/>
<rect x="183.1" y="504.5" width="1.15" height="28.3" fill="#ffff26"/>
<rect x="184.1" y="368.8" width="1.15" height="74.8" fill="#10aa10"/>
<rect x="184.1" y="443.4" width="1.15" height="37.0" fill="#ffff26"/>
<rect x="184.1" y="480.3" width="1.15" height="11.4" fill="#e0809a"/>
<rect x="184.1" y="491.4" width="1.15" height="14.5" fill="#ffff26"/>
<rect x="184.1" y="505.7" width="1.15" height="27.1" fill="#a844ff"/>
<rect x="185.1" y="368.8" width="1.15" height="46.6" fill="#2424d6"/>
<rect x="185.1" y="415.2" width="1.15" height="28.0" fill="#10aa10"/>
<rect x="185.1" y="443.0" width="1.15" height="20.1" fill="#ffff26"/>
<rect x="185.1" y="462.9" width="1.15" height="17.0" fill="#ffff26"/>
<rect x="185.1" y="479.7" width="1.15" height="31.5" fill="#ff8c1e"/>
<rect x="185.1" y="511.1" width="1.15" height="21.7" fill="#ffff26"/>
<rect x="186.1" y="368.8" width="1.15" height="74.1" fill="#10aa10"/>
<rect x="186.1" y="442.7" width="1.15" height="31.1" fill="#ffff26"/>
<rect x="186.1" y="473.6" width="1.15" height="39.9" fill="#e0809a"/>
<rect x="186.1" y="513.4" width="1.15" height="19.4" fill="#e0809a"/>
<rect x="187.1" y="368.8" width="1.15" height="69.1" fill="#10aa10"/>
<rect x="187.1" y="437.7" width="1.15" height="28.9" fill="#ffff26"/>
<rect x="187.1" y="466.4" width="1.15" height="11.1" fill="#ffff26"/>
<rect x="187.1" y="477.3" width="1.15" height="13.6" fill="#a844ff"/>
<rect x="187.1" y="490.6" width="1.15" height="12.1" fill="#ffff26"/>
<rect x="187.1" y="502.6" width="1.15" height="21.0" fill="#a844ff"/>
<rect x="187.1" y="523.3" width="1.15" height="9.3" fill="#a844ff"/>
<rect x="188.1" y="368.8" width="1.15" height="72.5" fill="#10aa10"/>
<rect x="188.1" y="441.1" width="1.15" height="31.1" fill="#ffff26"/>
<rect x="188.1" y="472.0" width="1.15" height="35.5" fill="#a844ff"/>
<rect x="188.1" y="507.2" width="1.15" height="25.6" fill="#a844ff"/>
<rect x="189.1" y="368.8" width="1.15" height="74.0" fill="#10aa10"/>
<rect x="189.1" y="442.6" width="1.15" height="36.9" fill="#ffff26"/>
<rect x="189.1" y="479.3" width="1.15" height="10.6" fill="#ffff26"/>
<rect x="189.1" y="489.7" width="1.15" height="42.0" fill="#ffff26"/>
<rect x="189.1" y="531.6" width="1.15" height="1.2" fill="#a844ff"/>
<rect x="190.1" y="368.8" width="1.15" height="67.7" fill="#10aa10"/>
<rect x="190.1" y="436.3" width="1.15" height="35.6" fill="#ffff26"/>
<rect x="190.1" y="471.7" width="1.15" height="38.2" fill="#ff8c1e"/>
<rect x="190.1" y="509.8" width="1.15" height="23.0" fill="#ff8c1e"/>
<rect x="191.1" y="368.8" width="1.15" height="68.2" fill="#10aa10"/>
<rect x="191.1" y="436.8" width="1.15" height="13.1" fill="#ffff26"/>
<rect x="191.1" y="449.7" width="1.15" height="36.2" fill="#a844ff"/>
<rect x="191.1" y="485.8" width="1.15" height="20.0" fill="#e0809a"/>
<rect x="191.1" y="505.6" width="1.15" height="9.0" fill="#a844ff"/>
<rect x="191.1" y="514.3" width="1.15" height="18.5" fill="#ff8c1e"/>
<rect x="192.1" y="368.8" width="1.15" height="70.0" fill="#10aa10"/>
<rect x="192.1" y="438.6" width="1.15" height="39.1" fill="#ffff26"/>
<rect x="192.1" y="477.5" width="1.15" height="26.8" fill="#ffff26"/>
<rect x="192.1" y="504.1" width="1.15" height="28.7" fill="#a844ff"/>
<rect x="193.1" y="368.8" width="1.15" height="25.5" fill="#9a9af6"/>
<rect x="193.1" y="394.1" width="1.15" height="73.9" fill="#ffff26"/>
<rect x="193.1" y="467.8" width="1.15" height="34.9" fill="#e0809a"/>
<rect x="193.1" y="502.5" width="1.15" height="17.8" fill="#ffff26"/>
<rect x="193.1" y="520.0" width="1.15" height="12.8" fill="#ffff26"/>
<rect x="194.1" y="368.8" width="1.15" height="10.2" fill="#9a9af6"/>
<rect x="194.1" y="378.8" width="1.15" height="89.4" fill="#ffff26"/>
<rect x="194.1" y="468.1" width="1.15" height="36.5" fill="#a844ff"/>
<rect x="194.1" y="504.3" width="1.15" height="22.4" fill="#a844ff"/>
<rect x="194.1" y="526.5" width="1.15" height="6.3" fill="#ffff26"/>
<rect x="195.1" y="368.8" width="1.15" height="107.0" fill="#ffff26"/>
<rect x="195.1" y="475.6" width="1.15" height="43.7" fill="#e0809a"/>
<rect x="195.1" y="519.1" width="1.15" height="13.7" fill="#a844ff"/>
<rect x="196.1" y="368.8" width="1.15" height="115.3" fill="#ffff26"/>
<rect x="196.1" y="483.9" width="1.15" height="18.3" fill="#a844ff"/>
<rect x="196.1" y="502.0" width="1.15" height="30.8" fill="#ff8c1e"/>
<rect x="197.1" y="368.8" width="1.15" height="44.9" fill="#9a9af6"/>
<rect x="197.1" y="413.5" width="1.15" height="65.8" fill="#ffff26"/>
<rect x="197.1" y="479.1" width="1.15" height="22.6" fill="#a844ff"/>
<rect x="197.1" y="501.6" width="1.15" height="24.0" fill="#ffff26"/>
<rect x="197.1" y="525.4" width="1.15" height="7.4" fill="#ffff26"/>
<rect x="198.1" y="368.8" width="1.15" height="17.4" fill="#b8b0a0"/>
<rect x="198.1" y="386.0" width="1.15" height="90.7" fill="#ffff26"/>
<rect x="198.1" y="476.6" width="1.15" height="29.3" fill="#a844ff"/>
<rect x="198.1" y="505.6" width="1.15" height="27.2" fill="#e0809a"/>
<rect x="199.1" y="368.8" width="1.15" height="103.4" fill="#ffff26"/>
<rect x="199.1" y="472.0" width="1.15" height="31.0" fill="#ff8c1e"/>
<rect x="199.1" y="502.8" width="1.15" height="30.0" fill="#a844ff"/>
<rect x="200.1" y="368.8" width="1.15" height="111.2" fill="#ffff26"/>
<rect x="200.1" y="479.8" width="1.15" height="40.6" fill="#e0809a"/>
<rect x="200.1" y="520.2" width="1.15" height="12.6" fill="#a844ff"/>
<rect x="201.1" y="368.8" width="1.15" height="34.3" fill="#b8b0a0"/>
<rect x="201.1" y="402.9" width="1.15" height="77.3" fill="#ffff26"/>
<rect x="201.1" y="480.0" width="1.15" height="14.6" fill="#e0809a"/>
<rect x="201.1" y="494.4" width="1.15" height="38.4" fill="#a844ff"/>
<rect x="202.1" y="368.8" width="1.15" height="20.8" fill="#9a9af6"/>
<rect x="202.1" y="389.4" width="1.15" height="92.7" fill="#ffff26"/>
<rect x="202.1" y="481.9" width="1.15" height="44.3" fill="#ff8c1e"/>
<rect x="202.1" y="526.0" width="1.15" height="6.8" fill="#a844ff"/>
<rect x="203.1" y="368.8" width="1.15" height="43.7" fill="#b8b0a0"/>
<rect x="203.1" y="412.3" width="1.15" height="73.9" fill="#ffff26"/>
<rect x="203.1" y="485.9" width="1.15" height="35.7" fill="#a844ff"/>
<rect x="203.1" y="521.4" width="1.15" height="11.4" fill="#a844ff"/>
<rect x="204.1" y="368.8" width="1.15" height="44.6" fill="#b8b0a0"/>
<rect x="204.1" y="413.2" width="1.15" height="67.0" fill="#ffff26"/>
<rect x="204.1" y="480.1" width="1.15" height="25.4" fill="#a844ff"/>
<rect x="204.1" y="505.3" width="1.15" height="27.5" fill="#a844ff"/>
<rect x="205.1" y="368.8" width="1.15" height="68.5" fill="#9a9af6"/>
<rect x="205.1" y="437.1" width="1.15" height="10.0" fill="#ffff26"/>
<rect x="205.1" y="446.8" width="1.15" height="49.3" fill="#d4a868"/>
<rect x="205.1" y="496.0" width="1.15" height="34.2" fill="#d4a868"/>
<rect x="205.1" y="530.0" width="1.15" height="2.8" fill="#ffff26"/>
<rect x="206.1" y="368.8" width="1.15" height="74.2" fill="#9a9af6"/>
<rect x="206.1" y="442.8" width="1.15" height="46.7" fill="#e0809a"/>
<rect x="206.1" y="489.4" width="1.15" height="30.6" fill="#ffff26"/>
<rect x="206.1" y="519.7" width="1.15" height="13.1" fill="#ffff26"/>
<rect x="207.1" y="368.8" width="1.15" height="70.7" fill="#b8b0a0"/>
<rect x="207.1" y="439.3" width="1.15" height="54.0" fill="#d4a868"/>
<rect x="207.1" y="493.1" width="1.15" height="39.7" fill="#ff8c1e"/>
<rect x="208.1" y="368.8" width="1.15" height="77.2" fill="#9a9af6"/>
<rect x="208.1" y="445.8" width="1.15" height="31.8" fill="#ffff26"/>
<rect x="208.1" y="477.4" width="1.15" height="40.9" fill="#ffff26"/>
<rect x="208.1" y="518.0" width="1.15" height="14.8" fill="#ff8c1e"/>
<rect x="209.1" y="368.8" width="1.15" height="78.6" fill="#9a9af6"/>
<rect x="209.1" y="447.2" width="1.15" height="21.2" fill="#ffff26"/>
<rect x="209.1" y="468.2" width="1.15" height="31.9" fill="#ffff26"/>
<rect x="209.1" y="499.8" width="1.15" height="29.5" fill="#d4a868"/>
<rect x="209.1" y="529.1" width="1.15" height="3.7" fill="#ffff26"/>
<rect x="210.1" y="368.8" width="1.15" height="78.9" fill="#b8b0a0"/>
<rect x="210.1" y="447.5" width="1.15" height="28.4" fill="#ffff26"/>
<rect x="210.1" y="475.7" width="1.15" height="57.1" fill="#ffff26"/>
<rect x="211.1" y="368.8" width="1.15" height="78.5" fill="#9a9af6"/>
<rect x="211.1" y="447.1" width="1.15" height="48.9" fill="#e0809a"/>
<rect x="211.1" y="495.8" width="1.15" height="35.2" fill="#ffff26"/>
<rect x="211.1" y="530.8" width="1.15" height="2.0" fill="#ffff26"/>
<rect x="212.1" y="368.8" width="1.15" height="81.1" fill="#9a9af6"/>
<rect x="212.1" y="449.7" width="1.15" height="41.4" fill="#ff8c1e"/>
<rect x="212.1" y="490.9" width="1.15" height="35.3" fill="#ffff26"/>
<rect x="212.1" y="526.1" width="1.15" height="6.7" fill="#ffff26"/>
<rect x="213.1" y="368.8" width="1.15" height="80.8" fill="#9a9af6"/>
<rect x="213.1" y="449.4" width="1.15" height="47.9" fill="#ffff26"/>
<rect x="213.1" y="497.1" width="1.15" height="35.7" fill="#ffff26"/>
<rect x="214.1" y="368.8" width="1.15" height="73.4" fill="#9a9af6"/>
<rect x="214.1" y="442.0" width="1.15" height="29.0" fill="#ffff26"/>
<rect x="214.1" y="470.8" width="1.15" height="30.0" fill="#ffff26"/>
<rect x="214.1" y="500.6" width="1.15" height="32.2" fill="#ffff26"/>
<rect x="215.1" y="368.8" width="1.15" height="76.0" fill="#9a9af6"/>
<rect x="215.1" y="444.6" width="1.15" height="46.8" fill="#e0809a"/>
<rect x="215.1" y="491.2" width="1.15" height="35.6" fill="#ffff26"/>
<rect x="215.1" y="526.6" width="1.15" height="6.2" fill="#ffff26"/>
<rect x="216.1" y="368.8" width="1.15" height="75.5" fill="#9a9af6"/>
<rect x="216.1" y="444.1" width="1.15" height="48.6" fill="#ff8c1e"/>
<rect x="216.1" y="492.5" width="1.15" height="40.3" fill="#ffff26"/>
<rect x="217.1" y="368.8" width="1.15" height="79.8" fill="#9a9af6"/>
<rect x="217.1" y="448.4" width="1.15" height="58.3" fill="#ffff26"/>
<rect x="217.1" y="506.6" width="1.15" height="26.2" fill="#ff8c1e"/>
<rect x="218.1" y="368.8" width="1.15" height="83.0" fill="#9a9af6"/>
<rect x="218.1" y="451.6" width="1.15" height="23.5" fill="#ffff26"/>
<rect x="218.1" y="474.9" width="1.15" height="14.7" fill="#ff8c1e"/>
<rect x="218.1" y="489.4" width="1.15" height="26.6" fill="#ff8c1e"/>
<rect x="218.1" y="515.9" width="1.15" height="16.9" fill="#ffff26"/>
<rect x="219.1" y="368.8" width="1.15" height="76.4" fill="#9a9af6"/>
<rect x="219.1" y="445.0" width="1.15" height="17.9" fill="#ffff26"/>
<rect x="219.1" y="462.7" width="1.15" height="45.7" fill="#ffff26"/>
<rect x="219.1" y="508.2" width="1.15" height="20.9" fill="#ffff26"/>
<rect x="219.1" y="528.9" width="1.15" height="3.9" fill="#ffff26"/>
<rect x="220.1" y="368.8" width="1.15" height="81.3" fill="#9a9af6"/>
<rect x="220.1" y="449.9" width="1.15" height="27.0" fill="#e0809a"/>
<rect x="220.1" y="476.8" width="1.15" height="52.6" fill="#ffff26"/>
<rect x="220.1" y="529.2" width="1.15" height="3.6" fill="#e0809a"/>
<rect x="221.1" y="368.8" width="1.15" height="83.6" fill="#9a9af6"/>
<rect x="221.1" y="452.2" width="1.15" height="51.4" fill="#d4a868"/>
<rect x="221.1" y="503.4" width="1.15" height="9.0" fill="#ffff26"/>
<rect x="221.1" y="512.2" width="1.15" height="20.6" fill="#d4a868"/>
<rect x="222.1" y="368.8" width="1.15" height="77.7" fill="#9a9af6"/>
<rect x="222.1" y="446.3" width="1.15" height="15.6" fill="#ffff26"/>
<rect x="222.1" y="461.7" width="1.15" height="48.6" fill="#ffff26"/>
<rect x="222.1" y="510.1" width="1.15" height="16.1" fill="#e0809a"/>
<rect x="222.1" y="526.0" width="1.15" height="6.8" fill="#ffff26"/>
<rect x="223.1" y="368.8" width="1.15" height="85.9" fill="#9a9af6"/>
<rect x="223.1" y="454.5" width="1.15" height="48.8" fill="#d4a868"/>
<rect x="223.1" y="503.1" width="1.15" height="29.7" fill="#ff8c1e"/>
<rect x="224.1" y="368.8" width="1.15" height="85.8" fill="#9a9af6"/>
<rect x="224.1" y="454.4" width="1.15" height="44.2" fill="#ffff26"/>
<rect x="224.1" y="498.4" width="1.15" height="34.4" fill="#ffff26"/>
<rect x="225.1" y="368.8" width="1.15" height="86.8" fill="#9a9af6"/>
<rect x="225.1" y="455.4" width="1.15" height="22.0" fill="#ffff26"/>
<rect x="225.1" y="477.1" width="1.15" height="15.4" fill="#ffff26"/>
<rect x="225.1" y="492.4" width="1.15" height="11.2" fill="#ffff26"/>
<rect x="225.1" y="503.4" width="1.15" height="15.7" fill="#ffff26"/>
<rect x="225.1" y="518.9" width="1.15" height="13.9" fill="#ffff26"/>
<rect x="226.1" y="368.8" width="1.15" height="87.1" fill="#9a9af6"/>
<rect x="226.1" y="455.7" width="1.15" height="51.9" fill="#ffff26"/>
<rect x="226.1" y="507.4" width="1.15" height="25.4" fill="#d4a868"/>
<rect x="227.1" y="368.8" width="1.15" height="51.4" fill="#2424d6"/>
<rect x="227.1" y="420.0" width="1.15" height="112.8" fill="#ffff26"/>
<rect x="228.1" y="368.8" width="1.15" height="51.4" fill="#2424d6"/>
<rect x="228.1" y="420.0" width="1.15" height="112.8" fill="#ffff26"/>
<rect x="229.1" y="368.8" width="1.15" height="163.2" fill="#ff8c1e"/>
<rect x="229.1" y="531.8" width="1.15" height="1.0" fill="#a844ff"/>
<rect x="230.1" y="368.8" width="1.15" height="164.0" fill="#ff8c1e"/>
<rect x="231.1" y="368.8" width="1.15" height="25.4" fill="#10aa10"/>
<rect x="231.1" y="394.0" width="1.15" height="135.9" fill="#ff8c1e"/>
<rect x="231.1" y="529.7" width="1.15" height="3.1" fill="#a844ff"/>
<rect x="232.1" y="368.8" width="1.15" height="28.1" fill="#ffff26"/>
<rect x="232.1" y="396.7" width="1.15" height="136.1" fill="#ff8c1e"/>
<rect x="233.1" y="368.8" width="1.15" height="21.3" fill="#e20a0a"/>
<rect x="233.1" y="389.9" width="1.15" height="140.1" fill="#ff8c1e"/>
<rect x="233.1" y="529.8" width="1.15" height="3.0" fill="#a844ff"/>
<rect x="234.1" y="368.8" width="1.15" height="164.0" fill="#ff8c1e"/>
<rect x="235.1" y="368.8" width="1.15" height="164.0" fill="#ff8c1e"/>
<rect x="236.1" y="368.8" width="1.15" height="163.8" fill="#ff8c1e"/>
<rect x="236.1" y="532.4" width="1.15" height="0.4" fill="#a844ff"/>
<rect x="237.1" y="368.8" width="1.15" height="164.0" fill="#ff8c1e"/>
<rect x="238.1" y="368.8" width="1.15" height="20.0" fill="#d4a868"/>
<rect x="238.1" y="388.6" width="1.15" height="140.0" fill="#ff8c1e"/>
<rect x="238.1" y="528.4" width="1.15" height="4.4" fill="#a844ff"/>
<rect x="239.1" y="368.8" width="1.15" height="16.0" fill="#ffff26"/>
<rect x="239.1" y="384.6" width="1.15" height="142.8" fill="#ff8c1e"/>
<rect x="239.1" y="527.2" width="1.15" height="5.6" fill="#a844ff"/>
<rect x="240.1" y="368.8" width="1.15" height="152.1" fill="#ff8c1e"/>
<rect x="240.1" y="520.7" width="1.15" height="12.1" fill="#a844ff"/>
<rect x="241.1" y="368.8" width="1.15" height="147.6" fill="#ff8c1e"/>
<rect x="241.1" y="516.2" width="1.15" height="16.6" fill="#a844ff"/>
<rect x="242.1" y="368.8" width="1.15" height="143.9" fill="#ff8c1e"/>
<rect x="242.1" y="512.5" width="1.15" height="20.3" fill="#a844ff"/>
<rect x="243.1" y="368.8" width="1.15" height="137.4" fill="#ff8c1e"/>
<rect x="243.1" y="506.0" width="1.15" height="26.8" fill="#a844ff"/>
<rect x="244.1" y="368.8" width="1.15" height="132.6" fill="#ff8c1e"/>
<rect x="244.1" y="501.2" width="1.15" height="31.6" fill="#a844ff"/>
<rect x="245.1" y="368.8" width="1.15" height="130.0" fill="#ff8c1e"/>
<rect x="245.1" y="498.6" width="1.15" height="34.2" fill="#a844ff"/>
<rect x="246.1" y="368.8" width="1.15" height="121.3" fill="#ff8c1e"/>
<rect x="246.1" y="489.9" width="1.15" height="42.9" fill="#a844ff"/>
<rect x="247.1" y="368.8" width="1.15" height="120.8" fill="#ff8c1e"/>
<rect x="247.1" y="489.4" width="1.15" height="43.4" fill="#a844ff"/>
<rect x="248.1" y="368.8" width="1.15" height="110.2" fill="#ff8c1e"/>
<rect x="248.1" y="478.8" width="1.15" height="54.0" fill="#a844ff"/>
<rect x="249.1" y="368.8" width="1.15" height="104.4" fill="#ff8c1e"/>
<rect x="249.1" y="473.0" width="1.15" height="59.8" fill="#a844ff"/>
<rect x="250.1" y="368.8" width="1.15" height="33.1" fill="#10aa10"/>
<rect x="250.1" y="401.7" width="1.15" height="70.6" fill="#ff8c1e"/>
<rect x="250.1" y="472.1" width="1.15" height="60.7" fill="#a844ff"/>
<rect x="251.1" y="368.8" width="1.15" height="96.9" fill="#ff8c1e"/>
<rect x="251.1" y="465.5" width="1.15" height="67.3" fill="#a844ff"/>
<rect x="252.1" y="368.8" width="1.15" height="91.4" fill="#ff8c1e"/>
<rect x="252.1" y="460.0" width="1.15" height="72.8" fill="#a844ff"/>
<rect x="253.1" y="368.8" width="1.15" height="86.1" fill="#ff8c1e"/>
<rect x="253.1" y="454.7" width="1.15" height="78.1" fill="#a844ff"/>
<rect x="254.1" y="368.8" width="1.15" height="79.0" fill="#ff8c1e"/>
<rect x="254.1" y="447.6" width="1.15" height="85.2" fill="#a844ff"/>
<rect x="255.1" y="368.8" width="1.15" height="1.5" fill="#ffff26"/>
<rect x="255.1" y="370.1" width="1.15" height="162.7" fill="#a844ff"/>
<rect x="256.1" y="365.1" width="1.15" height="167.7" fill="#a844ff"/>
<rect x="257.1" y="368.8" width="1.15" height="1.4" fill="#10aa10"/>
<rect x="257.1" y="370.0" width="1.15" height="162.8" fill="#a844ff"/>
<rect x="258.1" y="366.9" width="1.15" height="165.9" fill="#a844ff"/>
<rect x="259.1" y="367.3" width="1.15" height="165.5" fill="#a844ff"/>
<rect x="260.1" y="368.8" width="1.15" height="3.7" fill="#ffff26"/>
<rect x="260.1" y="372.3" width="1.15" height="92.9" fill="#a844ff"/>
<rect x="260.1" y="464.9" width="1.15" height="67.9" fill="#5a50e0"/>
<rect x="261.1" y="369.4" width="1.15" height="163.4" fill="#a844ff"/>
<rect x="262.1" y="364.9" width="1.15" height="167.9" fill="#a844ff"/>
<rect x="263.1" y="368.8" width="1.15" height="3.7" fill="#ffff26"/>
<rect x="263.1" y="372.3" width="1.15" height="103.6" fill="#a844ff"/>
<rect x="263.1" y="475.7" width="1.15" height="57.1" fill="#5a50e0"/>
<rect x="264.1" y="366.5" width="1.15" height="151.0" fill="#a844ff"/>
<rect x="264.1" y="517.3" width="1.15" height="15.5" fill="#5a50e0"/>
<rect x="265.1" y="368.8" width="1.15" height="1.7" fill="#ffff26"/>
<rect x="265.1" y="370.3" width="1.15" height="162.5" fill="#a844ff"/>
<rect x="266.1" y="368.8" width="1.15" height="9.7" fill="#ffff26"/>
<rect x="266.1" y="378.3" width="1.15" height="154.5" fill="#a844ff"/>
<rect x="267.1" y="368.8" width="1.15" height="2.2" fill="#10aa10"/>
<rect x="267.1" y="370.8" width="1.15" height="162.0" fill="#a844ff"/>
<rect x="268.1" y="366.0" width="1.15" height="166.8" fill="#a844ff"/>
<rect x="269.1" y="369.3" width="1.15" height="163.5" fill="#a844ff"/>
<rect x="270.1" y="368.8" width="1.15" height="3.3" fill="#ffff26"/>
<rect x="270.1" y="371.9" width="1.15" height="88.5" fill="#a844ff"/>
<rect x="270.1" y="460.2" width="1.15" height="72.6" fill="#5a50e0"/>
<rect x="271.1" y="368.8" width="1.15" height="1.7" fill="#ffff26"/>
<rect x="271.1" y="370.3" width="1.15" height="162.5" fill="#a844ff"/>
<rect x="272.1" y="368.8" width="1.15" height="3.9" fill="#ffff26"/>
<rect x="272.1" y="372.5" width="1.15" height="160.3" fill="#a844ff"/>
<rect x="273.1" y="368.8" width="1.15" height="2.0" fill="#d4a868"/>
<rect x="273.1" y="370.6" width="1.15" height="85.2" fill="#a844ff"/>
<rect x="273.1" y="455.6" width="1.15" height="77.2" fill="#5a50e0"/>
<rect x="274.1" y="366.1" width="1.15" height="166.7" fill="#a844ff"/>
<rect x="275.1" y="368.8" width="1.15" height="2.4" fill="#10aa10"/>
<rect x="275.1" y="371.0" width="1.15" height="161.8" fill="#a844ff"/>
<rect x="276.1" y="367.0" width="1.15" height="165.8" fill="#a844ff"/>
<rect x="277.1" y="368.8" width="1.15" height="2.6" fill="#10aa10"/>
<rect x="277.1" y="371.2" width="1.15" height="136.8" fill="#a844ff"/>
<rect x="277.1" y="507.8" width="1.15" height="25.0" fill="#5a50e0"/>
<rect x="278.1" y="368.8" width="1.15" height="3.9" fill="#ffff26"/>
<rect x="278.1" y="372.5" width="1.15" height="160.3" fill="#a844ff"/>
<rect x="279.1" y="368.8" width="1.15" height="2.1" fill="#ffff26"/>
<rect x="279.1" y="370.7" width="1.15" height="162.1" fill="#a844ff"/>
<rect x="280.1" y="368.8" width="1.15" height="3.5" fill="#d4a868"/>
<rect x="280.1" y="372.1" width="1.15" height="160.7" fill="#a844ff"/>
<rect x="281.1" y="368.8" width="1.15" height="8.9" fill="#ff8c1e"/>
<rect x="281.1" y="377.5" width="1.15" height="155.3" fill="#a844ff"/>
<rect x="282.1" y="368.8" width="1.15" height="6.5" fill="#10aa10"/>
<rect x="282.1" y="375.1" width="1.15" height="157.7" fill="#a844ff"/>
<rect x="283.1" y="368.8" width="1.15" height="12.5" fill="#ffff26"/>
<rect x="283.1" y="381.1" width="1.15" height="151.7" fill="#a844ff"/>
<rect x="284.1" y="368.8" width="1.15" height="18.0" fill="#ffff26"/>
<rect x="284.1" y="386.6" width="1.15" height="105.5" fill="#a844ff"/>
<rect x="284.1" y="491.9" width="1.15" height="40.9" fill="#5a50e0"/>
<rect x="285.1" y="368.8" width="1.15" height="20.6" fill="#ffff26"/>
<rect x="285.1" y="389.2" width="1.15" height="143.6" fill="#a844ff"/>
<rect x="286.1" y="368.8" width="1.15" height="21.3" fill="#ffff26"/>
<rect x="286.1" y="389.9" width="1.15" height="1.3" fill="#ffff26"/>
<rect x="286.1" y="391.0" width="1.15" height="141.8" fill="#a844ff"/>
<rect x="287.1" y="368.8" width="1.15" height="13.6" fill="#ffff26"/>
<rect x="287.1" y="382.2" width="1.15" height="13.8" fill="#ff8c1e"/>
<rect x="287.1" y="395.8" width="1.15" height="69.6" fill="#a844ff"/>
<rect x="287.1" y="465.2" width="1.15" height="67.6" fill="#5a50e0"/>
<rect x="288.1" y="368.8" width="1.15" height="21.5" fill="#10aa10"/>
<rect x="288.1" y="390.1" width="1.15" height="3.6" fill="#ffff26"/>
<rect x="288.1" y="393.5" width="1.15" height="139.3" fill="#a844ff"/>
<rect x="289.1" y="368.8" width="1.15" height="22.0" fill="#ffff26"/>
<rect x="289.1" y="390.6" width="1.15" height="6.7" fill="#ffff26"/>
<rect x="289.1" y="397.1" width="1.15" height="102.5" fill="#a844ff"/>
<rect x="289.1" y="499.4" width="1.15" height="33.4" fill="#5a50e0"/>
<rect x="290.1" y="368.8" width="1.15" height="22.3" fill="#10aa10"/>
<rect x="290.1" y="390.9" width="1.15" height="9.3" fill="#ff8c1e"/>
<rect x="290.1" y="399.9" width="1.15" height="132.9" fill="#a844ff"/>
<rect x="291.1" y="368.8" width="1.15" height="18.6" fill="#ffff26"/>
<rect x="291.1" y="387.2" width="1.15" height="11.8" fill="#10aa10"/>
<rect x="291.1" y="398.8" width="1.15" height="134.0" fill="#a844ff"/>
<rect x="292.1" y="368.8" width="1.15" height="20.7" fill="#d4a868"/>
<rect x="292.1" y="389.3" width="1.15" height="10.9" fill="#ffff26"/>
<rect x="292.1" y="400.1" width="1.15" height="93.7" fill="#a844ff"/>
<rect x="292.1" y="493.6" width="1.15" height="39.2" fill="#5a50e0"/>
<rect x="293.1" y="368.8" width="1.15" height="16.1" fill="#ff8c1e"/>
<rect x="293.1" y="384.7" width="1.15" height="22.1" fill="#ff8c1e"/>
<rect x="293.1" y="406.6" width="1.15" height="126.2" fill="#a844ff"/>
<rect x="294.1" y="368.8" width="1.15" height="11.5" fill="#ffff26"/>
<rect x="294.1" y="380.1" width="1.15" height="16.8" fill="#ffff26"/>
<rect x="294.1" y="396.8" width="1.15" height="13.1" fill="#ffff26"/>
<rect x="294.1" y="409.6" width="1.15" height="123.2" fill="#a844ff"/>
<rect x="295.1" y="368.8" width="1.15" height="32.0" fill="#ffff26"/>
<rect x="295.1" y="400.6" width="1.15" height="9.9" fill="#ff8c1e"/>
<rect x="295.1" y="410.3" width="1.15" height="122.5" fill="#a844ff"/>
<rect x="296.1" y="368.8" width="1.15" height="9.2" fill="#d4a868"/>
<rect x="296.1" y="377.8" width="1.15" height="17.7" fill="#ffff26"/>
<rect x="296.1" y="395.4" width="1.15" height="1.0" fill="#10aa10"/>
<rect x="296.1" y="396.2" width="1.15" height="16.3" fill="#ff8c1e"/>
<rect x="296.1" y="412.3" width="1.15" height="120.5" fill="#a844ff"/>
<rect x="297.1" y="368.8" width="1.15" height="15.6" fill="#10aa10"/>
<rect x="297.1" y="384.2" width="1.15" height="17.7" fill="#ffff26"/>
<rect x="297.1" y="401.7" width="1.15" height="5.3" fill="#ff8c1e"/>
<rect x="297.1" y="406.8" width="1.15" height="126.0" fill="#a844ff"/>
<rect x="298.1" y="368.8" width="1.15" height="22.1" fill="#ffff26"/>
<rect x="298.1" y="390.7" width="1.15" height="7.7" fill="#ff8c1e"/>
<rect x="298.1" y="398.2" width="1.15" height="13.0" fill="#ff8c1e"/>
<rect x="298.1" y="411.0" width="1.15" height="121.8" fill="#a844ff"/>
<rect x="299.1" y="368.8" width="1.15" height="23.8" fill="#ffff26"/>
<rect x="299.1" y="392.4" width="1.15" height="23.5" fill="#ff8c1e"/>
<rect x="299.1" y="415.6" width="1.15" height="117.2" fill="#a844ff"/>
<rect x="300.1" y="368.8" width="1.15" height="22.0" fill="#1a8cb0"/>
<rect x="300.1" y="390.6" width="1.15" height="19.9" fill="#b8b0a0"/>
<rect x="300.1" y="410.3" width="1.15" height="122.5" fill="#a844ff"/>
<rect x="301.1" y="368.8" width="1.15" height="38.9" fill="#10aa10"/>
<rect x="301.1" y="407.5" width="1.15" height="6.7" fill="#ff8c1e"/>
<rect x="301.1" y="414.0" width="1.15" height="118.8" fill="#a844ff"/>
<rect x="302.1" y="368.8" width="1.15" height="32.9" fill="#ffff26"/>
<rect x="302.1" y="401.5" width="1.15" height="11.8" fill="#ff8c1e"/>
<rect x="302.1" y="413.1" width="1.15" height="119.7" fill="#a844ff"/>
<rect x="303.1" y="368.8" width="1.15" height="23.7" fill="#ffff26"/>
<rect x="303.1" y="392.3" width="1.15" height="9.1" fill="#10aa10"/>
<rect x="303.1" y="401.2" width="1.15" height="11.3" fill="#1a8cb0"/>
<rect x="303.1" y="412.3" width="1.15" height="8.2" fill="#ff8c1e"/>
<rect x="303.1" y="420.3" width="1.15" height="112.5" fill="#a844ff"/>
<rect x="304.1" y="368.8" width="1.15" height="13.9" fill="#10aa10"/>
<rect x="304.1" y="382.5" width="1.15" height="17.9" fill="#1a8cb0"/>
<rect x="304.1" y="400.2" width="1.15" height="14.8" fill="#ff8c1e"/>
<rect x="304.1" y="414.9" width="1.15" height="117.9" fill="#a844ff"/>
<rect x="305.1" y="368.8" width="1.15" height="12.6" fill="#1a8cb0"/>
<rect x="305.1" y="381.2" width="1.15" height="38.2" fill="#10aa10"/>
<rect x="305.1" y="419.3" width="1.15" height="113.5" fill="#a844ff"/>
<rect x="306.1" y="368.8" width="1.15" height="23.6" fill="#ffff26"/>
<rect x="306.1" y="392.2" width="1.15" height="12.7" fill="#b8b0a0"/>
<rect x="306.1" y="404.7" width="1.15" height="13.0" fill="#ff8c1e"/>
<rect x="306.1" y="417.5" width="1.15" height="115.3" fill="#a844ff"/>
<rect x="307.1" y="368.8" width="1.15" height="27.1" fill="#10aa10"/>
<rect x="307.1" y="395.7" width="1.15" height="10.8" fill="#b8b0a0"/>
<rect x="307.1" y="406.3" width="1.15" height="15.4" fill="#ff8c1e"/>
<rect x="307.1" y="421.5" width="1.15" height="111.3" fill="#a844ff"/>
<rect x="308.1" y="368.8" width="1.15" height="18.4" fill="#ffff26"/>
<rect x="308.1" y="387.0" width="1.15" height="20.0" fill="#10aa10"/>
<rect x="308.1" y="406.9" width="1.15" height="13.4" fill="#ff8c1e"/>
<rect x="308.1" y="420.1" width="1.15" height="112.7" fill="#a844ff"/>
<rect x="309.1" y="368.8" width="1.15" height="38.9" fill="#d4a868"/>
<rect x="309.1" y="407.5" width="1.15" height="12.1" fill="#1a8cb0"/>
<rect x="309.1" y="419.4" width="1.15" height="113.4" fill="#a844ff"/>
<rect x="310.1" y="368.8" width="1.15" height="31.5" fill="#ffff26"/>
<rect x="310.1" y="400.1" width="1.15" height="19.6" fill="#ffff26"/>
<rect x="310.1" y="419.9" width="1.15" height="112.9" fill="#a844ff"/>
<rect x="311.1" y="368.8" width="1.15" height="42.1" fill="#10aa10"/>
<rect x="311.1" y="410.7" width="1.15" height="13.2" fill="#ffff26"/>
<rect x="311.1" y="423.7" width="1.15" height="109.1" fill="#a844ff"/>
<rect x="312.1" y="368.8" width="1.15" height="36.4" fill="#ffff26"/>
<rect x="312.1" y="405.0" width="1.15" height="9.9" fill="#ffff26"/>
<rect x="312.1" y="414.8" width="1.15" height="13.4" fill="#ff8c1e"/>
<rect x="312.1" y="427.9" width="1.15" height="104.9" fill="#a844ff"/>
<rect x="313.1" y="368.8" width="1.15" height="29.5" fill="#d4a868"/>
<rect x="313.1" y="398.1" width="1.15" height="12.3" fill="#d4a868"/>
<rect x="313.1" y="410.1" width="1.15" height="19.2" fill="#ff8c1e"/>
<rect x="313.1" y="429.2" width="1.15" height="103.6" fill="#a844ff"/>
<rect x="314.1" y="368.8" width="1.15" height="38.9" fill="#d4a868"/>
<rect x="314.1" y="407.5" width="1.15" height="5.7" fill="#d4a868"/>
<rect x="314.1" y="413.0" width="1.15" height="10.1" fill="#ff8c1e"/>
<rect x="314.1" y="422.9" width="1.15" height="109.9" fill="#a844ff"/>
<rect x="315.1" y="368.8" width="1.15" height="35.2" fill="#10aa10"/>
<rect x="315.1" y="403.8" width="1.15" height="9.1" fill="#1a8cb0"/>
<rect x="315.1" y="412.8" width="1.15" height="10.8" fill="#ffff26"/>
<rect x="315.1" y="423.4" width="1.15" height="7.4" fill="#ff8c1e"/>
<rect x="315.1" y="430.5" width="1.15" height="47.0" fill="#a844ff"/>
<rect x="315.1" y="477.4" width="1.15" height="55.4" fill="#5a50e0"/>
<rect x="316.1" y="368.8" width="1.15" height="41.0" fill="#ffff26"/>
<rect x="316.1" y="409.6" width="1.15" height="16.3" fill="#ff8c1e"/>
<rect x="316.1" y="425.7" width="1.15" height="107.1" fill="#a844ff"/>
<rect x="317.1" y="368.8" width="1.15" height="31.8" fill="#10aa10"/>
<rect x="317.1" y="400.4" width="1.15" height="9.3" fill="#10aa10"/>
<rect x="317.1" y="409.5" width="1.15" height="21.9" fill="#ff8c1e"/>
<rect x="317.1" y="431.3" width="1.15" height="101.5" fill="#a844ff"/>
<rect x="318.1" y="368.8" width="1.15" height="25.4" fill="#10aa10"/>
<rect x="318.1" y="394.0" width="1.15" height="22.8" fill="#ffff26"/>
<rect x="318.1" y="416.6" width="1.15" height="10.7" fill="#ff8c1e"/>
<rect x="318.1" y="427.1" width="1.15" height="105.7" fill="#a844ff"/>
<rect x="319.1" y="368.8" width="1.15" height="16.6" fill="#ffff26"/>
<rect x="319.1" y="385.2" width="1.15" height="32.9" fill="#10aa10"/>
<rect x="319.1" y="418.0" width="1.15" height="16.7" fill="#b8b0a0"/>
<rect x="319.1" y="434.4" width="1.15" height="42.1" fill="#a844ff"/>
<rect x="319.1" y="476.3" width="1.15" height="56.5" fill="#5a50e0"/>
<rect x="320.1" y="368.8" width="1.15" height="30.5" fill="#ffff26"/>
<rect x="320.1" y="399.1" width="1.15" height="35.0" fill="#ffff26"/>
<rect x="320.1" y="433.9" width="1.15" height="98.9" fill="#a844ff"/>
<rect x="321.1" y="368.8" width="1.15" height="34.7" fill="#d4a868"/>
<rect x="321.1" y="403.3" width="1.15" height="29.1" fill="#2424d6"/>
<rect x="321.1" y="432.6" width="1.15" height="100.2" fill="#a844ff"/>
<rect x="322.1" y="368.8" width="1.15" height="20.2" fill="#ffff26"/>
<rect x="322.1" y="388.8" width="1.15" height="33.4" fill="#10aa10"/>
<rect x="322.1" y="422.0" width="1.15" height="11.8" fill="#1a8cb0"/>
<rect x="322.1" y="433.6" width="1.15" height="77.1" fill="#a844ff"/>
<rect x="322.1" y="510.5" width="1.15" height="22.3" fill="#5a50e0"/>
<rect x="323.1" y="368.8" width="1.15" height="33.0" fill="#ffff26"/>
<rect x="323.1" y="401.6" width="1.15" height="22.5" fill="#10aa10"/>
<rect x="323.1" y="423.9" width="1.15" height="9.2" fill="#ff8c1e"/>
<rect x="323.1" y="432.9" width="1.15" height="99.9" fill="#a844ff"/>
<rect x="324.1" y="368.8" width="1.15" height="42.8" fill="#ffff26"/>
<rect x="324.1" y="411.4" width="1.15" height="24.8" fill="#ff8c1e"/>
<rect x="324.1" y="436.0" width="1.15" height="96.8" fill="#a844ff"/>
<rect x="325.1" y="368.8" width="1.15" height="31.3" fill="#1a8cb0"/>
<rect x="325.1" y="399.9" width="1.15" height="38.0" fill="#ffff26"/>
<rect x="325.1" y="437.7" width="1.15" height="0.9" fill="#ffff26"/>
<rect x="325.1" y="438.4" width="1.15" height="64.1" fill="#a844ff"/>
<rect x="325.1" y="502.2" width="1.15" height="30.6" fill="#5a50e0"/>
<rect x="326.1" y="368.8" width="1.15" height="14.4" fill="#ffff26"/>
<rect x="326.1" y="383.0" width="1.15" height="40.0" fill="#e0809a"/>
<rect x="326.1" y="422.8" width="1.15" height="12.2" fill="#ff8c1e"/>
<rect x="326.1" y="434.7" width="1.15" height="98.1" fill="#a844ff"/>
<rect x="327.1" y="368.8" width="1.15" height="42.7" fill="#10aa10"/>
<rect x="327.1" y="411.3" width="1.15" height="25.0" fill="#d4a868"/>
<rect x="327.1" y="436.1" width="1.15" height="96.7" fill="#a844ff"/>
<rect x="328.1" y="368.8" width="1.15" height="35.6" fill="#10aa10"/>
<rect x="328.1" y="404.2" width="1.15" height="17.3" fill="#1a8cb0"/>
<rect x="328.1" y="421.3" width="1.15" height="19.9" fill="#ff8c1e"/>
<rect x="328.1" y="441.0" width="1.15" height="91.8" fill="#a844ff"/>
<rect x="329.1" y="368.8" width="1.15" height="21.8" fill="#d4a868"/>
<rect x="329.1" y="390.4" width="1.15" height="19.4" fill="#ff8c1e"/>
<rect x="329.1" y="409.6" width="1.15" height="31.1" fill="#ffff26"/>
<rect x="329.1" y="440.5" width="1.15" height="92.3" fill="#a844ff"/>
<rect x="330.1" y="368.8" width="1.15" height="44.1" fill="#10aa10"/>
<rect x="330.1" y="412.7" width="1.15" height="27.4" fill="#ffff26"/>
<rect x="330.1" y="439.9" width="1.15" height="92.9" fill="#a844ff"/>
<rect x="331.1" y="368.8" width="1.15" height="40.7" fill="#ffff26"/>
<rect x="331.1" y="409.3" width="1.15" height="10.3" fill="#ffff26"/>
<rect x="331.1" y="419.4" width="1.15" height="12.4" fill="#1a8cb0"/>
<rect x="331.1" y="431.6" width="1.15" height="10.6" fill="#ff8c1e"/>
<rect x="331.1" y="442.0" width="1.15" height="90.8" fill="#a844ff"/>
<rect x="332.1" y="368.8" width="1.15" height="39.1" fill="#10aa10"/>
<rect x="332.1" y="407.7" width="1.15" height="36.4" fill="#ff8c1e"/>
<rect x="332.1" y="443.9" width="1.15" height="2.0" fill="#1a8cb0"/>
<rect x="332.1" y="445.7" width="1.15" height="87.1" fill="#a844ff"/>
<rect x="333.1" y="368.8" width="1.15" height="13.4" fill="#ffff26"/>
<rect x="333.1" y="382.0" width="1.15" height="30.8" fill="#10aa10"/>
<rect x="333.1" y="412.6" width="1.15" height="32.7" fill="#ffff26"/>
<rect x="333.1" y="445.1" width="1.15" height="87.7" fill="#a844ff"/>
<rect x="334.1" y="368.8" width="1.15" height="18.1" fill="#1a8cb0"/>
<rect x="334.1" y="386.7" width="1.15" height="31.6" fill="#1a8cb0"/>
<rect x="334.1" y="418.1" width="1.15" height="23.5" fill="#ffff26"/>
<rect x="334.1" y="441.4" width="1.15" height="9.2" fill="#ff8c1e"/>
<rect x="334.1" y="450.4" width="1.15" height="41.5" fill="#a844ff"/>
<rect x="334.1" y="491.8" width="1.15" height="41.0" fill="#5a50e0"/>
<rect x="335.1" y="368.8" width="1.15" height="18.5" fill="#1a8cb0"/>
<rect x="335.1" y="387.1" width="1.15" height="12.3" fill="#d4a868"/>
<rect x="335.1" y="399.2" width="1.15" height="31.3" fill="#10aa10"/>
<rect x="335.1" y="430.3" width="1.15" height="22.2" fill="#ff8c1e"/>
<rect x="335.1" y="452.3" width="1.15" height="80.5" fill="#a844ff"/>
<rect x="336.1" y="368.8" width="1.15" height="30.2" fill="#1a8cb0"/>
<rect x="336.1" y="398.8" width="1.15" height="8.5" fill="#b8b0a0"/>
<rect x="336.1" y="407.1" width="1.15" height="41.6" fill="#10aa10"/>
<rect x="336.1" y="448.5" width="1.15" height="84.3" fill="#a844ff"/>
<rect x="337.1" y="368.8" width="1.15" height="24.3" fill="#10aa10"/>
<rect x="337.1" y="392.9" width="1.15" height="16.8" fill="#b8b0a0"/>
<rect x="337.1" y="409.5" width="1.15" height="20.4" fill="#e0809a"/>
<rect x="337.1" y="429.7" width="1.15" height="21.8" fill="#10aa10"/>
<rect x="337.1" y="451.3" width="1.15" height="81.5" fill="#a844ff"/>
<rect x="338.1" y="368.8" width="1.15" height="43.6" fill="#ffff26"/>
<rect x="338.1" y="412.2" width="1.15" height="17.7" fill="#d4a868"/>
<rect x="338.1" y="429.7" width="1.15" height="19.3" fill="#ff8c1e"/>
<rect x="338.1" y="448.8" width="1.15" height="7.5" fill="#1a8cb0"/>
<rect x="338.1" y="456.1" width="1.15" height="76.7" fill="#a844ff"/>
<rect x="339.1" y="368.8" width="1.15" height="24.1" fill="#ff8c1e"/>
<rect x="339.1" y="392.7" width="1.15" height="9.7" fill="#1a8cb0"/>
<rect x="339.1" y="402.2" width="1.15" height="25.0" fill="#ffff26"/>
<rect x="339.1" y="427.0" width="1.15" height="10.7" fill="#ffff26"/>
<rect x="339.1" y="437.5" width="1.15" height="18.9" fill="#ff8c1e"/>
<rect x="339.1" y="456.2" width="1.15" height="76.6" fill="#a844ff"/>
<rect x="340.1" y="368.8" width="1.15" height="23.8" fill="#10aa10"/>
<rect x="340.1" y="392.4" width="1.15" height="36.6" fill="#d4a868"/>
<rect x="340.1" y="428.8" width="1.15" height="21.0" fill="#1a8cb0"/>
<rect x="340.1" y="449.6" width="1.15" height="9.0" fill="#ff8c1e"/>
<rect x="340.1" y="458.3" width="1.15" height="74.5" fill="#a844ff"/>
<rect x="341.1" y="368.8" width="1.15" height="11.0" fill="#10aa10"/>
<rect x="341.1" y="379.6" width="1.15" height="14.7" fill="#1a8cb0"/>
<rect x="341.1" y="394.1" width="1.15" height="19.1" fill="#10aa10"/>
<rect x="341.1" y="413.0" width="1.15" height="27.8" fill="#ff8c1e"/>
<rect x="341.1" y="440.6" width="1.15" height="12.5" fill="#ff8c1e"/>
<rect x="341.1" y="453.0" width="1.15" height="79.8" fill="#a844ff"/>
<rect x="342.1" y="368.8" width="1.15" height="38.4" fill="#ffff26"/>
<rect x="342.1" y="407.0" width="1.15" height="41.2" fill="#10aa10"/>
<rect x="342.1" y="448.0" width="1.15" height="10.4" fill="#ff8c1e"/>
<rect x="342.1" y="458.3" width="1.15" height="1.0" fill="#1a8cb0"/>
<rect x="342.1" y="459.1" width="1.15" height="73.7" fill="#a844ff"/>
<rect x="343.1" y="368.8" width="1.15" height="8.6" fill="#ffff26"/>
<rect x="343.1" y="377.2" width="1.15" height="34.5" fill="#ff8c1e"/>
<rect x="343.1" y="411.5" width="1.15" height="42.1" fill="#10aa10"/>
<rect x="343.1" y="453.4" width="1.15" height="9.2" fill="#ffff26"/>
<rect x="343.1" y="462.5" width="1.15" height="43.9" fill="#a844ff"/>
<rect x="343.1" y="506.2" width="1.15" height="26.6" fill="#5a50e0"/>
<rect x="344.1" y="368.8" width="1.15" height="40.4" fill="#d4a868"/>
<rect x="344.1" y="409.0" width="1.15" height="27.2" fill="#ffff26"/>
<rect x="344.1" y="436.1" width="1.15" height="15.5" fill="#1a8cb0"/>
<rect x="344.1" y="451.4" width="1.15" height="13.6" fill="#ff8c1e"/>
<rect x="344.1" y="464.8" width="1.15" height="0.9" fill="#ffff26"/>
<rect x="344.1" y="456.0" width="1.15" height="76.8" fill="#5a50e0"/>
<rect x="345.1" y="368.8" width="1.15" height="37.8" fill="#1a8cb0"/>
<rect x="345.1" y="406.4" width="1.15" height="33.5" fill="#1a8cb0"/>
<rect x="345.1" y="439.7" width="1.15" height="12.7" fill="#10aa10"/>
<rect x="345.1" y="452.3" width="1.15" height="13.8" fill="#ff8c1e"/>
<rect x="345.1" y="465.9" width="1.15" height="66.9" fill="#a844ff"/>
<rect x="346.1" y="368.8" width="1.15" height="21.3" fill="#1a8cb0"/>
<rect x="346.1" y="389.9" width="1.15" height="28.9" fill="#10aa10"/>
<rect x="346.1" y="418.6" width="1.15" height="10.8" fill="#e0809a"/>
<rect x="346.1" y="429.2" width="1.15" height="6.7" fill="#ff8c1e"/>
<rect x="346.1" y="435.7" width="1.15" height="7.6" fill="#1a8cb0"/>
<rect x="346.1" y="443.1" width="1.15" height="89.7" fill="#1a8cb0"/>
<rect x="347.1" y="368.8" width="1.15" height="7.5" fill="#ff8c1e"/>
<rect x="347.1" y="376.1" width="1.15" height="11.5" fill="#10aa10"/>
<rect x="347.1" y="387.5" width="1.15" height="20.3" fill="#10aa10"/>
<rect x="347.1" y="407.5" width="1.15" height="6.3" fill="#1a8cb0"/>
<rect x="347.1" y="413.7" width="1.15" height="17.1" fill="#ffff26"/>
<rect x="347.1" y="430.6" width="1.15" height="12.2" fill="#1a8cb0"/>
<rect x="347.1" y="443.0" width="1.15" height="89.8" fill="#1a8cb0"/>
<rect x="348.1" y="368.8" width="1.15" height="79.3" fill="#9a9af6"/>
<rect x="348.1" y="447.9" width="1.15" height="0.7" fill="#e0809a"/>
<rect x="348.1" y="448.4" width="1.15" height="84.4" fill="#1a8cb0"/>
<rect x="349.1" y="368.8" width="1.15" height="70.4" fill="#9a9af6"/>
<rect x="349.1" y="439.0" width="1.15" height="5.9" fill="#ff8c1e"/>
<rect x="349.1" y="444.7" width="1.15" height="88.1" fill="#1a8cb0"/>
<rect x="350.1" y="368.8" width="1.15" height="72.9" fill="#9a9af6"/>
<rect x="350.1" y="441.5" width="1.15" height="3.4" fill="#e0809a"/>
<rect x="350.1" y="444.7" width="1.15" height="88.1" fill="#1a8cb0"/>
<rect x="351.1" y="368.8" width="1.15" height="70.0" fill="#9a9af6"/>
<rect x="351.1" y="438.6" width="1.15" height="6.5" fill="#ff8c1e"/>
<rect x="351.1" y="445.0" width="1.15" height="87.8" fill="#1a8cb0"/>
<rect x="352.1" y="368.8" width="1.15" height="71.8" fill="#9a9af6"/>
<rect x="352.1" y="440.4" width="1.15" height="1.6" fill="#ffff26"/>
<rect x="352.1" y="441.8" width="1.15" height="91.0" fill="#1a8cb0"/>
<rect x="353.1" y="368.8" width="1.15" height="64.7" fill="#9a9af6"/>
<rect x="353.1" y="433.3" width="1.15" height="8.0" fill="#ffff26"/>
<rect x="353.1" y="441.1" width="1.15" height="91.7" fill="#1a8cb0"/>
<rect x="354.1" y="368.8" width="1.15" height="69.6" fill="#9a9af6"/>
<rect x="354.1" y="438.2" width="1.15" height="3.1" fill="#ffff26"/>
<rect x="354.1" y="441.1" width="1.15" height="91.7" fill="#1a8cb0"/>
<rect x="355.1" y="368.8" width="1.15" height="69.0" fill="#9a9af6"/>
<rect x="355.1" y="437.6" width="1.15" height="3.3" fill="#ffff26"/>
<rect x="355.1" y="440.7" width="1.15" height="92.1" fill="#1a8cb0"/>
<rect x="356.1" y="368.8" width="1.15" height="62.2" fill="#9a9af6"/>
<rect x="356.1" y="430.8" width="1.15" height="7.9" fill="#ffff26"/>
<rect x="356.1" y="438.5" width="1.15" height="94.3" fill="#1a8cb0"/>
<rect x="357.1" y="368.8" width="1.15" height="64.1" fill="#9a9af6"/>
<rect x="357.1" y="432.7" width="1.15" height="3.0" fill="#ff8c1e"/>
<rect x="357.1" y="435.6" width="1.15" height="97.2" fill="#1a8cb0"/>
<rect x="358.1" y="368.8" width="1.15" height="17.4" fill="#ff8c1e"/>
<rect x="358.1" y="386.0" width="1.15" height="16.7" fill="#ff8c1e"/>
<rect x="358.1" y="402.5" width="1.15" height="6.8" fill="#1a8cb0"/>
<rect x="358.1" y="409.1" width="1.15" height="12.0" fill="#10aa10"/>
<rect x="358.1" y="420.9" width="1.15" height="10.0" fill="#ffff26"/>
<rect x="358.1" y="430.7" width="1.15" height="102.1" fill="#1a8cb0"/>
<rect x="359.1" y="368.8" width="1.15" height="19.5" fill="#ffff26"/>
<rect x="359.1" y="388.1" width="1.15" height="25.3" fill="#ff8c1e"/>
<rect x="359.1" y="413.2" width="1.15" height="15.0" fill="#ff8c1e"/>
<rect x="359.1" y="428.0" width="1.15" height="4.2" fill="#e0809a"/>
<rect x="359.1" y="432.0" width="1.15" height="100.8" fill="#1a8cb0"/>
<rect x="360.1" y="368.8" width="1.15" height="13.3" fill="#ffff26"/>
<rect x="360.1" y="381.9" width="1.15" height="11.1" fill="#1a8cb0"/>
<rect x="360.1" y="392.8" width="1.15" height="22.4" fill="#9a9af6"/>
<rect x="360.1" y="415.0" width="1.15" height="14.9" fill="#e0809a"/>
<rect x="360.1" y="429.7" width="1.15" height="103.1" fill="#1a8cb0"/>
<rect x="361.1" y="368.8" width="1.15" height="30.0" fill="#ffff26"/>
<rect x="361.1" y="398.6" width="1.15" height="15.9" fill="#ffff26"/>
<rect x="361.1" y="414.3" width="1.15" height="9.2" fill="#1a8cb0"/>
<rect x="361.1" y="423.3" width="1.15" height="4.8" fill="#10aa10"/>
<rect x="361.1" y="427.8" width="1.15" height="105.0" fill="#1a8cb0"/>
<rect x="362.1" y="368.8" width="1.15" height="23.9" fill="#1a8cb0"/>
<rect x="362.1" y="392.5" width="1.15" height="6.9" fill="#1a8cb0"/>
<rect x="362.1" y="399.2" width="1.15" height="9.7" fill="#10aa10"/>
<rect x="362.1" y="408.6" width="1.15" height="20.8" fill="#e0809a"/>
<rect x="362.1" y="429.2" width="1.15" height="103.6" fill="#1a8cb0"/>
<rect x="363.1" y="368.8" width="1.15" height="11.8" fill="#10aa10"/>
<rect x="363.1" y="380.4" width="1.15" height="27.6" fill="#10aa10"/>
<rect x="363.1" y="407.7" width="1.15" height="20.2" fill="#1a8cb0"/>
<rect x="363.1" y="427.7" width="1.15" height="105.1" fill="#1a8cb0"/>
<rect x="364.1" y="368.8" width="0.65" height="10.8" fill="#1a8cb0"/>
<rect x="364.1" y="379.4" width="0.65" height="8.3" fill="#ff8c1e"/>
<rect x="364.1" y="387.5" width="0.65" height="25.8" fill="#ff8c1e"/>
<rect x="364.1" y="413.1" width="0.65" height="13.6" fill="#1a8cb0"/>
<rect x="364.1" y="426.6" width="0.65" height="106.2" fill="#1a8cb0"/>
</g></g>
<text x="19.7" y="372.7" font-family="Liberation Sans, sans-serif" font-size="8.3" fill="#666" text-anchor="end">1.00</text>
<line x1="20" y1="369.7" x2="22" y2="369.7" stroke="#999" stroke-width="0.8"/>
<text x="19.7" y="413.3" font-family="Liberation Sans, sans-serif" font-size="8.3" fill="#666" text-anchor="end">0.75</text>
<line x1="20" y1="410.3" x2="22" y2="410.3" stroke="#999" stroke-width="0.8"/>
<text x="19.7" y="453.9" font-family="Liberation Sans, sans-serif" font-size="8.3" fill="#666" text-anchor="end">0.50</text>
<line x1="20" y1="450.9" x2="22" y2="450.9" stroke="#999" stroke-width="0.8"/>
<text x="19.7" y="494.5" font-family="Liberation Sans, sans-serif" font-size="8.3" fill="#666" text-anchor="end">0.25</text>
<line x1="20" y1="491.5" x2="22" y2="491.5" stroke="#999" stroke-width="0.8"/>
<text x="19.7" y="535.1" font-family="Liberation Sans, sans-serif" font-size="8.3" fill="#666" text-anchor="end">0.00</text>
<line x1="20" y1="532.1" x2="22" y2="532.1" stroke="#999" stroke-width="0.8"/>
<text x="370" y="357.3" font-family="Liberation Serif, serif" font-weight="bold" font-size="20.5">D</text>
<text x="417" y="383.2" font-family="Liberation Sans, sans-serif" font-size="7" fill="#606060" text-anchor="end">0.29</text>
<text x="417" y="396.8" font-family="Liberation Sans, sans-serif" font-size="7" fill="#606060" text-anchor="end">0.285</text>
<text x="417" y="410.5" font-family="Liberation Sans, sans-serif" font-size="7" fill="#606060" text-anchor="end">0.28</text>
<text x="417" y="424.1" font-family="Liberation Sans, sans-serif" font-size="7" fill="#606060" text-anchor="end">0.275</text>
<text x="417" y="437.7" font-family="Liberation Sans, sans-serif" font-size="7" fill="#606060" text-anchor="end">0.27</text>
<text x="417" y="451.4" font-family="Liberation Sans, sans-serif" font-size="7" fill="#606060" text-anchor="end">0.265</text>
<text x="417" y="465.0" font-family="Liberation Sans, sans-serif" font-size="7" fill="#606060" text-anchor="end">0.26</text>
<text x="417" y="478.6" font-family="Liberation Sans, sans-serif" font-size="7" fill="#606060" text-anchor="end">0.255</text>
<text x="417" y="492.2" font-family="Liberation Sans, sans-serif" font-size="7" fill="#606060" text-anchor="end">0.25</text>
<text x="417" y="505.9" font-family="Liberation Sans, sans-serif" font-size="7" fill="#606060" text-anchor="end">0.245</text>
<text x="417" y="519.5" font-family="Liberation Sans, sans-serif" font-size="7" fill="#606060" text-anchor="end">0.24</text>
<line x1="422" y1="517" x2="674" y2="517" stroke="#d0d0d0" stroke-width="1"/>
<line x1="422" y1="517" x2="422" y2="520" stroke="#d0d0d0" stroke-width="1"/>
<line x1="450" y1="517" x2="450" y2="520" stroke="#d0d0d0" stroke-width="1"/>
<line x1="478" y1="517" x2="478" y2="520" stroke="#d0d0d0" stroke-width="1"/>
<line x1="506" y1="517" x2="506" y2="520" stroke="#d0d0d0" stroke-width="1"/>
<line x1="534" y1="517" x2="534" y2="520" stroke="#d0d0d0" stroke-width="1"/>
<line x1="562" y1="517" x2="562" y2="520" stroke="#d0d0d0" stroke-width="1"/>
<line x1="590" y1="517" x2="590" y2="520" stroke="#d0d0d0" stroke-width="1"/>
<line x1="618" y1="517" x2="618" y2="520" stroke="#d0d0d0" stroke-width="1"/>
<line x1="646" y1="517" x2="646" y2="520" stroke="#d0d0d0" stroke-width="1"/>
<line x1="674" y1="517" x2="674" y2="520" stroke="#d0d0d0" stroke-width="1"/>
<text x="436" y="529.6" font-family="Liberation Sans, sans-serif" font-size="7.5" fill="#606060" text-anchor="middle">2</text>
<text x="464" y="529.6" font-family="Liberation Sans, sans-serif" font-size="7.5" fill="#606060" text-anchor="middle">3</text>
<text x="492" y="529.6" font-family="Liberation Sans, sans-serif" font-size="7.5" fill="#606060" text-anchor="middle">4</text>
<text x="520" y="529.6" font-family="Liberation Sans, sans-serif" font-size="7.5" fill="#606060" text-anchor="middle">5</text>
<text x="548" y="529.6" font-family="Liberation Sans, sans-serif" font-size="7.5" fill="#606060" text-anchor="middle">6</text>
<text x="576" y="529.6" font-family="Liberation Sans, sans-serif" font-size="7.5" fill="#606060" text-anchor="middle">7</text>
<text x="604" y="529.6" font-family="Liberation Sans, sans-serif" font-size="7.5" fill="#606060" text-anchor="middle">8</text>
<text x="632" y="529.6" font-family="Liberation Sans, sans-serif" font-size="7.5" fill="#606060" text-anchor="middle">9</text>
<text x="660" y="529.6" font-family="Liberation Sans, sans-serif" font-size="7.5" fill="#606060" text-anchor="middle">10</text>
<text x="548" y="543" font-family="Liberation Serif, serif" font-size="8.6" fill="#606060" text-anchor="middle">K value</text>
<text transform="translate(394.6 448.8) rotate(-90)" font-family="Liberation Serif, serif" font-size="8.6" fill="#606060" text-anchor="middle">CV error</text>
<path d="M436.1 386.9 L463.8 441.8 L492.0 448.8 L520.2 451.7 L547.9 461.0 L575.7 455.9 L604.0 466.7 L631.8 465.4 L659.9 464.8" fill="none" stroke="#111" stroke-width="2.3" stroke-linejoin="miter"/>
</svg>
</body></html>
